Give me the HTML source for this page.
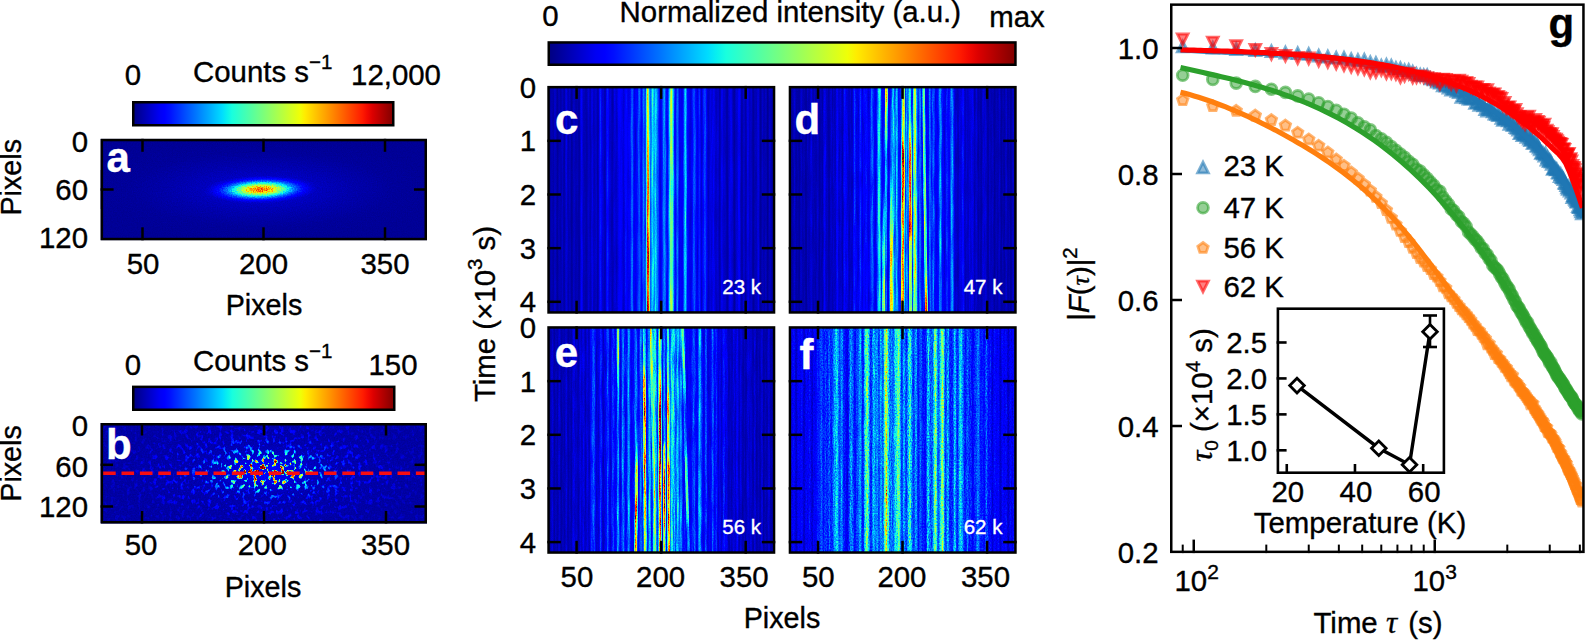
<!DOCTYPE html>
<html><head><meta charset="utf-8"><title>Figure</title>
<style>html,body{margin:0;padding:0;background:#fff;overflow:hidden}svg{display:block}text{font-family:"Liberation Sans",sans-serif;stroke-width:.35px}</style>
</head><body>
<svg width="1585" height="640" viewBox="0 0 1585 640">
<rect width="1585" height="640" fill="#fff"/>
<defs>
<linearGradient id="jet" x1="0" x2="1" y1="0" y2="0"><stop offset="0" stop-color="#000080"/><stop offset="0.02" stop-color="#000097"/><stop offset="0.04" stop-color="#0000ae"/><stop offset="0.06" stop-color="#0000c5"/><stop offset="0.08" stop-color="#0000dc"/><stop offset="0.1" stop-color="#0000f3"/><stop offset="0.12" stop-color="#0000ff"/><stop offset="0.14" stop-color="#000fff"/><stop offset="0.16" stop-color="#0024ff"/><stop offset="0.18" stop-color="#0038ff"/><stop offset="0.2" stop-color="#004dff"/><stop offset="0.22" stop-color="#0061ff"/><stop offset="0.24" stop-color="#0075ff"/><stop offset="0.26" stop-color="#008aff"/><stop offset="0.28" stop-color="#009eff"/><stop offset="0.3" stop-color="#00b2ff"/><stop offset="0.32" stop-color="#00c7ff"/><stop offset="0.34" stop-color="#00dbff"/><stop offset="0.36" stop-color="#08f0ef"/><stop offset="0.38" stop-color="#19ffde"/><stop offset="0.4" stop-color="#29ffce"/><stop offset="0.42" stop-color="#3affbd"/><stop offset="0.44" stop-color="#4affad"/><stop offset="0.46" stop-color="#5aff9c"/><stop offset="0.48" stop-color="#6bff8c"/><stop offset="0.5" stop-color="#7bff7b"/><stop offset="0.52" stop-color="#8cff6b"/><stop offset="0.54" stop-color="#9cff5a"/><stop offset="0.56" stop-color="#adff4a"/><stop offset="0.58" stop-color="#bdff3a"/><stop offset="0.6" stop-color="#ceff29"/><stop offset="0.62" stop-color="#deff19"/><stop offset="0.64" stop-color="#efff08"/><stop offset="0.66" stop-color="#ffec00"/><stop offset="0.68" stop-color="#ffd900"/><stop offset="0.7" stop-color="#ffc600"/><stop offset="0.72" stop-color="#ffb300"/><stop offset="0.74" stop-color="#ffa100"/><stop offset="0.76" stop-color="#ff8e00"/><stop offset="0.78" stop-color="#ff7b00"/><stop offset="0.8" stop-color="#ff6800"/><stop offset="0.82" stop-color="#ff5500"/><stop offset="0.84" stop-color="#ff4200"/><stop offset="0.86" stop-color="#ff2f00"/><stop offset="0.88" stop-color="#ff1c00"/><stop offset="0.9" stop-color="#f30900"/><stop offset="0.92" stop-color="#dc0000"/><stop offset="0.94" stop-color="#c50000"/><stop offset="0.96" stop-color="#ae0000"/><stop offset="0.98" stop-color="#970000"/><stop offset="1" stop-color="#800000"/></linearGradient>
<filter id="fa" x="0" y="0" width="100%" height="100%" color-interpolation-filters="sRGB"><feTurbulence type="fractalNoise" baseFrequency="0.8 0.8" numOctaves="1" seed="10"/><feColorMatrix type="matrix" values="1 0 0 0 0 1 0 0 0 0 1 0 0 0 0 0 0 0 0 1" result="n2"/><feComposite in="SourceGraphic" in2="n2" operator="arithmetic" k1="0.7" k2="0.65" k3="0.012" k4="-0.006" result="s2"/><feComponentTransfer in="s2"><feFuncR type="table" tableValues="0 0 0 0 0 0 0 0 0 0 0 0 0 0 0 0 0 0 0 0 0 0 0 0 0 0 0 0 0 0 0 0 0 0 0 0 0.0323 0.0645 0.0968 0.129 0.161 0.194 0.226 0.258 0.29 0.323 0.355 0.387 0.419 0.452 0.484 0.516 0.548 0.581 0.613 0.645 0.677 0.71 0.742 0.774 0.806 0.839 0.871 0.903 0.935 0.968 1 1 1 1 1 1 1 1 1 1 1 1 1 1 1 1 1 1 1 1 1 1 1 1 0.955 0.909 0.864 0.818 0.773 0.727 0.682 0.636 0.591 0.545 0.5"/><feFuncG type="table" tableValues="0 0 0 0 0 0 0 0 0 0 0 0 0 0.02 0.06 0.1 0.14 0.18 0.22 0.26 0.3 0.34 0.38 0.42 0.46 0.5 0.54 0.58 0.62 0.66 0.7 0.74 0.78 0.82 0.86 0.9 0.94 0.98 1 1 1 1 1 1 1 1 1 1 1 1 1 1 1 1 1 1 1 1 1 1 1 1 1 1 1 0.963 0.926 0.889 0.852 0.815 0.778 0.741 0.704 0.667 0.63 0.593 0.556 0.519 0.481 0.444 0.407 0.37 0.333 0.296 0.259 0.222 0.185 0.148 0.111 0.0741 0.037 0 0 0 0 0 0 0 0 0 0"/><feFuncB type="table" tableValues="0.5 0.545 0.591 0.636 0.682 0.727 0.773 0.818 0.864 0.909 0.955 1 1 1 1 1 1 1 1 1 1 1 1 1 1 1 1 1 1 1 1 1 1 1 1 0.968 0.935 0.903 0.871 0.839 0.806 0.774 0.742 0.71 0.677 0.645 0.613 0.581 0.548 0.516 0.484 0.452 0.419 0.387 0.355 0.323 0.29 0.258 0.226 0.194 0.161 0.129 0.0968 0.0645 0.0323 0 0 0 0 0 0 0 0 0 0 0 0 0 0 0 0 0 0 0 0 0 0 0 0 0 0 0 0 0 0 0 0 0 0 0 0"/></feComponentTransfer></filter>
<radialGradient id="ga1"><stop offset="0" stop-color="#131313"/><stop offset="0.25" stop-color="#0f0f0f"/><stop offset="0.5" stop-color="#0a0a0a"/><stop offset="0.75" stop-color="#060606"/><stop offset="1" stop-color="#050505"/></radialGradient>
<radialGradient id="ga2"><stop offset="0" stop-color="#fff" stop-opacity="0.783"/><stop offset="0.05" stop-color="#fff" stop-opacity="0.775"/><stop offset="0.1" stop-color="#fff" stop-opacity="0.753"/><stop offset="0.15" stop-color="#fff" stop-opacity="0.717"/><stop offset="0.2" stop-color="#fff" stop-opacity="0.669"/><stop offset="0.25" stop-color="#fff" stop-opacity="0.612"/><stop offset="0.3" stop-color="#fff" stop-opacity="0.548"/><stop offset="0.35" stop-color="#fff" stop-opacity="0.482"/><stop offset="0.4" stop-color="#fff" stop-opacity="0.415"/><stop offset="0.45" stop-color="#fff" stop-opacity="0.349"/><stop offset="0.5" stop-color="#fff" stop-opacity="0.288"/><stop offset="0.55" stop-color="#fff" stop-opacity="0.232"/><stop offset="0.6" stop-color="#fff" stop-opacity="0.183"/><stop offset="0.65" stop-color="#fff" stop-opacity="0.140"/><stop offset="0.7" stop-color="#fff" stop-opacity="0.104"/><stop offset="0.75" stop-color="#fff" stop-opacity="0.074"/><stop offset="0.8" stop-color="#fff" stop-opacity="0.051"/><stop offset="0.85" stop-color="#fff" stop-opacity="0.032"/><stop offset="0.9" stop-color="#fff" stop-opacity="0.018"/><stop offset="0.95" stop-color="#fff" stop-opacity="0.008"/><stop offset="1" stop-color="#fff" stop-opacity="0.000"/></radialGradient>
<filter id="fb" x="0" y="0" width="100%" height="100%" color-interpolation-filters="sRGB"><feTurbulence type="fractalNoise" baseFrequency="0.26 0.2" numOctaves="2" seed="11"/><feColorMatrix type="matrix" values="5.5 0 0 0 -2.95 5.5 0 0 0 -2.95 5.5 0 0 0 -2.95 0 0 0 0 1" result="sp"/><feTurbulence type="fractalNoise" baseFrequency="0.7 0.7" numOctaves="1" seed="5"/><feColorMatrix type="matrix" values="1 0 0 0 0 1 0 0 0 0 1 0 0 0 0 0 0 0 0 1" result="gr"/><feComposite in="SourceGraphic" in2="sp" operator="arithmetic" k1="1.35" k2="0.1" k3="0" k4="0.03" result="a1"/><feComposite in="a1" in2="gr" operator="arithmetic" k1="0.6" k2="0.7" k3="0.03" k4="-0.015" result="a2"/><feComponentTransfer in="a2"><feFuncR type="table" tableValues="0 0 0 0 0 0 0 0 0 0 0 0 0 0 0 0 0 0 0 0 0 0 0 0 0 0 0 0 0 0 0 0 0 0 0 0 0.0323 0.0645 0.0968 0.129 0.161 0.194 0.226 0.258 0.29 0.323 0.355 0.387 0.419 0.452 0.484 0.516 0.548 0.581 0.613 0.645 0.677 0.71 0.742 0.774 0.806 0.839 0.871 0.903 0.935 0.968 1 1 1 1 1 1 1 1 1 1 1 1 1 1 1 1 1 1 1 1 1 1 1 1 0.955 0.909 0.864 0.818 0.773 0.727 0.682 0.636 0.591 0.545 0.5"/><feFuncG type="table" tableValues="0 0 0 0 0 0 0 0 0 0 0 0 0 0.02 0.06 0.1 0.14 0.18 0.22 0.26 0.3 0.34 0.38 0.42 0.46 0.5 0.54 0.58 0.62 0.66 0.7 0.74 0.78 0.82 0.86 0.9 0.94 0.98 1 1 1 1 1 1 1 1 1 1 1 1 1 1 1 1 1 1 1 1 1 1 1 1 1 1 1 0.963 0.926 0.889 0.852 0.815 0.778 0.741 0.704 0.667 0.63 0.593 0.556 0.519 0.481 0.444 0.407 0.37 0.333 0.296 0.259 0.222 0.185 0.148 0.111 0.0741 0.037 0 0 0 0 0 0 0 0 0 0"/><feFuncB type="table" tableValues="0.5 0.545 0.591 0.636 0.682 0.727 0.773 0.818 0.864 0.909 0.955 1 1 1 1 1 1 1 1 1 1 1 1 1 1 1 1 1 1 1 1 1 1 1 1 0.968 0.935 0.903 0.871 0.839 0.806 0.774 0.742 0.71 0.677 0.645 0.613 0.581 0.548 0.516 0.484 0.452 0.419 0.387 0.355 0.323 0.29 0.258 0.226 0.194 0.161 0.129 0.0968 0.0645 0.0323 0 0 0 0 0 0 0 0 0 0 0 0 0 0 0 0 0 0 0 0 0 0 0 0 0 0 0 0 0 0 0 0 0 0 0 0"/></feComponentTransfer></filter>
<radialGradient id="gb1"><stop offset="0" stop-color="#e8e8e8"/><stop offset="0.05" stop-color="#e0e0e0"/><stop offset="0.1" stop-color="#c9c9c9"/><stop offset="0.15" stop-color="#a9a9a9"/><stop offset="0.2" stop-color="#858585"/><stop offset="0.25" stop-color="#656565"/><stop offset="0.3" stop-color="#4a4a4a"/><stop offset="0.35" stop-color="#373737"/><stop offset="0.4" stop-color="#2a2a2a"/><stop offset="0.45" stop-color="#212121"/><stop offset="0.5" stop-color="#1b1b1b"/><stop offset="0.55" stop-color="#171717"/><stop offset="0.6" stop-color="#141414"/><stop offset="0.65" stop-color="#121212"/><stop offset="0.7" stop-color="#0f0f0f"/><stop offset="0.75" stop-color="#0d0d0d"/><stop offset="0.8" stop-color="#0b0b0b"/><stop offset="0.85" stop-color="#0a0a0a"/><stop offset="0.9" stop-color="#080808"/><stop offset="0.95" stop-color="#070707"/><stop offset="1" stop-color="#060606"/></radialGradient>
<filter id="sb" x="-10%" y="-2%" width="120%" height="104%"><feGaussianBlur stdDeviation="0.7 0"/></filter>
<filter id="fc" x="0" y="0" width="100%" height="100%" color-interpolation-filters="sRGB"><feTurbulence type="fractalNoise" baseFrequency="0.55 0.025" numOctaves="2" seed="2"/><feColorMatrix type="matrix" values="1 0 0 0 0 1 0 0 0 0 1 0 0 0 0 0 0 0 0 1" result="n1"/><feComposite in="SourceGraphic" in2="n1" operator="arithmetic" k1="0.7" k2="0.65" k3="0" k4="0" result="s1"/><feTurbulence type="fractalNoise" baseFrequency="0.9 0.7" numOctaves="1" seed="9"/><feColorMatrix type="matrix" values="1 0 0 0 0 1 0 0 0 0 1 0 0 0 0 0 0 0 0 1" result="n2"/><feComposite in="s1" in2="n2" operator="arithmetic" k1="0.3" k2="0.85" k3="0" k4="-0" result="s2"/><feComponentTransfer in="s2"><feFuncR type="table" tableValues="0 0 0 0 0 0 0 0 0 0 0 0 0 0 0 0 0 0 0 0 0 0 0 0 0 0 0 0 0 0 0 0 0 0 0 0 0.0323 0.0645 0.0968 0.129 0.161 0.194 0.226 0.258 0.29 0.323 0.355 0.387 0.419 0.452 0.484 0.516 0.548 0.581 0.613 0.645 0.677 0.71 0.742 0.774 0.806 0.839 0.871 0.903 0.935 0.968 1 1 1 1 1 1 1 1 1 1 1 1 1 1 1 1 1 1 1 1 1 1 1 1 0.955 0.909 0.864 0.818 0.773 0.727 0.682 0.636 0.591 0.545 0.5"/><feFuncG type="table" tableValues="0 0 0 0 0 0 0 0 0 0 0 0 0 0.02 0.06 0.1 0.14 0.18 0.22 0.26 0.3 0.34 0.38 0.42 0.46 0.5 0.54 0.58 0.62 0.66 0.7 0.74 0.78 0.82 0.86 0.9 0.94 0.98 1 1 1 1 1 1 1 1 1 1 1 1 1 1 1 1 1 1 1 1 1 1 1 1 1 1 1 0.963 0.926 0.889 0.852 0.815 0.778 0.741 0.704 0.667 0.63 0.593 0.556 0.519 0.481 0.444 0.407 0.37 0.333 0.296 0.259 0.222 0.185 0.148 0.111 0.0741 0.037 0 0 0 0 0 0 0 0 0 0"/><feFuncB type="table" tableValues="0.5 0.545 0.591 0.636 0.682 0.727 0.773 0.818 0.864 0.909 0.955 1 1 1 1 1 1 1 1 1 1 1 1 1 1 1 1 1 1 1 1 1 1 1 1 0.968 0.935 0.903 0.871 0.839 0.806 0.774 0.742 0.71 0.677 0.645 0.613 0.581 0.548 0.516 0.484 0.452 0.419 0.387 0.355 0.323 0.29 0.258 0.226 0.194 0.161 0.129 0.0968 0.0645 0.0323 0 0 0 0 0 0 0 0 0 0 0 0 0 0 0 0 0 0 0 0 0 0 0 0 0 0 0 0 0 0 0 0 0 0 0 0"/></feComponentTransfer></filter>
<linearGradient id="hc" x1="0" x2="1" y1="0" y2="0"><stop offset="0.0000" stop-color="#101010"/><stop offset="0.0022" stop-color="#0d0d0d"/><stop offset="0.0044" stop-color="#090909"/><stop offset="0.0066" stop-color="#070707"/><stop offset="0.0088" stop-color="#070707"/><stop offset="0.0111" stop-color="#090909"/><stop offset="0.0133" stop-color="#0b0b0b"/><stop offset="0.0155" stop-color="#0b0b0b"/><stop offset="0.0177" stop-color="#0b0b0b"/><stop offset="0.0199" stop-color="#090909"/><stop offset="0.0221" stop-color="#090909"/><stop offset="0.0243" stop-color="#0a0a0a"/><stop offset="0.0265" stop-color="#0d0d0d"/><stop offset="0.0288" stop-color="#0f0f0f"/><stop offset="0.0310" stop-color="#101010"/><stop offset="0.0332" stop-color="#0e0e0e"/><stop offset="0.0354" stop-color="#0b0b0b"/><stop offset="0.0376" stop-color="#070707"/><stop offset="0.0398" stop-color="#060606"/><stop offset="0.0420" stop-color="#070707"/><stop offset="0.0442" stop-color="#090909"/><stop offset="0.0465" stop-color="#0c0c0c"/><stop offset="0.0487" stop-color="#0d0d0d"/><stop offset="0.0509" stop-color="#0c0c0c"/><stop offset="0.0531" stop-color="#0a0a0a"/><stop offset="0.0553" stop-color="#0a0a0a"/><stop offset="0.0575" stop-color="#0b0b0b"/><stop offset="0.0597" stop-color="#0d0d0d"/><stop offset="0.0619" stop-color="#0f0f0f"/><stop offset="0.0642" stop-color="#0f0f0f"/><stop offset="0.0664" stop-color="#0c0c0c"/><stop offset="0.0686" stop-color="#090909"/><stop offset="0.0708" stop-color="#080808"/><stop offset="0.0730" stop-color="#090909"/><stop offset="0.0752" stop-color="#0e0e0e"/><stop offset="0.0774" stop-color="#131313"/><stop offset="0.0796" stop-color="#151515"/><stop offset="0.0819" stop-color="#141414"/><stop offset="0.0841" stop-color="#101010"/><stop offset="0.0863" stop-color="#0d0d0d"/><stop offset="0.0885" stop-color="#0b0b0b"/><stop offset="0.0907" stop-color="#0b0b0b"/><stop offset="0.0929" stop-color="#0d0d0d"/><stop offset="0.0951" stop-color="#0e0e0e"/><stop offset="0.0973" stop-color="#0d0d0d"/><stop offset="0.0996" stop-color="#0a0a0a"/><stop offset="0.1018" stop-color="#070707"/><stop offset="0.1040" stop-color="#060606"/><stop offset="0.1062" stop-color="#070707"/><stop offset="0.1084" stop-color="#0a0a0a"/><stop offset="0.1106" stop-color="#0d0d0d"/><stop offset="0.1128" stop-color="#101010"/><stop offset="0.1150" stop-color="#0f0f0f"/><stop offset="0.1173" stop-color="#0d0d0d"/><stop offset="0.1195" stop-color="#0b0b0b"/><stop offset="0.1217" stop-color="#0a0a0a"/><stop offset="0.1239" stop-color="#0a0a0a"/><stop offset="0.1261" stop-color="#0c0c0c"/><stop offset="0.1283" stop-color="#0c0c0c"/><stop offset="0.1305" stop-color="#0c0c0c"/><stop offset="0.1327" stop-color="#090909"/><stop offset="0.1350" stop-color="#070707"/><stop offset="0.1372" stop-color="#070707"/><stop offset="0.1394" stop-color="#0a0a0a"/><stop offset="0.1416" stop-color="#0f0f0f"/><stop offset="0.1438" stop-color="#151515"/><stop offset="0.1460" stop-color="#191919"/><stop offset="0.1482" stop-color="#1a1a1a"/><stop offset="0.1504" stop-color="#161616"/><stop offset="0.1527" stop-color="#111111"/><stop offset="0.1549" stop-color="#0d0d0d"/><stop offset="0.1571" stop-color="#0c0c0c"/><stop offset="0.1593" stop-color="#0c0c0c"/><stop offset="0.1615" stop-color="#0c0c0c"/><stop offset="0.1637" stop-color="#0c0c0c"/><stop offset="0.1659" stop-color="#0a0a0a"/><stop offset="0.1681" stop-color="#090909"/><stop offset="0.1704" stop-color="#090909"/><stop offset="0.1726" stop-color="#0b0b0b"/><stop offset="0.1748" stop-color="#0f0f0f"/><stop offset="0.1770" stop-color="#111111"/><stop offset="0.1792" stop-color="#111111"/><stop offset="0.1814" stop-color="#0f0f0f"/><stop offset="0.1836" stop-color="#0c0c0c"/><stop offset="0.1858" stop-color="#0b0b0b"/><stop offset="0.1881" stop-color="#0d0d0d"/><stop offset="0.1903" stop-color="#121212"/><stop offset="0.1925" stop-color="#161616"/><stop offset="0.1947" stop-color="#171717"/><stop offset="0.1969" stop-color="#141414"/><stop offset="0.1991" stop-color="#101010"/><stop offset="0.2013" stop-color="#0d0d0d"/><stop offset="0.2035" stop-color="#0c0c0c"/><stop offset="0.2058" stop-color="#0e0e0e"/><stop offset="0.2080" stop-color="#101010"/><stop offset="0.2102" stop-color="#121212"/><stop offset="0.2124" stop-color="#111111"/><stop offset="0.2146" stop-color="#0d0d0d"/><stop offset="0.2168" stop-color="#0a0a0a"/><stop offset="0.2190" stop-color="#080808"/><stop offset="0.2212" stop-color="#0a0a0a"/><stop offset="0.2235" stop-color="#101010"/><stop offset="0.2257" stop-color="#191919"/><stop offset="0.2279" stop-color="#212121"/><stop offset="0.2301" stop-color="#252525"/><stop offset="0.2323" stop-color="#242424"/><stop offset="0.2345" stop-color="#1d1d1d"/><stop offset="0.2367" stop-color="#171717"/><stop offset="0.2389" stop-color="#141414"/><stop offset="0.2412" stop-color="#131313"/><stop offset="0.2434" stop-color="#121212"/><stop offset="0.2456" stop-color="#101010"/><stop offset="0.2478" stop-color="#0d0d0d"/><stop offset="0.2500" stop-color="#0a0a0a"/><stop offset="0.2522" stop-color="#0b0b0b"/><stop offset="0.2544" stop-color="#101010"/><stop offset="0.2566" stop-color="#191919"/><stop offset="0.2588" stop-color="#232323"/><stop offset="0.2611" stop-color="#292929"/><stop offset="0.2633" stop-color="#272727"/><stop offset="0.2655" stop-color="#202020"/><stop offset="0.2677" stop-color="#181818"/><stop offset="0.2699" stop-color="#131313"/><stop offset="0.2721" stop-color="#121212"/><stop offset="0.2743" stop-color="#121212"/><stop offset="0.2765" stop-color="#111111"/><stop offset="0.2788" stop-color="#0f0f0f"/><stop offset="0.2810" stop-color="#0c0c0c"/><stop offset="0.2832" stop-color="#0b0b0b"/><stop offset="0.2854" stop-color="#0b0b0b"/><stop offset="0.2876" stop-color="#0e0e0e"/><stop offset="0.2898" stop-color="#121212"/><stop offset="0.2920" stop-color="#141414"/><stop offset="0.2942" stop-color="#151515"/><stop offset="0.2965" stop-color="#131313"/><stop offset="0.2987" stop-color="#111111"/><stop offset="0.3009" stop-color="#0f0f0f"/><stop offset="0.3031" stop-color="#101010"/><stop offset="0.3053" stop-color="#121212"/><stop offset="0.3075" stop-color="#141414"/><stop offset="0.3097" stop-color="#171717"/><stop offset="0.3119" stop-color="#1a1a1a"/><stop offset="0.3142" stop-color="#1c1c1c"/><stop offset="0.3164" stop-color="#1d1d1d"/><stop offset="0.3186" stop-color="#1c1c1c"/><stop offset="0.3208" stop-color="#1b1b1b"/><stop offset="0.3230" stop-color="#1a1a1a"/><stop offset="0.3252" stop-color="#1a1a1a"/><stop offset="0.3274" stop-color="#181818"/><stop offset="0.3296" stop-color="#151515"/><stop offset="0.3319" stop-color="#121212"/><stop offset="0.3341" stop-color="#111111"/><stop offset="0.3363" stop-color="#141414"/><stop offset="0.3385" stop-color="#1a1a1a"/><stop offset="0.3407" stop-color="#202020"/><stop offset="0.3429" stop-color="#232323"/><stop offset="0.3451" stop-color="#212121"/><stop offset="0.3473" stop-color="#1c1c1c"/><stop offset="0.3496" stop-color="#181818"/><stop offset="0.3518" stop-color="#161616"/><stop offset="0.3540" stop-color="#171717"/><stop offset="0.3562" stop-color="#1a1a1a"/><stop offset="0.3584" stop-color="#1c1c1c"/><stop offset="0.3606" stop-color="#1d1d1d"/><stop offset="0.3628" stop-color="#212121"/><stop offset="0.3650" stop-color="#272727"/><stop offset="0.3673" stop-color="#303030"/><stop offset="0.3695" stop-color="#383838"/><stop offset="0.3717" stop-color="#393939"/><stop offset="0.3739" stop-color="#343434"/><stop offset="0.3761" stop-color="#2a2a2a"/><stop offset="0.3783" stop-color="#202020"/><stop offset="0.3805" stop-color="#191919"/><stop offset="0.3827" stop-color="#161616"/><stop offset="0.3850" stop-color="#171717"/><stop offset="0.3872" stop-color="#1a1a1a"/><stop offset="0.3894" stop-color="#1d1d1d"/><stop offset="0.3916" stop-color="#202020"/><stop offset="0.3938" stop-color="#232323"/><stop offset="0.3960" stop-color="#272727"/><stop offset="0.3982" stop-color="#2e2e2e"/><stop offset="0.4004" stop-color="#333333"/><stop offset="0.4027" stop-color="#353535"/><stop offset="0.4049" stop-color="#313131"/><stop offset="0.4071" stop-color="#2b2b2b"/><stop offset="0.4093" stop-color="#242424"/><stop offset="0.4115" stop-color="#202020"/><stop offset="0.4137" stop-color="#222222"/><stop offset="0.4159" stop-color="#292929"/><stop offset="0.4181" stop-color="#333333"/><stop offset="0.4204" stop-color="#3a3a3a"/><stop offset="0.4226" stop-color="#3a3a3a"/><stop offset="0.4248" stop-color="#323232"/><stop offset="0.4270" stop-color="#2b2b2b"/><stop offset="0.4292" stop-color="#2b2b2b"/><stop offset="0.4314" stop-color="#383838"/><stop offset="0.4336" stop-color="#515151"/><stop offset="0.4358" stop-color="#717171"/><stop offset="0.4381" stop-color="#8e8e8e"/><stop offset="0.4403" stop-color="#9d9d9d"/><stop offset="0.4425" stop-color="#979797"/><stop offset="0.4447" stop-color="#808080"/><stop offset="0.4469" stop-color="#626262"/><stop offset="0.4491" stop-color="#484848"/><stop offset="0.4513" stop-color="#393939"/><stop offset="0.4535" stop-color="#393939"/><stop offset="0.4558" stop-color="#434343"/><stop offset="0.4580" stop-color="#515151"/><stop offset="0.4602" stop-color="#5b5b5b"/><stop offset="0.4624" stop-color="#5b5b5b"/><stop offset="0.4646" stop-color="#515151"/><stop offset="0.4668" stop-color="#474747"/><stop offset="0.4690" stop-color="#444444"/><stop offset="0.4712" stop-color="#4a4a4a"/><stop offset="0.4735" stop-color="#525252"/><stop offset="0.4757" stop-color="#545454"/><stop offset="0.4779" stop-color="#4e4e4e"/><stop offset="0.4801" stop-color="#464646"/><stop offset="0.4823" stop-color="#3e3e3e"/><stop offset="0.4845" stop-color="#363636"/><stop offset="0.4867" stop-color="#2e2e2e"/><stop offset="0.4889" stop-color="#262626"/><stop offset="0.4912" stop-color="#1f1f1f"/><stop offset="0.4934" stop-color="#1a1a1a"/><stop offset="0.4956" stop-color="#181818"/><stop offset="0.4978" stop-color="#181818"/><stop offset="0.5000" stop-color="#1b1b1b"/><stop offset="0.5022" stop-color="#212121"/><stop offset="0.5044" stop-color="#282828"/><stop offset="0.5066" stop-color="#303030"/><stop offset="0.5088" stop-color="#383838"/><stop offset="0.5111" stop-color="#404040"/><stop offset="0.5133" stop-color="#444444"/><stop offset="0.5155" stop-color="#414141"/><stop offset="0.5177" stop-color="#393939"/><stop offset="0.5199" stop-color="#2f2f2f"/><stop offset="0.5221" stop-color="#262626"/><stop offset="0.5243" stop-color="#212121"/><stop offset="0.5265" stop-color="#1f1f1f"/><stop offset="0.5288" stop-color="#222222"/><stop offset="0.5310" stop-color="#2c2c2c"/><stop offset="0.5332" stop-color="#3c3c3c"/><stop offset="0.5354" stop-color="#505050"/><stop offset="0.5376" stop-color="#656565"/><stop offset="0.5398" stop-color="#777777"/><stop offset="0.5420" stop-color="#828282"/><stop offset="0.5442" stop-color="#838383"/><stop offset="0.5465" stop-color="#7c7c7c"/><stop offset="0.5487" stop-color="#6f6f6f"/><stop offset="0.5509" stop-color="#5e5e5e"/><stop offset="0.5531" stop-color="#4c4c4c"/><stop offset="0.5553" stop-color="#3b3b3b"/><stop offset="0.5575" stop-color="#2d2d2d"/><stop offset="0.5597" stop-color="#242424"/><stop offset="0.5619" stop-color="#202020"/><stop offset="0.5642" stop-color="#232323"/><stop offset="0.5664" stop-color="#2c2c2c"/><stop offset="0.5686" stop-color="#363636"/><stop offset="0.5708" stop-color="#3c3c3c"/><stop offset="0.5730" stop-color="#393939"/><stop offset="0.5752" stop-color="#2e2e2e"/><stop offset="0.5774" stop-color="#222222"/><stop offset="0.5796" stop-color="#1a1a1a"/><stop offset="0.5819" stop-color="#171717"/><stop offset="0.5841" stop-color="#191919"/><stop offset="0.5863" stop-color="#1b1b1b"/><stop offset="0.5885" stop-color="#1b1b1b"/><stop offset="0.5907" stop-color="#1b1b1b"/><stop offset="0.5929" stop-color="#1b1b1b"/><stop offset="0.5951" stop-color="#1d1d1d"/><stop offset="0.5973" stop-color="#262626"/><stop offset="0.5996" stop-color="#333333"/><stop offset="0.6018" stop-color="#434343"/><stop offset="0.6040" stop-color="#505050"/><stop offset="0.6062" stop-color="#555555"/><stop offset="0.6084" stop-color="#4e4e4e"/><stop offset="0.6106" stop-color="#404040"/><stop offset="0.6128" stop-color="#313131"/><stop offset="0.6150" stop-color="#262626"/><stop offset="0.6173" stop-color="#202020"/><stop offset="0.6195" stop-color="#1d1d1d"/><stop offset="0.6217" stop-color="#1b1b1b"/><stop offset="0.6239" stop-color="#191919"/><stop offset="0.6261" stop-color="#161616"/><stop offset="0.6283" stop-color="#151515"/><stop offset="0.6305" stop-color="#161616"/><stop offset="0.6327" stop-color="#181818"/><stop offset="0.6350" stop-color="#1b1b1b"/><stop offset="0.6372" stop-color="#202020"/><stop offset="0.6394" stop-color="#252525"/><stop offset="0.6416" stop-color="#2c2c2c"/><stop offset="0.6438" stop-color="#323232"/><stop offset="0.6460" stop-color="#343434"/><stop offset="0.6482" stop-color="#313131"/><stop offset="0.6504" stop-color="#2b2b2b"/><stop offset="0.6527" stop-color="#242424"/><stop offset="0.6549" stop-color="#1d1d1d"/><stop offset="0.6571" stop-color="#181818"/><stop offset="0.6593" stop-color="#161616"/><stop offset="0.6615" stop-color="#171717"/><stop offset="0.6637" stop-color="#1d1d1d"/><stop offset="0.6659" stop-color="#242424"/><stop offset="0.6681" stop-color="#282828"/><stop offset="0.6704" stop-color="#262626"/><stop offset="0.6726" stop-color="#1f1f1f"/><stop offset="0.6748" stop-color="#171717"/><stop offset="0.6770" stop-color="#121212"/><stop offset="0.6792" stop-color="#121212"/><stop offset="0.6814" stop-color="#161616"/><stop offset="0.6836" stop-color="#1b1b1b"/><stop offset="0.6858" stop-color="#212121"/><stop offset="0.6881" stop-color="#282828"/><stop offset="0.6903" stop-color="#2d2d2d"/><stop offset="0.6925" stop-color="#303030"/><stop offset="0.6947" stop-color="#2e2e2e"/><stop offset="0.6969" stop-color="#282828"/><stop offset="0.6991" stop-color="#212121"/><stop offset="0.7013" stop-color="#1a1a1a"/><stop offset="0.7035" stop-color="#151515"/><stop offset="0.7058" stop-color="#111111"/><stop offset="0.7080" stop-color="#0e0e0e"/><stop offset="0.7102" stop-color="#0f0f0f"/><stop offset="0.7124" stop-color="#111111"/><stop offset="0.7146" stop-color="#141414"/><stop offset="0.7168" stop-color="#161616"/><stop offset="0.7190" stop-color="#161616"/><stop offset="0.7212" stop-color="#151515"/><stop offset="0.7235" stop-color="#141414"/><stop offset="0.7257" stop-color="#151515"/><stop offset="0.7279" stop-color="#171717"/><stop offset="0.7301" stop-color="#191919"/><stop offset="0.7323" stop-color="#181818"/><stop offset="0.7345" stop-color="#161616"/><stop offset="0.7367" stop-color="#131313"/><stop offset="0.7389" stop-color="#101010"/><stop offset="0.7412" stop-color="#0e0e0e"/><stop offset="0.7434" stop-color="#0e0e0e"/><stop offset="0.7456" stop-color="#101010"/><stop offset="0.7478" stop-color="#121212"/><stop offset="0.7500" stop-color="#131313"/><stop offset="0.7522" stop-color="#111111"/><stop offset="0.7544" stop-color="#0e0e0e"/><stop offset="0.7566" stop-color="#0a0a0a"/><stop offset="0.7588" stop-color="#090909"/><stop offset="0.7611" stop-color="#0c0c0c"/><stop offset="0.7633" stop-color="#111111"/><stop offset="0.7655" stop-color="#171717"/><stop offset="0.7677" stop-color="#1a1a1a"/><stop offset="0.7699" stop-color="#1a1a1a"/><stop offset="0.7721" stop-color="#161616"/><stop offset="0.7743" stop-color="#111111"/><stop offset="0.7765" stop-color="#0f0f0f"/><stop offset="0.7788" stop-color="#0f0f0f"/><stop offset="0.7810" stop-color="#101010"/><stop offset="0.7832" stop-color="#101010"/><stop offset="0.7854" stop-color="#0e0e0e"/><stop offset="0.7876" stop-color="#0b0b0b"/><stop offset="0.7898" stop-color="#080808"/><stop offset="0.7920" stop-color="#070707"/><stop offset="0.7942" stop-color="#0a0a0a"/><stop offset="0.7965" stop-color="#0d0d0d"/><stop offset="0.7987" stop-color="#111111"/><stop offset="0.8009" stop-color="#141414"/><stop offset="0.8031" stop-color="#161616"/><stop offset="0.8053" stop-color="#171717"/><stop offset="0.8075" stop-color="#181818"/><stop offset="0.8097" stop-color="#181818"/><stop offset="0.8119" stop-color="#161616"/><stop offset="0.8142" stop-color="#131313"/><stop offset="0.8164" stop-color="#101010"/><stop offset="0.8186" stop-color="#0c0c0c"/><stop offset="0.8208" stop-color="#090909"/><stop offset="0.8230" stop-color="#070707"/><stop offset="0.8252" stop-color="#080808"/><stop offset="0.8274" stop-color="#0b0b0b"/><stop offset="0.8296" stop-color="#0f0f0f"/><stop offset="0.8319" stop-color="#111111"/><stop offset="0.8341" stop-color="#121212"/><stop offset="0.8363" stop-color="#131313"/><stop offset="0.8385" stop-color="#141414"/><stop offset="0.8407" stop-color="#181818"/><stop offset="0.8429" stop-color="#1b1b1b"/><stop offset="0.8451" stop-color="#1c1c1c"/><stop offset="0.8473" stop-color="#191919"/><stop offset="0.8496" stop-color="#141414"/><stop offset="0.8518" stop-color="#0e0e0e"/><stop offset="0.8540" stop-color="#0a0a0a"/><stop offset="0.8562" stop-color="#080808"/><stop offset="0.8584" stop-color="#090909"/><stop offset="0.8606" stop-color="#0c0c0c"/><stop offset="0.8628" stop-color="#101010"/><stop offset="0.8650" stop-color="#111111"/><stop offset="0.8673" stop-color="#101010"/><stop offset="0.8695" stop-color="#0d0d0d"/><stop offset="0.8717" stop-color="#0a0a0a"/><stop offset="0.8739" stop-color="#090909"/><stop offset="0.8761" stop-color="#0b0b0b"/><stop offset="0.8783" stop-color="#101010"/><stop offset="0.8805" stop-color="#151515"/><stop offset="0.8827" stop-color="#181818"/><stop offset="0.8850" stop-color="#171717"/><stop offset="0.8872" stop-color="#121212"/><stop offset="0.8894" stop-color="#0f0f0f"/><stop offset="0.8916" stop-color="#0d0d0d"/><stop offset="0.8938" stop-color="#0f0f0f"/><stop offset="0.8960" stop-color="#101010"/><stop offset="0.8982" stop-color="#101010"/><stop offset="0.9004" stop-color="#0e0e0e"/><stop offset="0.9027" stop-color="#0a0a0a"/><stop offset="0.9049" stop-color="#070707"/><stop offset="0.9071" stop-color="#060606"/><stop offset="0.9093" stop-color="#080808"/><stop offset="0.9115" stop-color="#0a0a0a"/><stop offset="0.9137" stop-color="#0c0c0c"/><stop offset="0.9159" stop-color="#0d0d0d"/><stop offset="0.9181" stop-color="#0c0c0c"/><stop offset="0.9204" stop-color="#0c0c0c"/><stop offset="0.9226" stop-color="#0e0e0e"/><stop offset="0.9248" stop-color="#121212"/><stop offset="0.9270" stop-color="#151515"/><stop offset="0.9292" stop-color="#161616"/><stop offset="0.9314" stop-color="#141414"/><stop offset="0.9336" stop-color="#0f0f0f"/><stop offset="0.9358" stop-color="#090909"/><stop offset="0.9381" stop-color="#060606"/><stop offset="0.9403" stop-color="#060606"/><stop offset="0.9425" stop-color="#080808"/><stop offset="0.9447" stop-color="#0c0c0c"/><stop offset="0.9469" stop-color="#0e0e0e"/><stop offset="0.9491" stop-color="#0e0e0e"/><stop offset="0.9513" stop-color="#0c0c0c"/><stop offset="0.9535" stop-color="#0b0b0b"/><stop offset="0.9558" stop-color="#0a0a0a"/><stop offset="0.9580" stop-color="#0b0b0b"/><stop offset="0.9602" stop-color="#0d0d0d"/><stop offset="0.9624" stop-color="#0e0e0e"/><stop offset="0.9646" stop-color="#0c0c0c"/><stop offset="0.9668" stop-color="#090909"/><stop offset="0.9690" stop-color="#060606"/><stop offset="0.9712" stop-color="#050505"/><stop offset="0.9735" stop-color="#070707"/><stop offset="0.9757" stop-color="#0a0a0a"/><stop offset="0.9779" stop-color="#0e0e0e"/><stop offset="0.9801" stop-color="#0f0f0f"/><stop offset="0.9823" stop-color="#0f0f0f"/><stop offset="0.9845" stop-color="#0c0c0c"/><stop offset="0.9867" stop-color="#0a0a0a"/><stop offset="0.9889" stop-color="#0a0a0a"/><stop offset="0.9912" stop-color="#0a0a0a"/><stop offset="0.9934" stop-color="#0c0c0c"/><stop offset="0.9956" stop-color="#0c0c0c"/><stop offset="0.9978" stop-color="#0b0b0b"/><stop offset="1.0000" stop-color="#080808"/></linearGradient>
<linearGradient id="oc0" gradientUnits="userSpaceOnUse" x1="0" x2="0" y1="86.9" y2="312.7"><stop offset="0" stop-color="#fff" stop-opacity="0"/><stop offset="0.15" stop-color="#fff" stop-opacity="0.05"/><stop offset="0.3" stop-color="#fff" stop-opacity="0.3"/><stop offset="0.5" stop-color="#fff" stop-opacity="0.5"/><stop offset="0.75" stop-color="#fff" stop-opacity="0.62"/><stop offset="1" stop-color="#fff" stop-opacity="0.6"/></linearGradient>
<linearGradient id="oc1" gradientUnits="userSpaceOnUse" x1="0" x2="0" y1="86.9" y2="312.7"><stop offset="0" stop-color="#fff" stop-opacity="0.1"/><stop offset="0.5" stop-color="#fff" stop-opacity="0"/><stop offset="1" stop-color="#fff" stop-opacity="0"/></linearGradient>
<filter id="fd" x="0" y="0" width="100%" height="100%" color-interpolation-filters="sRGB"><feTurbulence type="fractalNoise" baseFrequency="0.55 0.035" numOctaves="2" seed="4"/><feColorMatrix type="matrix" values="1 0 0 0 0 1 0 0 0 0 1 0 0 0 0 0 0 0 0 1" result="n1"/><feComposite in="SourceGraphic" in2="n1" operator="arithmetic" k1="0.9" k2="0.55" k3="0" k4="0" result="s1"/><feTurbulence type="fractalNoise" baseFrequency="0.9 0.7" numOctaves="1" seed="11"/><feColorMatrix type="matrix" values="1 0 0 0 0 1 0 0 0 0 1 0 0 0 0 0 0 0 0 1" result="n2"/><feComposite in="s1" in2="n2" operator="arithmetic" k1="0.44" k2="0.78" k3="0" k4="-0" result="s2"/><feComponentTransfer in="s2"><feFuncR type="table" tableValues="0 0 0 0 0 0 0 0 0 0 0 0 0 0 0 0 0 0 0 0 0 0 0 0 0 0 0 0 0 0 0 0 0 0 0 0 0.0323 0.0645 0.0968 0.129 0.161 0.194 0.226 0.258 0.29 0.323 0.355 0.387 0.419 0.452 0.484 0.516 0.548 0.581 0.613 0.645 0.677 0.71 0.742 0.774 0.806 0.839 0.871 0.903 0.935 0.968 1 1 1 1 1 1 1 1 1 1 1 1 1 1 1 1 1 1 1 1 1 1 1 1 0.955 0.909 0.864 0.818 0.773 0.727 0.682 0.636 0.591 0.545 0.5"/><feFuncG type="table" tableValues="0 0 0 0 0 0 0 0 0 0 0 0 0 0.02 0.06 0.1 0.14 0.18 0.22 0.26 0.3 0.34 0.38 0.42 0.46 0.5 0.54 0.58 0.62 0.66 0.7 0.74 0.78 0.82 0.86 0.9 0.94 0.98 1 1 1 1 1 1 1 1 1 1 1 1 1 1 1 1 1 1 1 1 1 1 1 1 1 1 1 0.963 0.926 0.889 0.852 0.815 0.778 0.741 0.704 0.667 0.63 0.593 0.556 0.519 0.481 0.444 0.407 0.37 0.333 0.296 0.259 0.222 0.185 0.148 0.111 0.0741 0.037 0 0 0 0 0 0 0 0 0 0"/><feFuncB type="table" tableValues="0.5 0.545 0.591 0.636 0.682 0.727 0.773 0.818 0.864 0.909 0.955 1 1 1 1 1 1 1 1 1 1 1 1 1 1 1 1 1 1 1 1 1 1 1 1 0.968 0.935 0.903 0.871 0.839 0.806 0.774 0.742 0.71 0.677 0.645 0.613 0.581 0.548 0.516 0.484 0.452 0.419 0.387 0.355 0.323 0.29 0.258 0.226 0.194 0.161 0.129 0.0968 0.0645 0.0323 0 0 0 0 0 0 0 0 0 0 0 0 0 0 0 0 0 0 0 0 0 0 0 0 0 0 0 0 0 0 0 0 0 0 0 0"/></feComponentTransfer></filter>
<linearGradient id="hd" x1="0" x2="1" y1="0" y2="0"><stop offset="0.0000" stop-color="#060606"/><stop offset="0.0022" stop-color="#070707"/><stop offset="0.0044" stop-color="#0a0a0a"/><stop offset="0.0066" stop-color="#0c0c0c"/><stop offset="0.0088" stop-color="#0b0b0b"/><stop offset="0.0111" stop-color="#090909"/><stop offset="0.0133" stop-color="#080808"/><stop offset="0.0155" stop-color="#0a0a0a"/><stop offset="0.0177" stop-color="#0d0d0d"/><stop offset="0.0199" stop-color="#101010"/><stop offset="0.0221" stop-color="#101010"/><stop offset="0.0243" stop-color="#0d0d0d"/><stop offset="0.0265" stop-color="#0a0a0a"/><stop offset="0.0288" stop-color="#080808"/><stop offset="0.0310" stop-color="#080808"/><stop offset="0.0332" stop-color="#0a0a0a"/><stop offset="0.0354" stop-color="#0b0b0b"/><stop offset="0.0376" stop-color="#0b0b0b"/><stop offset="0.0398" stop-color="#080808"/><stop offset="0.0420" stop-color="#070707"/><stop offset="0.0442" stop-color="#070707"/><stop offset="0.0465" stop-color="#0b0b0b"/><stop offset="0.0487" stop-color="#0e0e0e"/><stop offset="0.0509" stop-color="#101010"/><stop offset="0.0531" stop-color="#0f0f0f"/><stop offset="0.0553" stop-color="#0c0c0c"/><stop offset="0.0575" stop-color="#0a0a0a"/><stop offset="0.0597" stop-color="#0a0a0a"/><stop offset="0.0619" stop-color="#0c0c0c"/><stop offset="0.0642" stop-color="#0d0d0d"/><stop offset="0.0664" stop-color="#0c0c0c"/><stop offset="0.0686" stop-color="#090909"/><stop offset="0.0708" stop-color="#060606"/><stop offset="0.0730" stop-color="#060606"/><stop offset="0.0752" stop-color="#080808"/><stop offset="0.0774" stop-color="#0c0c0c"/><stop offset="0.0796" stop-color="#0e0e0e"/><stop offset="0.0819" stop-color="#0e0e0e"/><stop offset="0.0841" stop-color="#0c0c0c"/><stop offset="0.0863" stop-color="#0b0b0b"/><stop offset="0.0885" stop-color="#0c0c0c"/><stop offset="0.0907" stop-color="#0f0f0f"/><stop offset="0.0929" stop-color="#121212"/><stop offset="0.0951" stop-color="#141414"/><stop offset="0.0973" stop-color="#131313"/><stop offset="0.0996" stop-color="#0f0f0f"/><stop offset="0.1018" stop-color="#0c0c0c"/><stop offset="0.1040" stop-color="#0b0b0b"/><stop offset="0.1062" stop-color="#0c0c0c"/><stop offset="0.1084" stop-color="#0d0d0d"/><stop offset="0.1106" stop-color="#0d0d0d"/><stop offset="0.1128" stop-color="#0b0b0b"/><stop offset="0.1150" stop-color="#0a0a0a"/><stop offset="0.1173" stop-color="#0b0b0b"/><stop offset="0.1195" stop-color="#0d0d0d"/><stop offset="0.1217" stop-color="#101010"/><stop offset="0.1239" stop-color="#111111"/><stop offset="0.1261" stop-color="#0f0f0f"/><stop offset="0.1283" stop-color="#0b0b0b"/><stop offset="0.1305" stop-color="#080808"/><stop offset="0.1327" stop-color="#080808"/><stop offset="0.1350" stop-color="#0a0a0a"/><stop offset="0.1372" stop-color="#0c0c0c"/><stop offset="0.1394" stop-color="#0c0c0c"/><stop offset="0.1416" stop-color="#0a0a0a"/><stop offset="0.1438" stop-color="#090909"/><stop offset="0.1460" stop-color="#0a0a0a"/><stop offset="0.1482" stop-color="#0e0e0e"/><stop offset="0.1504" stop-color="#141414"/><stop offset="0.1527" stop-color="#191919"/><stop offset="0.1549" stop-color="#1a1a1a"/><stop offset="0.1571" stop-color="#181818"/><stop offset="0.1593" stop-color="#131313"/><stop offset="0.1615" stop-color="#0f0f0f"/><stop offset="0.1637" stop-color="#0e0e0e"/><stop offset="0.1659" stop-color="#0e0e0e"/><stop offset="0.1681" stop-color="#0d0d0d"/><stop offset="0.1704" stop-color="#0b0b0b"/><stop offset="0.1726" stop-color="#080808"/><stop offset="0.1748" stop-color="#070707"/><stop offset="0.1770" stop-color="#0a0a0a"/><stop offset="0.1792" stop-color="#0d0d0d"/><stop offset="0.1814" stop-color="#101010"/><stop offset="0.1836" stop-color="#111111"/><stop offset="0.1858" stop-color="#0f0f0f"/><stop offset="0.1881" stop-color="#0d0d0d"/><stop offset="0.1903" stop-color="#0c0c0c"/><stop offset="0.1925" stop-color="#0e0e0e"/><stop offset="0.1947" stop-color="#101010"/><stop offset="0.1969" stop-color="#101010"/><stop offset="0.1991" stop-color="#0f0f0f"/><stop offset="0.2013" stop-color="#0d0d0d"/><stop offset="0.2035" stop-color="#0f0f0f"/><stop offset="0.2058" stop-color="#141414"/><stop offset="0.2080" stop-color="#1a1a1a"/><stop offset="0.2102" stop-color="#1e1e1e"/><stop offset="0.2124" stop-color="#1c1c1c"/><stop offset="0.2146" stop-color="#171717"/><stop offset="0.2168" stop-color="#111111"/><stop offset="0.2190" stop-color="#0f0f0f"/><stop offset="0.2212" stop-color="#101010"/><stop offset="0.2235" stop-color="#121212"/><stop offset="0.2257" stop-color="#131313"/><stop offset="0.2279" stop-color="#121212"/><stop offset="0.2301" stop-color="#0e0e0e"/><stop offset="0.2323" stop-color="#0b0b0b"/><stop offset="0.2345" stop-color="#0b0b0b"/><stop offset="0.2367" stop-color="#101010"/><stop offset="0.2389" stop-color="#161616"/><stop offset="0.2412" stop-color="#1d1d1d"/><stop offset="0.2434" stop-color="#202020"/><stop offset="0.2456" stop-color="#1f1f1f"/><stop offset="0.2478" stop-color="#1b1b1b"/><stop offset="0.2500" stop-color="#181818"/><stop offset="0.2522" stop-color="#171717"/><stop offset="0.2544" stop-color="#171717"/><stop offset="0.2566" stop-color="#151515"/><stop offset="0.2588" stop-color="#121212"/><stop offset="0.2611" stop-color="#0f0f0f"/><stop offset="0.2633" stop-color="#0d0d0d"/><stop offset="0.2655" stop-color="#0e0e0e"/><stop offset="0.2677" stop-color="#111111"/><stop offset="0.2699" stop-color="#111111"/><stop offset="0.2721" stop-color="#101010"/><stop offset="0.2743" stop-color="#0e0e0e"/><stop offset="0.2765" stop-color="#0d0d0d"/><stop offset="0.2788" stop-color="#111111"/><stop offset="0.2810" stop-color="#181818"/><stop offset="0.2832" stop-color="#212121"/><stop offset="0.2854" stop-color="#282828"/><stop offset="0.2876" stop-color="#2a2a2a"/><stop offset="0.2898" stop-color="#252525"/><stop offset="0.2920" stop-color="#1e1e1e"/><stop offset="0.2942" stop-color="#191919"/><stop offset="0.2965" stop-color="#171717"/><stop offset="0.2987" stop-color="#161616"/><stop offset="0.3009" stop-color="#151515"/><stop offset="0.3031" stop-color="#151515"/><stop offset="0.3053" stop-color="#171717"/><stop offset="0.3075" stop-color="#1d1d1d"/><stop offset="0.3097" stop-color="#252525"/><stop offset="0.3119" stop-color="#292929"/><stop offset="0.3142" stop-color="#272727"/><stop offset="0.3164" stop-color="#212121"/><stop offset="0.3186" stop-color="#1a1a1a"/><stop offset="0.3208" stop-color="#161616"/><stop offset="0.3230" stop-color="#161616"/><stop offset="0.3252" stop-color="#181818"/><stop offset="0.3274" stop-color="#1a1a1a"/><stop offset="0.3296" stop-color="#1b1b1b"/><stop offset="0.3319" stop-color="#1c1c1c"/><stop offset="0.3341" stop-color="#1d1d1d"/><stop offset="0.3363" stop-color="#1f1f1f"/><stop offset="0.3385" stop-color="#212121"/><stop offset="0.3407" stop-color="#212121"/><stop offset="0.3429" stop-color="#1f1f1f"/><stop offset="0.3451" stop-color="#1b1b1b"/><stop offset="0.3473" stop-color="#181818"/><stop offset="0.3496" stop-color="#161616"/><stop offset="0.3518" stop-color="#171717"/><stop offset="0.3540" stop-color="#1c1c1c"/><stop offset="0.3562" stop-color="#232323"/><stop offset="0.3584" stop-color="#2a2a2a"/><stop offset="0.3606" stop-color="#303030"/><stop offset="0.3628" stop-color="#353535"/><stop offset="0.3650" stop-color="#363636"/><stop offset="0.3673" stop-color="#333333"/><stop offset="0.3695" stop-color="#2d2d2d"/><stop offset="0.3717" stop-color="#262626"/><stop offset="0.3739" stop-color="#1f1f1f"/><stop offset="0.3761" stop-color="#1a1a1a"/><stop offset="0.3783" stop-color="#171717"/><stop offset="0.3805" stop-color="#181818"/><stop offset="0.3827" stop-color="#1d1d1d"/><stop offset="0.3850" stop-color="#252525"/><stop offset="0.3872" stop-color="#303030"/><stop offset="0.3894" stop-color="#3e3e3e"/><stop offset="0.3916" stop-color="#4c4c4c"/><stop offset="0.3938" stop-color="#5a5a5a"/><stop offset="0.3960" stop-color="#616161"/><stop offset="0.3982" stop-color="#5e5e5e"/><stop offset="0.4004" stop-color="#515151"/><stop offset="0.4027" stop-color="#3f3f3f"/><stop offset="0.4049" stop-color="#2d2d2d"/><stop offset="0.4071" stop-color="#202020"/><stop offset="0.4093" stop-color="#1a1a1a"/><stop offset="0.4115" stop-color="#1b1b1b"/><stop offset="0.4137" stop-color="#1e1e1e"/><stop offset="0.4159" stop-color="#202020"/><stop offset="0.4181" stop-color="#212121"/><stop offset="0.4204" stop-color="#1f1f1f"/><stop offset="0.4226" stop-color="#1d1d1d"/><stop offset="0.4248" stop-color="#1d1d1d"/><stop offset="0.4270" stop-color="#1f1f1f"/><stop offset="0.4292" stop-color="#212121"/><stop offset="0.4314" stop-color="#202020"/><stop offset="0.4336" stop-color="#1e1e1e"/><stop offset="0.4358" stop-color="#1a1a1a"/><stop offset="0.4381" stop-color="#191919"/><stop offset="0.4403" stop-color="#1a1a1a"/><stop offset="0.4425" stop-color="#1d1d1d"/><stop offset="0.4447" stop-color="#212121"/><stop offset="0.4469" stop-color="#242424"/><stop offset="0.4491" stop-color="#282828"/><stop offset="0.4513" stop-color="#313131"/><stop offset="0.4535" stop-color="#3f3f3f"/><stop offset="0.4558" stop-color="#4e4e4e"/><stop offset="0.4580" stop-color="#565656"/><stop offset="0.4602" stop-color="#535353"/><stop offset="0.4624" stop-color="#474747"/><stop offset="0.4646" stop-color="#393939"/><stop offset="0.4668" stop-color="#343434"/><stop offset="0.4690" stop-color="#3a3a3a"/><stop offset="0.4712" stop-color="#464646"/><stop offset="0.4735" stop-color="#4e4e4e"/><stop offset="0.4757" stop-color="#4a4a4a"/><stop offset="0.4779" stop-color="#3c3c3c"/><stop offset="0.4801" stop-color="#2e2e2e"/><stop offset="0.4823" stop-color="#242424"/><stop offset="0.4845" stop-color="#222222"/><stop offset="0.4867" stop-color="#242424"/><stop offset="0.4889" stop-color="#262626"/><stop offset="0.4912" stop-color="#252525"/><stop offset="0.4934" stop-color="#222222"/><stop offset="0.4956" stop-color="#1f1f1f"/><stop offset="0.4978" stop-color="#1e1e1e"/><stop offset="0.5000" stop-color="#1f1f1f"/><stop offset="0.5022" stop-color="#212121"/><stop offset="0.5044" stop-color="#222222"/><stop offset="0.5066" stop-color="#222222"/><stop offset="0.5088" stop-color="#242424"/><stop offset="0.5111" stop-color="#2c2c2c"/><stop offset="0.5133" stop-color="#393939"/><stop offset="0.5155" stop-color="#464646"/><stop offset="0.5177" stop-color="#4a4a4a"/><stop offset="0.5199" stop-color="#434343"/><stop offset="0.5221" stop-color="#363636"/><stop offset="0.5243" stop-color="#292929"/><stop offset="0.5265" stop-color="#232323"/><stop offset="0.5288" stop-color="#212121"/><stop offset="0.5310" stop-color="#222222"/><stop offset="0.5332" stop-color="#222222"/><stop offset="0.5354" stop-color="#212121"/><stop offset="0.5376" stop-color="#1e1e1e"/><stop offset="0.5398" stop-color="#1f1f1f"/><stop offset="0.5420" stop-color="#262626"/><stop offset="0.5442" stop-color="#343434"/><stop offset="0.5465" stop-color="#4a4a4a"/><stop offset="0.5487" stop-color="#646464"/><stop offset="0.5509" stop-color="#7a7a7a"/><stop offset="0.5531" stop-color="#888888"/><stop offset="0.5553" stop-color="#898989"/><stop offset="0.5575" stop-color="#7d7d7d"/><stop offset="0.5597" stop-color="#686868"/><stop offset="0.5619" stop-color="#515151"/><stop offset="0.5642" stop-color="#3c3c3c"/><stop offset="0.5664" stop-color="#2d2d2d"/><stop offset="0.5686" stop-color="#262626"/><stop offset="0.5708" stop-color="#292929"/><stop offset="0.5730" stop-color="#323232"/><stop offset="0.5752" stop-color="#3b3b3b"/><stop offset="0.5774" stop-color="#3e3e3e"/><stop offset="0.5796" stop-color="#373737"/><stop offset="0.5819" stop-color="#2c2c2c"/><stop offset="0.5841" stop-color="#232323"/><stop offset="0.5863" stop-color="#202020"/><stop offset="0.5885" stop-color="#212121"/><stop offset="0.5907" stop-color="#232323"/><stop offset="0.5929" stop-color="#222222"/><stop offset="0.5951" stop-color="#1f1f1f"/><stop offset="0.5973" stop-color="#1b1b1b"/><stop offset="0.5996" stop-color="#191919"/><stop offset="0.6018" stop-color="#1a1a1a"/><stop offset="0.6040" stop-color="#1c1c1c"/><stop offset="0.6062" stop-color="#1d1d1d"/><stop offset="0.6084" stop-color="#1c1c1c"/><stop offset="0.6106" stop-color="#1b1b1b"/><stop offset="0.6128" stop-color="#1d1d1d"/><stop offset="0.6150" stop-color="#242424"/><stop offset="0.6173" stop-color="#2f2f2f"/><stop offset="0.6195" stop-color="#383838"/><stop offset="0.6217" stop-color="#3a3a3a"/><stop offset="0.6239" stop-color="#333333"/><stop offset="0.6261" stop-color="#2a2a2a"/><stop offset="0.6283" stop-color="#252525"/><stop offset="0.6305" stop-color="#292929"/><stop offset="0.6327" stop-color="#323232"/><stop offset="0.6350" stop-color="#393939"/><stop offset="0.6372" stop-color="#383838"/><stop offset="0.6394" stop-color="#2f2f2f"/><stop offset="0.6416" stop-color="#232323"/><stop offset="0.6438" stop-color="#1c1c1c"/><stop offset="0.6460" stop-color="#1a1a1a"/><stop offset="0.6482" stop-color="#1b1b1b"/><stop offset="0.6504" stop-color="#1d1d1d"/><stop offset="0.6527" stop-color="#1d1d1d"/><stop offset="0.6549" stop-color="#1c1c1c"/><stop offset="0.6571" stop-color="#1e1e1e"/><stop offset="0.6593" stop-color="#252525"/><stop offset="0.6615" stop-color="#333333"/><stop offset="0.6637" stop-color="#424242"/><stop offset="0.6659" stop-color="#4b4b4b"/><stop offset="0.6681" stop-color="#494949"/><stop offset="0.6704" stop-color="#3d3d3d"/><stop offset="0.6726" stop-color="#2d2d2d"/><stop offset="0.6748" stop-color="#222222"/><stop offset="0.6770" stop-color="#1d1d1d"/><stop offset="0.6792" stop-color="#1a1a1a"/><stop offset="0.6814" stop-color="#191919"/><stop offset="0.6836" stop-color="#161616"/><stop offset="0.6858" stop-color="#151515"/><stop offset="0.6881" stop-color="#161616"/><stop offset="0.6903" stop-color="#1b1b1b"/><stop offset="0.6925" stop-color="#222222"/><stop offset="0.6947" stop-color="#292929"/><stop offset="0.6969" stop-color="#2b2b2b"/><stop offset="0.6991" stop-color="#272727"/><stop offset="0.7013" stop-color="#212121"/><stop offset="0.7035" stop-color="#1c1c1c"/><stop offset="0.7058" stop-color="#1b1b1b"/><stop offset="0.7080" stop-color="#1f1f1f"/><stop offset="0.7102" stop-color="#272727"/><stop offset="0.7124" stop-color="#313131"/><stop offset="0.7146" stop-color="#3c3c3c"/><stop offset="0.7168" stop-color="#434343"/><stop offset="0.7190" stop-color="#454545"/><stop offset="0.7212" stop-color="#404040"/><stop offset="0.7235" stop-color="#353535"/><stop offset="0.7257" stop-color="#272727"/><stop offset="0.7279" stop-color="#1b1b1b"/><stop offset="0.7301" stop-color="#141414"/><stop offset="0.7323" stop-color="#111111"/><stop offset="0.7345" stop-color="#111111"/><stop offset="0.7367" stop-color="#121212"/><stop offset="0.7389" stop-color="#121212"/><stop offset="0.7412" stop-color="#101010"/><stop offset="0.7434" stop-color="#0d0d0d"/><stop offset="0.7456" stop-color="#0c0c0c"/><stop offset="0.7478" stop-color="#0f0f0f"/><stop offset="0.7500" stop-color="#121212"/><stop offset="0.7522" stop-color="#151515"/><stop offset="0.7544" stop-color="#151515"/><stop offset="0.7566" stop-color="#141414"/><stop offset="0.7588" stop-color="#141414"/><stop offset="0.7611" stop-color="#171717"/><stop offset="0.7633" stop-color="#1d1d1d"/><stop offset="0.7655" stop-color="#232323"/><stop offset="0.7677" stop-color="#232323"/><stop offset="0.7699" stop-color="#1d1d1d"/><stop offset="0.7721" stop-color="#151515"/><stop offset="0.7743" stop-color="#0e0e0e"/><stop offset="0.7765" stop-color="#0c0c0c"/><stop offset="0.7788" stop-color="#0e0e0e"/><stop offset="0.7810" stop-color="#111111"/><stop offset="0.7832" stop-color="#121212"/><stop offset="0.7854" stop-color="#111111"/><stop offset="0.7876" stop-color="#0f0f0f"/><stop offset="0.7898" stop-color="#0e0e0e"/><stop offset="0.7920" stop-color="#101010"/><stop offset="0.7942" stop-color="#121212"/><stop offset="0.7965" stop-color="#141414"/><stop offset="0.7987" stop-color="#131313"/><stop offset="0.8009" stop-color="#121212"/><stop offset="0.8031" stop-color="#131313"/><stop offset="0.8053" stop-color="#151515"/><stop offset="0.8075" stop-color="#171717"/><stop offset="0.8097" stop-color="#181818"/><stop offset="0.8119" stop-color="#151515"/><stop offset="0.8142" stop-color="#111111"/><stop offset="0.8164" stop-color="#0d0d0d"/><stop offset="0.8186" stop-color="#0c0c0c"/><stop offset="0.8208" stop-color="#0d0d0d"/><stop offset="0.8230" stop-color="#111111"/><stop offset="0.8252" stop-color="#131313"/><stop offset="0.8274" stop-color="#121212"/><stop offset="0.8296" stop-color="#0e0e0e"/><stop offset="0.8319" stop-color="#0b0b0b"/><stop offset="0.8341" stop-color="#090909"/><stop offset="0.8363" stop-color="#0a0a0a"/><stop offset="0.8385" stop-color="#0c0c0c"/><stop offset="0.8407" stop-color="#0d0d0d"/><stop offset="0.8429" stop-color="#0c0c0c"/><stop offset="0.8451" stop-color="#0a0a0a"/><stop offset="0.8473" stop-color="#080808"/><stop offset="0.8496" stop-color="#0a0a0a"/><stop offset="0.8518" stop-color="#0e0e0e"/><stop offset="0.8540" stop-color="#111111"/><stop offset="0.8562" stop-color="#131313"/><stop offset="0.8584" stop-color="#131313"/><stop offset="0.8606" stop-color="#121212"/><stop offset="0.8628" stop-color="#121212"/><stop offset="0.8650" stop-color="#131313"/><stop offset="0.8673" stop-color="#131313"/><stop offset="0.8695" stop-color="#111111"/><stop offset="0.8717" stop-color="#0e0e0e"/><stop offset="0.8739" stop-color="#0a0a0a"/><stop offset="0.8761" stop-color="#070707"/><stop offset="0.8783" stop-color="#070707"/><stop offset="0.8805" stop-color="#0a0a0a"/><stop offset="0.8827" stop-color="#0e0e0e"/><stop offset="0.8850" stop-color="#101010"/><stop offset="0.8872" stop-color="#0f0f0f"/><stop offset="0.8894" stop-color="#0c0c0c"/><stop offset="0.8916" stop-color="#0b0b0b"/><stop offset="0.8938" stop-color="#0c0c0c"/><stop offset="0.8960" stop-color="#0e0e0e"/><stop offset="0.8982" stop-color="#0f0f0f"/><stop offset="0.9004" stop-color="#0e0e0e"/><stop offset="0.9027" stop-color="#0a0a0a"/><stop offset="0.9049" stop-color="#070707"/><stop offset="0.9071" stop-color="#060606"/><stop offset="0.9093" stop-color="#080808"/><stop offset="0.9115" stop-color="#0b0b0b"/><stop offset="0.9137" stop-color="#0d0d0d"/><stop offset="0.9159" stop-color="#0d0d0d"/><stop offset="0.9181" stop-color="#0b0b0b"/><stop offset="0.9204" stop-color="#0a0a0a"/><stop offset="0.9226" stop-color="#0b0b0b"/><stop offset="0.9248" stop-color="#0e0e0e"/><stop offset="0.9270" stop-color="#101010"/><stop offset="0.9292" stop-color="#101010"/><stop offset="0.9314" stop-color="#0d0d0d"/><stop offset="0.9336" stop-color="#090909"/><stop offset="0.9358" stop-color="#070707"/><stop offset="0.9381" stop-color="#070707"/><stop offset="0.9403" stop-color="#0a0a0a"/><stop offset="0.9425" stop-color="#0c0c0c"/><stop offset="0.9447" stop-color="#0b0b0b"/><stop offset="0.9469" stop-color="#090909"/><stop offset="0.9491" stop-color="#080808"/><stop offset="0.9513" stop-color="#090909"/><stop offset="0.9535" stop-color="#0c0c0c"/><stop offset="0.9558" stop-color="#0f0f0f"/><stop offset="0.9580" stop-color="#111111"/><stop offset="0.9602" stop-color="#0f0f0f"/><stop offset="0.9624" stop-color="#0b0b0b"/><stop offset="0.9646" stop-color="#090909"/><stop offset="0.9668" stop-color="#090909"/><stop offset="0.9690" stop-color="#0a0a0a"/><stop offset="0.9712" stop-color="#0c0c0c"/><stop offset="0.9735" stop-color="#0b0b0b"/><stop offset="0.9757" stop-color="#090909"/><stop offset="0.9779" stop-color="#060606"/><stop offset="0.9801" stop-color="#060606"/><stop offset="0.9823" stop-color="#090909"/><stop offset="0.9845" stop-color="#0d0d0d"/><stop offset="0.9867" stop-color="#0f0f0f"/><stop offset="0.9889" stop-color="#0f0f0f"/><stop offset="0.9912" stop-color="#0d0d0d"/><stop offset="0.9934" stop-color="#0a0a0a"/><stop offset="0.9956" stop-color="#0a0a0a"/><stop offset="0.9978" stop-color="#0c0c0c"/><stop offset="1.0000" stop-color="#0d0d0d"/></linearGradient>
<linearGradient id="od0" gradientUnits="userSpaceOnUse" x1="0" x2="0" y1="86.9" y2="312.7"><stop offset="0" stop-color="#fff" stop-opacity="0.62"/><stop offset="0.15" stop-color="#fff" stop-opacity="0.45"/><stop offset="0.3" stop-color="#fff" stop-opacity="0.25"/><stop offset="0.5" stop-color="#fff" stop-opacity="0.15"/><stop offset="1" stop-color="#fff" stop-opacity="0.1"/></linearGradient>
<linearGradient id="od1" gradientUnits="userSpaceOnUse" x1="0" x2="0" y1="86.9" y2="312.7"><stop offset="0" stop-color="#fff" stop-opacity="0"/><stop offset="0.45" stop-color="#fff" stop-opacity="0"/><stop offset="0.6" stop-color="#fff" stop-opacity="0.2"/><stop offset="0.8" stop-color="#fff" stop-opacity="0.42"/><stop offset="1" stop-color="#fff" stop-opacity="0.45"/></linearGradient>
<linearGradient id="od2" gradientUnits="userSpaceOnUse" x1="0" x2="0" y1="86.9" y2="312.7"><stop offset="0" stop-color="#fff" stop-opacity="0"/><stop offset="0.4" stop-color="#fff" stop-opacity="0.1"/><stop offset="0.55" stop-color="#fff" stop-opacity="0.35"/><stop offset="0.75" stop-color="#fff" stop-opacity="0.62"/><stop offset="1" stop-color="#fff" stop-opacity="0.6"/></linearGradient>
<linearGradient id="od3" gradientUnits="userSpaceOnUse" x1="0" x2="0" y1="86.9" y2="312.7"><stop offset="0" stop-color="#fff" stop-opacity="0.5"/><stop offset="0.2" stop-color="#fff" stop-opacity="0.55"/><stop offset="0.3" stop-color="#fff" stop-opacity="0.85"/><stop offset="0.45" stop-color="#fff" stop-opacity="0.8"/><stop offset="0.6" stop-color="#fff" stop-opacity="0.7"/><stop offset="1" stop-color="#fff" stop-opacity="0.72"/></linearGradient>
<linearGradient id="od4" gradientUnits="userSpaceOnUse" x1="0" x2="0" y1="86.9" y2="312.7"><stop offset="0" stop-color="#fff" stop-opacity="0.2"/><stop offset="0.15" stop-color="#fff" stop-opacity="0.3"/><stop offset="0.25" stop-color="#fff" stop-opacity="0.7"/><stop offset="0.45" stop-color="#fff" stop-opacity="0.8"/><stop offset="0.62" stop-color="#fff" stop-opacity="0.85"/><stop offset="0.72" stop-color="#fff" stop-opacity="0.5"/><stop offset="1" stop-color="#fff" stop-opacity="0.5"/></linearGradient>
<linearGradient id="od5" gradientUnits="userSpaceOnUse" x1="0" x2="0" y1="86.9" y2="312.7"><stop offset="0" stop-color="#fff" stop-opacity="0.1"/><stop offset="0.6" stop-color="#fff" stop-opacity="0.05"/><stop offset="0.75" stop-color="#fff" stop-opacity="0.15"/><stop offset="1" stop-color="#fff" stop-opacity="0.15"/></linearGradient>
<linearGradient id="od6" gradientUnits="userSpaceOnUse" x1="0" x2="0" y1="86.9" y2="312.7"><stop offset="0" stop-color="#fff" stop-opacity="0.38"/><stop offset="0.3" stop-color="#fff" stop-opacity="0.35"/><stop offset="0.5" stop-color="#fff" stop-opacity="0.45"/><stop offset="0.75" stop-color="#fff" stop-opacity="0.45"/><stop offset="0.9" stop-color="#fff" stop-opacity="0.6"/><stop offset="1" stop-color="#fff" stop-opacity="0.85"/></linearGradient>
<filter id="fe" x="0" y="0" width="100%" height="100%" color-interpolation-filters="sRGB"><feTurbulence type="fractalNoise" baseFrequency="0.55 0.04" numOctaves="2" seed="6"/><feColorMatrix type="matrix" values="1 0 0 0 0 1 0 0 0 0 1 0 0 0 0 0 0 0 0 1" result="n1"/><feComposite in="SourceGraphic" in2="n1" operator="arithmetic" k1="1" k2="0.5" k3="0" k4="0" result="s1"/><feTurbulence type="fractalNoise" baseFrequency="0.9 0.7" numOctaves="1" seed="13"/><feColorMatrix type="matrix" values="1 0 0 0 0 1 0 0 0 0 1 0 0 0 0 0 0 0 0 1" result="n2"/><feComposite in="s1" in2="n2" operator="arithmetic" k1="0.6" k2="0.7" k3="0" k4="-0" result="s2"/><feComponentTransfer in="s2"><feFuncR type="table" tableValues="0 0 0 0 0 0 0 0 0 0 0 0 0 0 0 0 0 0 0 0 0 0 0 0 0 0 0 0 0 0 0 0 0 0 0 0 0.0323 0.0645 0.0968 0.129 0.161 0.194 0.226 0.258 0.29 0.323 0.355 0.387 0.419 0.452 0.484 0.516 0.548 0.581 0.613 0.645 0.677 0.71 0.742 0.774 0.806 0.839 0.871 0.903 0.935 0.968 1 1 1 1 1 1 1 1 1 1 1 1 1 1 1 1 1 1 1 1 1 1 1 1 0.955 0.909 0.864 0.818 0.773 0.727 0.682 0.636 0.591 0.545 0.5"/><feFuncG type="table" tableValues="0 0 0 0 0 0 0 0 0 0 0 0 0 0.02 0.06 0.1 0.14 0.18 0.22 0.26 0.3 0.34 0.38 0.42 0.46 0.5 0.54 0.58 0.62 0.66 0.7 0.74 0.78 0.82 0.86 0.9 0.94 0.98 1 1 1 1 1 1 1 1 1 1 1 1 1 1 1 1 1 1 1 1 1 1 1 1 1 1 1 0.963 0.926 0.889 0.852 0.815 0.778 0.741 0.704 0.667 0.63 0.593 0.556 0.519 0.481 0.444 0.407 0.37 0.333 0.296 0.259 0.222 0.185 0.148 0.111 0.0741 0.037 0 0 0 0 0 0 0 0 0 0"/><feFuncB type="table" tableValues="0.5 0.545 0.591 0.636 0.682 0.727 0.773 0.818 0.864 0.909 0.955 1 1 1 1 1 1 1 1 1 1 1 1 1 1 1 1 1 1 1 1 1 1 1 1 0.968 0.935 0.903 0.871 0.839 0.806 0.774 0.742 0.71 0.677 0.645 0.613 0.581 0.548 0.516 0.484 0.452 0.419 0.387 0.355 0.323 0.29 0.258 0.226 0.194 0.161 0.129 0.0968 0.0645 0.0323 0 0 0 0 0 0 0 0 0 0 0 0 0 0 0 0 0 0 0 0 0 0 0 0 0 0 0 0 0 0 0 0 0 0 0 0"/></feComponentTransfer></filter>
<linearGradient id="he" x1="0" x2="1" y1="0" y2="0"><stop offset="0.0000" stop-color="#0c0c0c"/><stop offset="0.0022" stop-color="#0e0e0e"/><stop offset="0.0044" stop-color="#0d0d0d"/><stop offset="0.0066" stop-color="#0b0b0b"/><stop offset="0.0088" stop-color="#090909"/><stop offset="0.0111" stop-color="#0a0a0a"/><stop offset="0.0133" stop-color="#0e0e0e"/><stop offset="0.0155" stop-color="#121212"/><stop offset="0.0177" stop-color="#141414"/><stop offset="0.0199" stop-color="#121212"/><stop offset="0.0221" stop-color="#0e0e0e"/><stop offset="0.0243" stop-color="#0a0a0a"/><stop offset="0.0265" stop-color="#080808"/><stop offset="0.0288" stop-color="#090909"/><stop offset="0.0310" stop-color="#0c0c0c"/><stop offset="0.0332" stop-color="#0e0e0e"/><stop offset="0.0354" stop-color="#0d0d0d"/><stop offset="0.0376" stop-color="#0b0b0b"/><stop offset="0.0398" stop-color="#090909"/><stop offset="0.0420" stop-color="#0a0a0a"/><stop offset="0.0442" stop-color="#0e0e0e"/><stop offset="0.0465" stop-color="#121212"/><stop offset="0.0487" stop-color="#141414"/><stop offset="0.0509" stop-color="#121212"/><stop offset="0.0531" stop-color="#0e0e0e"/><stop offset="0.0553" stop-color="#0a0a0a"/><stop offset="0.0575" stop-color="#080808"/><stop offset="0.0597" stop-color="#090909"/><stop offset="0.0619" stop-color="#0c0c0c"/><stop offset="0.0642" stop-color="#0e0e0e"/><stop offset="0.0664" stop-color="#0d0d0d"/><stop offset="0.0686" stop-color="#0b0b0b"/><stop offset="0.0708" stop-color="#0a0a0a"/><stop offset="0.0730" stop-color="#0b0b0b"/><stop offset="0.0752" stop-color="#0e0e0e"/><stop offset="0.0774" stop-color="#121212"/><stop offset="0.0796" stop-color="#141414"/><stop offset="0.0819" stop-color="#121212"/><stop offset="0.0841" stop-color="#0e0e0e"/><stop offset="0.0863" stop-color="#0a0a0a"/><stop offset="0.0885" stop-color="#080808"/><stop offset="0.0907" stop-color="#0a0a0a"/><stop offset="0.0929" stop-color="#0c0c0c"/><stop offset="0.0951" stop-color="#0e0e0e"/><stop offset="0.0973" stop-color="#0d0d0d"/><stop offset="0.0996" stop-color="#0b0b0b"/><stop offset="0.1018" stop-color="#0a0a0a"/><stop offset="0.1040" stop-color="#0b0b0b"/><stop offset="0.1062" stop-color="#0f0f0f"/><stop offset="0.1084" stop-color="#131313"/><stop offset="0.1106" stop-color="#161616"/><stop offset="0.1128" stop-color="#161616"/><stop offset="0.1150" stop-color="#141414"/><stop offset="0.1173" stop-color="#121212"/><stop offset="0.1195" stop-color="#101010"/><stop offset="0.1217" stop-color="#101010"/><stop offset="0.1239" stop-color="#101010"/><stop offset="0.1261" stop-color="#101010"/><stop offset="0.1283" stop-color="#0e0e0e"/><stop offset="0.1305" stop-color="#0c0c0c"/><stop offset="0.1327" stop-color="#0a0a0a"/><stop offset="0.1350" stop-color="#0b0b0b"/><stop offset="0.1372" stop-color="#0f0f0f"/><stop offset="0.1394" stop-color="#131313"/><stop offset="0.1416" stop-color="#151515"/><stop offset="0.1438" stop-color="#141414"/><stop offset="0.1460" stop-color="#111111"/><stop offset="0.1482" stop-color="#101010"/><stop offset="0.1504" stop-color="#111111"/><stop offset="0.1527" stop-color="#151515"/><stop offset="0.1549" stop-color="#171717"/><stop offset="0.1571" stop-color="#171717"/><stop offset="0.1593" stop-color="#131313"/><stop offset="0.1615" stop-color="#0e0e0e"/><stop offset="0.1637" stop-color="#0c0c0c"/><stop offset="0.1659" stop-color="#0d0d0d"/><stop offset="0.1681" stop-color="#101010"/><stop offset="0.1704" stop-color="#141414"/><stop offset="0.1726" stop-color="#161616"/><stop offset="0.1748" stop-color="#141414"/><stop offset="0.1770" stop-color="#111111"/><stop offset="0.1792" stop-color="#0d0d0d"/><stop offset="0.1814" stop-color="#0d0d0d"/><stop offset="0.1836" stop-color="#111111"/><stop offset="0.1858" stop-color="#181818"/><stop offset="0.1881" stop-color="#1e1e1e"/><stop offset="0.1903" stop-color="#232323"/><stop offset="0.1925" stop-color="#282828"/><stop offset="0.1947" stop-color="#2c2c2c"/><stop offset="0.1969" stop-color="#303030"/><stop offset="0.1991" stop-color="#343434"/><stop offset="0.2013" stop-color="#343434"/><stop offset="0.2035" stop-color="#303030"/><stop offset="0.2058" stop-color="#282828"/><stop offset="0.2080" stop-color="#1e1e1e"/><stop offset="0.2102" stop-color="#161616"/><stop offset="0.2124" stop-color="#111111"/><stop offset="0.2146" stop-color="#111111"/><stop offset="0.2168" stop-color="#131313"/><stop offset="0.2190" stop-color="#141414"/><stop offset="0.2212" stop-color="#141414"/><stop offset="0.2235" stop-color="#151515"/><stop offset="0.2257" stop-color="#181818"/><stop offset="0.2279" stop-color="#1f1f1f"/><stop offset="0.2301" stop-color="#262626"/><stop offset="0.2323" stop-color="#2a2a2a"/><stop offset="0.2345" stop-color="#272727"/><stop offset="0.2367" stop-color="#202020"/><stop offset="0.2389" stop-color="#171717"/><stop offset="0.2412" stop-color="#111111"/><stop offset="0.2434" stop-color="#0f0f0f"/><stop offset="0.2456" stop-color="#111111"/><stop offset="0.2478" stop-color="#141414"/><stop offset="0.2500" stop-color="#161616"/><stop offset="0.2522" stop-color="#171717"/><stop offset="0.2544" stop-color="#1a1a1a"/><stop offset="0.2566" stop-color="#1f1f1f"/><stop offset="0.2588" stop-color="#282828"/><stop offset="0.2611" stop-color="#303030"/><stop offset="0.2633" stop-color="#333333"/><stop offset="0.2655" stop-color="#2f2f2f"/><stop offset="0.2677" stop-color="#262626"/><stop offset="0.2699" stop-color="#1c1c1c"/><stop offset="0.2721" stop-color="#151515"/><stop offset="0.2743" stop-color="#121212"/><stop offset="0.2765" stop-color="#151515"/><stop offset="0.2788" stop-color="#1b1b1b"/><stop offset="0.2810" stop-color="#232323"/><stop offset="0.2832" stop-color="#2a2a2a"/><stop offset="0.2854" stop-color="#2d2d2d"/><stop offset="0.2876" stop-color="#2b2b2b"/><stop offset="0.2898" stop-color="#272727"/><stop offset="0.2920" stop-color="#242424"/><stop offset="0.2942" stop-color="#212121"/><stop offset="0.2965" stop-color="#1f1f1f"/><stop offset="0.2987" stop-color="#1c1c1c"/><stop offset="0.3009" stop-color="#171717"/><stop offset="0.3031" stop-color="#131313"/><stop offset="0.3053" stop-color="#131313"/><stop offset="0.3075" stop-color="#151515"/><stop offset="0.3097" stop-color="#171717"/><stop offset="0.3119" stop-color="#191919"/><stop offset="0.3142" stop-color="#181818"/><stop offset="0.3164" stop-color="#161616"/><stop offset="0.3186" stop-color="#151515"/><stop offset="0.3208" stop-color="#191919"/><stop offset="0.3230" stop-color="#212121"/><stop offset="0.3252" stop-color="#2c2c2c"/><stop offset="0.3274" stop-color="#383838"/><stop offset="0.3296" stop-color="#404040"/><stop offset="0.3319" stop-color="#3f3f3f"/><stop offset="0.3341" stop-color="#363636"/><stop offset="0.3363" stop-color="#2b2b2b"/><stop offset="0.3385" stop-color="#232323"/><stop offset="0.3407" stop-color="#1f1f1f"/><stop offset="0.3429" stop-color="#1e1e1e"/><stop offset="0.3451" stop-color="#202020"/><stop offset="0.3473" stop-color="#252525"/><stop offset="0.3496" stop-color="#2f2f2f"/><stop offset="0.3518" stop-color="#3c3c3c"/><stop offset="0.3540" stop-color="#484848"/><stop offset="0.3562" stop-color="#4b4b4b"/><stop offset="0.3584" stop-color="#434343"/><stop offset="0.3606" stop-color="#353535"/><stop offset="0.3628" stop-color="#262626"/><stop offset="0.3650" stop-color="#1c1c1c"/><stop offset="0.3673" stop-color="#191919"/><stop offset="0.3695" stop-color="#1a1a1a"/><stop offset="0.3717" stop-color="#1c1c1c"/><stop offset="0.3739" stop-color="#1e1e1e"/><stop offset="0.3761" stop-color="#1f1f1f"/><stop offset="0.3783" stop-color="#212121"/><stop offset="0.3805" stop-color="#282828"/><stop offset="0.3827" stop-color="#333333"/><stop offset="0.3850" stop-color="#3d3d3d"/><stop offset="0.3872" stop-color="#404040"/><stop offset="0.3894" stop-color="#3a3a3a"/><stop offset="0.3916" stop-color="#2e2e2e"/><stop offset="0.3938" stop-color="#232323"/><stop offset="0.3960" stop-color="#1c1c1c"/><stop offset="0.3982" stop-color="#1b1b1b"/><stop offset="0.4004" stop-color="#1e1e1e"/><stop offset="0.4027" stop-color="#252525"/><stop offset="0.4049" stop-color="#2e2e2e"/><stop offset="0.4071" stop-color="#363636"/><stop offset="0.4093" stop-color="#3a3a3a"/><stop offset="0.4115" stop-color="#383838"/><stop offset="0.4137" stop-color="#343434"/><stop offset="0.4159" stop-color="#2f2f2f"/><stop offset="0.4181" stop-color="#2b2b2b"/><stop offset="0.4204" stop-color="#282828"/><stop offset="0.4226" stop-color="#242424"/><stop offset="0.4248" stop-color="#1f1f1f"/><stop offset="0.4270" stop-color="#1b1b1b"/><stop offset="0.4292" stop-color="#1b1b1b"/><stop offset="0.4314" stop-color="#1d1d1d"/><stop offset="0.4336" stop-color="#202020"/><stop offset="0.4358" stop-color="#222222"/><stop offset="0.4381" stop-color="#242424"/><stop offset="0.4403" stop-color="#292929"/><stop offset="0.4425" stop-color="#363636"/><stop offset="0.4447" stop-color="#474747"/><stop offset="0.4469" stop-color="#555555"/><stop offset="0.4491" stop-color="#585858"/><stop offset="0.4513" stop-color="#4c4c4c"/><stop offset="0.4535" stop-color="#3a3a3a"/><stop offset="0.4558" stop-color="#2b2b2b"/><stop offset="0.4580" stop-color="#242424"/><stop offset="0.4602" stop-color="#272727"/><stop offset="0.4624" stop-color="#333333"/><stop offset="0.4646" stop-color="#464646"/><stop offset="0.4668" stop-color="#5a5a5a"/><stop offset="0.4690" stop-color="#686868"/><stop offset="0.4712" stop-color="#6b6b6b"/><stop offset="0.4735" stop-color="#636363"/><stop offset="0.4757" stop-color="#555555"/><stop offset="0.4779" stop-color="#464646"/><stop offset="0.4801" stop-color="#3a3a3a"/><stop offset="0.4823" stop-color="#303030"/><stop offset="0.4845" stop-color="#282828"/><stop offset="0.4867" stop-color="#212121"/><stop offset="0.4889" stop-color="#1e1e1e"/><stop offset="0.4912" stop-color="#1d1d1d"/><stop offset="0.4934" stop-color="#1f1f1f"/><stop offset="0.4956" stop-color="#222222"/><stop offset="0.4978" stop-color="#222222"/><stop offset="0.5000" stop-color="#212121"/><stop offset="0.5022" stop-color="#1f1f1f"/><stop offset="0.5044" stop-color="#1e1e1e"/><stop offset="0.5066" stop-color="#212121"/><stop offset="0.5088" stop-color="#252525"/><stop offset="0.5111" stop-color="#282828"/><stop offset="0.5133" stop-color="#282828"/><stop offset="0.5155" stop-color="#252525"/><stop offset="0.5177" stop-color="#202020"/><stop offset="0.5199" stop-color="#1d1d1d"/><stop offset="0.5221" stop-color="#1d1d1d"/><stop offset="0.5243" stop-color="#1f1f1f"/><stop offset="0.5265" stop-color="#222222"/><stop offset="0.5288" stop-color="#222222"/><stop offset="0.5310" stop-color="#212121"/><stop offset="0.5332" stop-color="#1f1f1f"/><stop offset="0.5354" stop-color="#212121"/><stop offset="0.5376" stop-color="#282828"/><stop offset="0.5398" stop-color="#363636"/><stop offset="0.5420" stop-color="#474747"/><stop offset="0.5442" stop-color="#565656"/><stop offset="0.5465" stop-color="#5f5f5f"/><stop offset="0.5487" stop-color="#5e5e5e"/><stop offset="0.5509" stop-color="#5a5a5a"/><stop offset="0.5531" stop-color="#565656"/><stop offset="0.5553" stop-color="#535353"/><stop offset="0.5575" stop-color="#4c4c4c"/><stop offset="0.5597" stop-color="#424242"/><stop offset="0.5619" stop-color="#373737"/><stop offset="0.5642" stop-color="#343434"/><stop offset="0.5664" stop-color="#3c3c3c"/><stop offset="0.5686" stop-color="#4a4a4a"/><stop offset="0.5708" stop-color="#565656"/><stop offset="0.5730" stop-color="#585858"/><stop offset="0.5752" stop-color="#4e4e4e"/><stop offset="0.5774" stop-color="#3f3f3f"/><stop offset="0.5796" stop-color="#343434"/><stop offset="0.5819" stop-color="#333333"/><stop offset="0.5841" stop-color="#3b3b3b"/><stop offset="0.5863" stop-color="#434343"/><stop offset="0.5885" stop-color="#444444"/><stop offset="0.5907" stop-color="#3b3b3b"/><stop offset="0.5929" stop-color="#2e2e2e"/><stop offset="0.5951" stop-color="#232323"/><stop offset="0.5973" stop-color="#1e1e1e"/><stop offset="0.5996" stop-color="#1f1f1f"/><stop offset="0.6018" stop-color="#222222"/><stop offset="0.6040" stop-color="#252525"/><stop offset="0.6062" stop-color="#242424"/><stop offset="0.6084" stop-color="#202020"/><stop offset="0.6106" stop-color="#1c1c1c"/><stop offset="0.6128" stop-color="#191919"/><stop offset="0.6150" stop-color="#191919"/><stop offset="0.6173" stop-color="#1b1b1b"/><stop offset="0.6195" stop-color="#1d1d1d"/><stop offset="0.6217" stop-color="#1e1e1e"/><stop offset="0.6239" stop-color="#1c1c1c"/><stop offset="0.6261" stop-color="#191919"/><stop offset="0.6283" stop-color="#191919"/><stop offset="0.6305" stop-color="#1c1c1c"/><stop offset="0.6327" stop-color="#212121"/><stop offset="0.6350" stop-color="#252525"/><stop offset="0.6372" stop-color="#282828"/><stop offset="0.6394" stop-color="#2b2b2b"/><stop offset="0.6416" stop-color="#2e2e2e"/><stop offset="0.6438" stop-color="#303030"/><stop offset="0.6460" stop-color="#2f2f2f"/><stop offset="0.6482" stop-color="#2c2c2c"/><stop offset="0.6504" stop-color="#262626"/><stop offset="0.6527" stop-color="#202020"/><stop offset="0.6549" stop-color="#1c1c1c"/><stop offset="0.6571" stop-color="#191919"/><stop offset="0.6593" stop-color="#1b1b1b"/><stop offset="0.6615" stop-color="#232323"/><stop offset="0.6637" stop-color="#313131"/><stop offset="0.6659" stop-color="#3f3f3f"/><stop offset="0.6681" stop-color="#4b4b4b"/><stop offset="0.6704" stop-color="#4e4e4e"/><stop offset="0.6726" stop-color="#494949"/><stop offset="0.6748" stop-color="#3d3d3d"/><stop offset="0.6770" stop-color="#313131"/><stop offset="0.6792" stop-color="#282828"/><stop offset="0.6814" stop-color="#212121"/><stop offset="0.6836" stop-color="#1d1d1d"/><stop offset="0.6858" stop-color="#191919"/><stop offset="0.6881" stop-color="#171717"/><stop offset="0.6903" stop-color="#1a1a1a"/><stop offset="0.6925" stop-color="#222222"/><stop offset="0.6947" stop-color="#2c2c2c"/><stop offset="0.6969" stop-color="#323232"/><stop offset="0.6991" stop-color="#313131"/><stop offset="0.7013" stop-color="#282828"/><stop offset="0.7035" stop-color="#1e1e1e"/><stop offset="0.7058" stop-color="#161616"/><stop offset="0.7080" stop-color="#141414"/><stop offset="0.7102" stop-color="#161616"/><stop offset="0.7124" stop-color="#171717"/><stop offset="0.7146" stop-color="#181818"/><stop offset="0.7168" stop-color="#171717"/><stop offset="0.7190" stop-color="#191919"/><stop offset="0.7212" stop-color="#1f1f1f"/><stop offset="0.7235" stop-color="#2a2a2a"/><stop offset="0.7257" stop-color="#333333"/><stop offset="0.7279" stop-color="#353535"/><stop offset="0.7301" stop-color="#2e2e2e"/><stop offset="0.7323" stop-color="#242424"/><stop offset="0.7345" stop-color="#1d1d1d"/><stop offset="0.7367" stop-color="#1c1c1c"/><stop offset="0.7389" stop-color="#212121"/><stop offset="0.7412" stop-color="#272727"/><stop offset="0.7434" stop-color="#292929"/><stop offset="0.7456" stop-color="#242424"/><stop offset="0.7478" stop-color="#1b1b1b"/><stop offset="0.7500" stop-color="#151515"/><stop offset="0.7522" stop-color="#121212"/><stop offset="0.7544" stop-color="#141414"/><stop offset="0.7566" stop-color="#181818"/><stop offset="0.7588" stop-color="#1a1a1a"/><stop offset="0.7611" stop-color="#191919"/><stop offset="0.7633" stop-color="#151515"/><stop offset="0.7655" stop-color="#111111"/><stop offset="0.7677" stop-color="#101010"/><stop offset="0.7699" stop-color="#131313"/><stop offset="0.7721" stop-color="#1b1b1b"/><stop offset="0.7743" stop-color="#232323"/><stop offset="0.7765" stop-color="#262626"/><stop offset="0.7788" stop-color="#242424"/><stop offset="0.7810" stop-color="#1d1d1d"/><stop offset="0.7832" stop-color="#171717"/><stop offset="0.7854" stop-color="#161616"/><stop offset="0.7876" stop-color="#171717"/><stop offset="0.7898" stop-color="#181818"/><stop offset="0.7920" stop-color="#161616"/><stop offset="0.7942" stop-color="#121212"/><stop offset="0.7965" stop-color="#0e0e0e"/><stop offset="0.7987" stop-color="#0b0b0b"/><stop offset="0.8009" stop-color="#0c0c0c"/><stop offset="0.8031" stop-color="#0f0f0f"/><stop offset="0.8053" stop-color="#101010"/><stop offset="0.8075" stop-color="#101010"/><stop offset="0.8097" stop-color="#0e0e0e"/><stop offset="0.8119" stop-color="#0c0c0c"/><stop offset="0.8142" stop-color="#0d0d0d"/><stop offset="0.8164" stop-color="#101010"/><stop offset="0.8186" stop-color="#141414"/><stop offset="0.8208" stop-color="#161616"/><stop offset="0.8230" stop-color="#151515"/><stop offset="0.8252" stop-color="#111111"/><stop offset="0.8274" stop-color="#0f0f0f"/><stop offset="0.8296" stop-color="#101010"/><stop offset="0.8319" stop-color="#151515"/><stop offset="0.8341" stop-color="#1a1a1a"/><stop offset="0.8363" stop-color="#1b1b1b"/><stop offset="0.8385" stop-color="#181818"/><stop offset="0.8407" stop-color="#121212"/><stop offset="0.8429" stop-color="#0d0d0d"/><stop offset="0.8451" stop-color="#0c0c0c"/><stop offset="0.8473" stop-color="#0f0f0f"/><stop offset="0.8496" stop-color="#131313"/><stop offset="0.8518" stop-color="#151515"/><stop offset="0.8540" stop-color="#131313"/><stop offset="0.8562" stop-color="#0f0f0f"/><stop offset="0.8584" stop-color="#0b0b0b"/><stop offset="0.8606" stop-color="#090909"/><stop offset="0.8628" stop-color="#0a0a0a"/><stop offset="0.8650" stop-color="#0d0d0d"/><stop offset="0.8673" stop-color="#0e0e0e"/><stop offset="0.8695" stop-color="#0e0e0e"/><stop offset="0.8717" stop-color="#0c0c0c"/><stop offset="0.8739" stop-color="#0a0a0a"/><stop offset="0.8761" stop-color="#0b0b0b"/><stop offset="0.8783" stop-color="#0e0e0e"/><stop offset="0.8805" stop-color="#131313"/><stop offset="0.8827" stop-color="#151515"/><stop offset="0.8850" stop-color="#151515"/><stop offset="0.8872" stop-color="#121212"/><stop offset="0.8894" stop-color="#101010"/><stop offset="0.8916" stop-color="#101010"/><stop offset="0.8938" stop-color="#111111"/><stop offset="0.8960" stop-color="#121212"/><stop offset="0.8982" stop-color="#111111"/><stop offset="0.9004" stop-color="#0f0f0f"/><stop offset="0.9027" stop-color="#0c0c0c"/><stop offset="0.9049" stop-color="#0a0a0a"/><stop offset="0.9071" stop-color="#0b0b0b"/><stop offset="0.9093" stop-color="#0e0e0e"/><stop offset="0.9115" stop-color="#121212"/><stop offset="0.9137" stop-color="#141414"/><stop offset="0.9159" stop-color="#121212"/><stop offset="0.9181" stop-color="#0e0e0e"/><stop offset="0.9204" stop-color="#0a0a0a"/><stop offset="0.9226" stop-color="#080808"/><stop offset="0.9248" stop-color="#0a0a0a"/><stop offset="0.9270" stop-color="#0c0c0c"/><stop offset="0.9292" stop-color="#0e0e0e"/><stop offset="0.9314" stop-color="#0d0d0d"/><stop offset="0.9336" stop-color="#0b0b0b"/><stop offset="0.9358" stop-color="#0a0a0a"/><stop offset="0.9381" stop-color="#0b0b0b"/><stop offset="0.9403" stop-color="#0e0e0e"/><stop offset="0.9425" stop-color="#121212"/><stop offset="0.9447" stop-color="#141414"/><stop offset="0.9469" stop-color="#121212"/><stop offset="0.9491" stop-color="#0e0e0e"/><stop offset="0.9513" stop-color="#0a0a0a"/><stop offset="0.9535" stop-color="#080808"/><stop offset="0.9558" stop-color="#0a0a0a"/><stop offset="0.9580" stop-color="#0c0c0c"/><stop offset="0.9602" stop-color="#0e0e0e"/><stop offset="0.9624" stop-color="#0d0d0d"/><stop offset="0.9646" stop-color="#0b0b0b"/><stop offset="0.9668" stop-color="#090909"/><stop offset="0.9690" stop-color="#0b0b0b"/><stop offset="0.9712" stop-color="#0e0e0e"/><stop offset="0.9735" stop-color="#121212"/><stop offset="0.9757" stop-color="#141414"/><stop offset="0.9779" stop-color="#121212"/><stop offset="0.9801" stop-color="#0e0e0e"/><stop offset="0.9823" stop-color="#0a0a0a"/><stop offset="0.9845" stop-color="#080808"/><stop offset="0.9867" stop-color="#0a0a0a"/><stop offset="0.9889" stop-color="#0c0c0c"/><stop offset="0.9912" stop-color="#0e0e0e"/><stop offset="0.9934" stop-color="#0d0d0d"/><stop offset="0.9956" stop-color="#0b0b0b"/><stop offset="0.9978" stop-color="#090909"/><stop offset="1.0000" stop-color="#0b0b0b"/></linearGradient>
<linearGradient id="oe0" gradientUnits="userSpaceOnUse" x1="0" x2="0" y1="327.2" y2="552.8"><stop offset="0" stop-color="#fff" stop-opacity="0.45"/><stop offset="0.15" stop-color="#fff" stop-opacity="0.4"/><stop offset="0.3" stop-color="#fff" stop-opacity="0.2"/><stop offset="0.5" stop-color="#fff" stop-opacity="0.15"/><stop offset="1" stop-color="#fff" stop-opacity="0.22"/></linearGradient>
<linearGradient id="oe1" gradientUnits="userSpaceOnUse" x1="0" x2="0" y1="327.2" y2="552.8"><stop offset="0" stop-color="#fff" stop-opacity="0.3"/><stop offset="0.15" stop-color="#fff" stop-opacity="0.35"/><stop offset="0.22" stop-color="#fff" stop-opacity="0.65"/><stop offset="0.5" stop-color="#fff" stop-opacity="0.7"/><stop offset="0.6" stop-color="#fff" stop-opacity="0.72"/><stop offset="0.8" stop-color="#fff" stop-opacity="0.55"/><stop offset="1" stop-color="#fff" stop-opacity="0.5"/></linearGradient>
<linearGradient id="oe2" gradientUnits="userSpaceOnUse" x1="0" x2="0" y1="327.2" y2="552.8"><stop offset="0" stop-color="#fff" stop-opacity="0.5"/><stop offset="0.2" stop-color="#fff" stop-opacity="0.45"/><stop offset="0.35" stop-color="#fff" stop-opacity="0.3"/><stop offset="1" stop-color="#fff" stop-opacity="0.15"/></linearGradient>
<linearGradient id="oe3" gradientUnits="userSpaceOnUse" x1="0" x2="0" y1="327.2" y2="552.8"><stop offset="0" stop-color="#fff" stop-opacity="0"/><stop offset="0.5" stop-color="#fff" stop-opacity="0.05"/><stop offset="0.62" stop-color="#fff" stop-opacity="0.45"/><stop offset="0.85" stop-color="#fff" stop-opacity="0.7"/><stop offset="1" stop-color="#fff" stop-opacity="0.55"/></linearGradient>
<linearGradient id="oe4" gradientUnits="userSpaceOnUse" x1="0" x2="0" y1="327.2" y2="552.8"><stop offset="0" stop-color="#fff" stop-opacity="0.4"/><stop offset="0.15" stop-color="#fff" stop-opacity="0.5"/><stop offset="0.3" stop-color="#fff" stop-opacity="0.7"/><stop offset="0.45" stop-color="#fff" stop-opacity="0.85"/><stop offset="0.6" stop-color="#fff" stop-opacity="0.9"/><stop offset="0.8" stop-color="#fff" stop-opacity="0.75"/><stop offset="1" stop-color="#fff" stop-opacity="0.7"/></linearGradient>
<linearGradient id="oe5" gradientUnits="userSpaceOnUse" x1="0" x2="0" y1="327.2" y2="552.8"><stop offset="0" stop-color="#fff" stop-opacity="0.1"/><stop offset="0.5" stop-color="#fff" stop-opacity="0.15"/><stop offset="0.55" stop-color="#fff" stop-opacity="0.7"/><stop offset="0.8" stop-color="#fff" stop-opacity="0.75"/><stop offset="1" stop-color="#fff" stop-opacity="0.6"/></linearGradient>
<linearGradient id="oe6" gradientUnits="userSpaceOnUse" x1="0" x2="0" y1="327.2" y2="552.8"><stop offset="0" stop-color="#fff" stop-opacity="0.25"/><stop offset="0.2" stop-color="#fff" stop-opacity="0.35"/><stop offset="0.3" stop-color="#fff" stop-opacity="0.7"/><stop offset="0.42" stop-color="#fff" stop-opacity="0.6"/><stop offset="0.55" stop-color="#fff" stop-opacity="0.5"/><stop offset="0.62" stop-color="#fff" stop-opacity="0.8"/><stop offset="0.9" stop-color="#fff" stop-opacity="0.8"/><stop offset="1" stop-color="#fff" stop-opacity="0.7"/></linearGradient>
<linearGradient id="oe7" gradientUnits="userSpaceOnUse" x1="0" x2="0" y1="327.2" y2="552.8"><stop offset="0" stop-color="#fff" stop-opacity="0.45"/><stop offset="0.2" stop-color="#fff" stop-opacity="0.3"/><stop offset="0.35" stop-color="#fff" stop-opacity="0.12"/><stop offset="0.5" stop-color="#fff" stop-opacity="0.1"/><stop offset="0.58" stop-color="#fff" stop-opacity="0.35"/><stop offset="0.8" stop-color="#fff" stop-opacity="0.4"/><stop offset="0.9" stop-color="#fff" stop-opacity="0.2"/><stop offset="1" stop-color="#fff" stop-opacity="0.15"/></linearGradient>
<filter id="ff" x="0" y="0" width="100%" height="100%" color-interpolation-filters="sRGB"><feTurbulence type="fractalNoise" baseFrequency="0.7 0.045" numOctaves="2" seed="8"/><feColorMatrix type="matrix" values="1 0 0 0 0 1 0 0 0 0 1 0 0 0 0 0 0 0 0 1" result="n1"/><feComposite in="SourceGraphic" in2="n1" operator="arithmetic" k1="0.6" k2="0.7" k3="0" k4="0" result="s1"/><feTurbulence type="fractalNoise" baseFrequency="0.95 0.6" numOctaves="1" seed="15"/><feColorMatrix type="matrix" values="1 0 0 0 0 1 0 0 0 0 1 0 0 0 0 0 0 0 0 1" result="n2"/><feComposite in="s1" in2="n2" operator="arithmetic" k1="1.2" k2="0.4" k3="0" k4="-0" result="s2"/><feComponentTransfer in="s2"><feFuncR type="table" tableValues="0 0 0 0 0 0 0 0 0 0 0 0 0 0 0 0 0 0 0 0 0 0 0 0 0 0 0 0 0 0 0 0 0 0 0 0 0.0323 0.0645 0.0968 0.129 0.161 0.194 0.226 0.258 0.29 0.323 0.355 0.387 0.419 0.452 0.484 0.516 0.548 0.581 0.613 0.645 0.677 0.71 0.742 0.774 0.806 0.839 0.871 0.903 0.935 0.968 1 1 1 1 1 1 1 1 1 1 1 1 1 1 1 1 1 1 1 1 1 1 1 1 0.955 0.909 0.864 0.818 0.773 0.727 0.682 0.636 0.591 0.545 0.5"/><feFuncG type="table" tableValues="0 0 0 0 0 0 0 0 0 0 0 0 0 0.02 0.06 0.1 0.14 0.18 0.22 0.26 0.3 0.34 0.38 0.42 0.46 0.5 0.54 0.58 0.62 0.66 0.7 0.74 0.78 0.82 0.86 0.9 0.94 0.98 1 1 1 1 1 1 1 1 1 1 1 1 1 1 1 1 1 1 1 1 1 1 1 1 1 1 1 0.963 0.926 0.889 0.852 0.815 0.778 0.741 0.704 0.667 0.63 0.593 0.556 0.519 0.481 0.444 0.407 0.37 0.333 0.296 0.259 0.222 0.185 0.148 0.111 0.0741 0.037 0 0 0 0 0 0 0 0 0 0"/><feFuncB type="table" tableValues="0.5 0.545 0.591 0.636 0.682 0.727 0.773 0.818 0.864 0.909 0.955 1 1 1 1 1 1 1 1 1 1 1 1 1 1 1 1 1 1 1 1 1 1 1 1 0.968 0.935 0.903 0.871 0.839 0.806 0.774 0.742 0.71 0.677 0.645 0.613 0.581 0.548 0.516 0.484 0.452 0.419 0.387 0.355 0.323 0.29 0.258 0.226 0.194 0.161 0.129 0.0968 0.0645 0.0323 0 0 0 0 0 0 0 0 0 0 0 0 0 0 0 0 0 0 0 0 0 0 0 0 0 0 0 0 0 0 0 0 0 0 0 0"/></feComponentTransfer></filter>
<linearGradient id="hf" x1="0" x2="1" y1="0" y2="0"><stop offset="0.0000" stop-color="#1a1a1a"/><stop offset="0.0022" stop-color="#1e1e1e"/><stop offset="0.0044" stop-color="#1f1f1f"/><stop offset="0.0066" stop-color="#1d1d1d"/><stop offset="0.0088" stop-color="#1a1a1a"/><stop offset="0.0111" stop-color="#191919"/><stop offset="0.0133" stop-color="#1a1a1a"/><stop offset="0.0155" stop-color="#1c1c1c"/><stop offset="0.0177" stop-color="#1f1f1f"/><stop offset="0.0199" stop-color="#1e1e1e"/><stop offset="0.0221" stop-color="#1b1b1b"/><stop offset="0.0243" stop-color="#161616"/><stop offset="0.0265" stop-color="#111111"/><stop offset="0.0288" stop-color="#0f0f0f"/><stop offset="0.0310" stop-color="#111111"/><stop offset="0.0332" stop-color="#151515"/><stop offset="0.0354" stop-color="#1a1a1a"/><stop offset="0.0376" stop-color="#1d1d1d"/><stop offset="0.0398" stop-color="#1e1e1e"/><stop offset="0.0420" stop-color="#1c1c1c"/><stop offset="0.0442" stop-color="#191919"/><stop offset="0.0465" stop-color="#191919"/><stop offset="0.0487" stop-color="#1b1b1b"/><stop offset="0.0509" stop-color="#1e1e1e"/><stop offset="0.0531" stop-color="#202020"/><stop offset="0.0553" stop-color="#1f1f1f"/><stop offset="0.0575" stop-color="#1b1b1b"/><stop offset="0.0597" stop-color="#151515"/><stop offset="0.0619" stop-color="#111111"/><stop offset="0.0642" stop-color="#0f0f0f"/><stop offset="0.0664" stop-color="#121212"/><stop offset="0.0686" stop-color="#161616"/><stop offset="0.0708" stop-color="#1b1b1b"/><stop offset="0.0730" stop-color="#1d1d1d"/><stop offset="0.0752" stop-color="#1c1c1c"/><stop offset="0.0774" stop-color="#1a1a1a"/><stop offset="0.0796" stop-color="#191919"/><stop offset="0.0819" stop-color="#1a1a1a"/><stop offset="0.0841" stop-color="#1c1c1c"/><stop offset="0.0863" stop-color="#202020"/><stop offset="0.0885" stop-color="#222222"/><stop offset="0.0907" stop-color="#202020"/><stop offset="0.0929" stop-color="#1b1b1b"/><stop offset="0.0951" stop-color="#151515"/><stop offset="0.0973" stop-color="#111111"/><stop offset="0.0996" stop-color="#101010"/><stop offset="0.1018" stop-color="#131313"/><stop offset="0.1040" stop-color="#181818"/><stop offset="0.1062" stop-color="#1b1b1b"/><stop offset="0.1084" stop-color="#1d1d1d"/><stop offset="0.1106" stop-color="#1c1c1c"/><stop offset="0.1128" stop-color="#1a1a1a"/><stop offset="0.1150" stop-color="#191919"/><stop offset="0.1173" stop-color="#1c1c1c"/><stop offset="0.1195" stop-color="#202020"/><stop offset="0.1217" stop-color="#252525"/><stop offset="0.1239" stop-color="#272727"/><stop offset="0.1261" stop-color="#272727"/><stop offset="0.1283" stop-color="#262626"/><stop offset="0.1305" stop-color="#262626"/><stop offset="0.1327" stop-color="#282828"/><stop offset="0.1350" stop-color="#2d2d2d"/><stop offset="0.1372" stop-color="#323232"/><stop offset="0.1394" stop-color="#343434"/><stop offset="0.1416" stop-color="#323232"/><stop offset="0.1438" stop-color="#2e2e2e"/><stop offset="0.1460" stop-color="#292929"/><stop offset="0.1482" stop-color="#252525"/><stop offset="0.1504" stop-color="#242424"/><stop offset="0.1527" stop-color="#272727"/><stop offset="0.1549" stop-color="#2b2b2b"/><stop offset="0.1571" stop-color="#2e2e2e"/><stop offset="0.1593" stop-color="#2f2f2f"/><stop offset="0.1615" stop-color="#2c2c2c"/><stop offset="0.1637" stop-color="#272727"/><stop offset="0.1659" stop-color="#242424"/><stop offset="0.1681" stop-color="#262626"/><stop offset="0.1704" stop-color="#2c2c2c"/><stop offset="0.1726" stop-color="#333333"/><stop offset="0.1748" stop-color="#373737"/><stop offset="0.1770" stop-color="#353535"/><stop offset="0.1792" stop-color="#2f2f2f"/><stop offset="0.1814" stop-color="#282828"/><stop offset="0.1836" stop-color="#252525"/><stop offset="0.1858" stop-color="#262626"/><stop offset="0.1881" stop-color="#2b2b2b"/><stop offset="0.1903" stop-color="#333333"/><stop offset="0.1925" stop-color="#3a3a3a"/><stop offset="0.1947" stop-color="#404040"/><stop offset="0.1969" stop-color="#444444"/><stop offset="0.1991" stop-color="#474747"/><stop offset="0.2013" stop-color="#4a4a4a"/><stop offset="0.2035" stop-color="#4f4f4f"/><stop offset="0.2058" stop-color="#535353"/><stop offset="0.2080" stop-color="#565656"/><stop offset="0.2102" stop-color="#545454"/><stop offset="0.2124" stop-color="#4e4e4e"/><stop offset="0.2146" stop-color="#444444"/><stop offset="0.2168" stop-color="#393939"/><stop offset="0.2190" stop-color="#323232"/><stop offset="0.2212" stop-color="#2f2f2f"/><stop offset="0.2235" stop-color="#333333"/><stop offset="0.2257" stop-color="#3a3a3a"/><stop offset="0.2279" stop-color="#414141"/><stop offset="0.2301" stop-color="#444444"/><stop offset="0.2323" stop-color="#404040"/><stop offset="0.2345" stop-color="#363636"/><stop offset="0.2367" stop-color="#2c2c2c"/><stop offset="0.2389" stop-color="#262626"/><stop offset="0.2412" stop-color="#242424"/><stop offset="0.2434" stop-color="#252525"/><stop offset="0.2456" stop-color="#242424"/><stop offset="0.2478" stop-color="#212121"/><stop offset="0.2500" stop-color="#1c1c1c"/><stop offset="0.2522" stop-color="#181818"/><stop offset="0.2544" stop-color="#161616"/><stop offset="0.2566" stop-color="#191919"/><stop offset="0.2588" stop-color="#1f1f1f"/><stop offset="0.2611" stop-color="#282828"/><stop offset="0.2633" stop-color="#313131"/><stop offset="0.2655" stop-color="#393939"/><stop offset="0.2677" stop-color="#3f3f3f"/><stop offset="0.2699" stop-color="#434343"/><stop offset="0.2721" stop-color="#444444"/><stop offset="0.2743" stop-color="#424242"/><stop offset="0.2765" stop-color="#3d3d3d"/><stop offset="0.2788" stop-color="#373737"/><stop offset="0.2810" stop-color="#313131"/><stop offset="0.2832" stop-color="#2a2a2a"/><stop offset="0.2854" stop-color="#252525"/><stop offset="0.2876" stop-color="#212121"/><stop offset="0.2898" stop-color="#222222"/><stop offset="0.2920" stop-color="#262626"/><stop offset="0.2942" stop-color="#2c2c2c"/><stop offset="0.2965" stop-color="#313131"/><stop offset="0.2987" stop-color="#333333"/><stop offset="0.3009" stop-color="#343434"/><stop offset="0.3031" stop-color="#353535"/><stop offset="0.3053" stop-color="#393939"/><stop offset="0.3075" stop-color="#404040"/><stop offset="0.3097" stop-color="#484848"/><stop offset="0.3119" stop-color="#4b4b4b"/><stop offset="0.3142" stop-color="#464646"/><stop offset="0.3164" stop-color="#3c3c3c"/><stop offset="0.3186" stop-color="#313131"/><stop offset="0.3208" stop-color="#282828"/><stop offset="0.3230" stop-color="#242424"/><stop offset="0.3252" stop-color="#282828"/><stop offset="0.3274" stop-color="#313131"/><stop offset="0.3296" stop-color="#3f3f3f"/><stop offset="0.3319" stop-color="#4f4f4f"/><stop offset="0.3341" stop-color="#5f5f5f"/><stop offset="0.3363" stop-color="#6c6c6c"/><stop offset="0.3385" stop-color="#757575"/><stop offset="0.3407" stop-color="#7a7a7a"/><stop offset="0.3429" stop-color="#7a7a7a"/><stop offset="0.3451" stop-color="#747474"/><stop offset="0.3473" stop-color="#696969"/><stop offset="0.3496" stop-color="#5a5a5a"/><stop offset="0.3518" stop-color="#494949"/><stop offset="0.3540" stop-color="#393939"/><stop offset="0.3562" stop-color="#2d2d2d"/><stop offset="0.3584" stop-color="#262626"/><stop offset="0.3606" stop-color="#272727"/><stop offset="0.3628" stop-color="#2d2d2d"/><stop offset="0.3650" stop-color="#383838"/><stop offset="0.3673" stop-color="#434343"/><stop offset="0.3695" stop-color="#4d4d4d"/><stop offset="0.3717" stop-color="#515151"/><stop offset="0.3739" stop-color="#4e4e4e"/><stop offset="0.3761" stop-color="#464646"/><stop offset="0.3783" stop-color="#3e3e3e"/><stop offset="0.3805" stop-color="#3b3b3b"/><stop offset="0.3827" stop-color="#3e3e3e"/><stop offset="0.3850" stop-color="#444444"/><stop offset="0.3872" stop-color="#464646"/><stop offset="0.3894" stop-color="#434343"/><stop offset="0.3916" stop-color="#393939"/><stop offset="0.3938" stop-color="#313131"/><stop offset="0.3960" stop-color="#303030"/><stop offset="0.3982" stop-color="#373737"/><stop offset="0.4004" stop-color="#424242"/><stop offset="0.4027" stop-color="#4a4a4a"/><stop offset="0.4049" stop-color="#4a4a4a"/><stop offset="0.4071" stop-color="#434343"/><stop offset="0.4093" stop-color="#3a3a3a"/><stop offset="0.4115" stop-color="#363636"/><stop offset="0.4137" stop-color="#3b3b3b"/><stop offset="0.4159" stop-color="#484848"/><stop offset="0.4181" stop-color="#5b5b5b"/><stop offset="0.4204" stop-color="#707070"/><stop offset="0.4226" stop-color="#828282"/><stop offset="0.4248" stop-color="#8f8f8f"/><stop offset="0.4270" stop-color="#939393"/><stop offset="0.4292" stop-color="#8e8e8e"/><stop offset="0.4314" stop-color="#828282"/><stop offset="0.4336" stop-color="#727272"/><stop offset="0.4358" stop-color="#606060"/><stop offset="0.4381" stop-color="#515151"/><stop offset="0.4403" stop-color="#444444"/><stop offset="0.4425" stop-color="#3e3e3e"/><stop offset="0.4447" stop-color="#3d3d3d"/><stop offset="0.4469" stop-color="#3f3f3f"/><stop offset="0.4491" stop-color="#404040"/><stop offset="0.4513" stop-color="#3f3f3f"/><stop offset="0.4535" stop-color="#3b3b3b"/><stop offset="0.4558" stop-color="#373737"/><stop offset="0.4580" stop-color="#373737"/><stop offset="0.4602" stop-color="#3d3d3d"/><stop offset="0.4624" stop-color="#484848"/><stop offset="0.4646" stop-color="#535353"/><stop offset="0.4668" stop-color="#5a5a5a"/><stop offset="0.4690" stop-color="#5c5c5c"/><stop offset="0.4712" stop-color="#5c5c5c"/><stop offset="0.4735" stop-color="#5f5f5f"/><stop offset="0.4757" stop-color="#676767"/><stop offset="0.4779" stop-color="#727272"/><stop offset="0.4801" stop-color="#7a7a7a"/><stop offset="0.4823" stop-color="#7c7c7c"/><stop offset="0.4845" stop-color="#747474"/><stop offset="0.4867" stop-color="#656565"/><stop offset="0.4889" stop-color="#535353"/><stop offset="0.4912" stop-color="#414141"/><stop offset="0.4934" stop-color="#323232"/><stop offset="0.4956" stop-color="#2a2a2a"/><stop offset="0.4978" stop-color="#2b2b2b"/><stop offset="0.5000" stop-color="#353535"/><stop offset="0.5022" stop-color="#424242"/><stop offset="0.5044" stop-color="#4c4c4c"/><stop offset="0.5066" stop-color="#4c4c4c"/><stop offset="0.5088" stop-color="#444444"/><stop offset="0.5111" stop-color="#383838"/><stop offset="0.5133" stop-color="#303030"/><stop offset="0.5155" stop-color="#2d2d2d"/><stop offset="0.5177" stop-color="#303030"/><stop offset="0.5199" stop-color="#373737"/><stop offset="0.5221" stop-color="#424242"/><stop offset="0.5243" stop-color="#4f4f4f"/><stop offset="0.5265" stop-color="#5b5b5b"/><stop offset="0.5288" stop-color="#646464"/><stop offset="0.5310" stop-color="#686868"/><stop offset="0.5332" stop-color="#666666"/><stop offset="0.5354" stop-color="#5d5d5d"/><stop offset="0.5376" stop-color="#525252"/><stop offset="0.5398" stop-color="#464646"/><stop offset="0.5420" stop-color="#3c3c3c"/><stop offset="0.5442" stop-color="#343434"/><stop offset="0.5465" stop-color="#2e2e2e"/><stop offset="0.5487" stop-color="#2c2c2c"/><stop offset="0.5509" stop-color="#2f2f2f"/><stop offset="0.5531" stop-color="#383838"/><stop offset="0.5553" stop-color="#434343"/><stop offset="0.5575" stop-color="#4a4a4a"/><stop offset="0.5597" stop-color="#494949"/><stop offset="0.5619" stop-color="#404040"/><stop offset="0.5642" stop-color="#323232"/><stop offset="0.5664" stop-color="#272727"/><stop offset="0.5686" stop-color="#232323"/><stop offset="0.5708" stop-color="#242424"/><stop offset="0.5730" stop-color="#2a2a2a"/><stop offset="0.5752" stop-color="#313131"/><stop offset="0.5774" stop-color="#363636"/><stop offset="0.5796" stop-color="#373737"/><stop offset="0.5819" stop-color="#343434"/><stop offset="0.5841" stop-color="#2e2e2e"/><stop offset="0.5863" stop-color="#282828"/><stop offset="0.5885" stop-color="#262626"/><stop offset="0.5907" stop-color="#262626"/><stop offset="0.5929" stop-color="#262626"/><stop offset="0.5951" stop-color="#252525"/><stop offset="0.5973" stop-color="#222222"/><stop offset="0.5996" stop-color="#202020"/><stop offset="0.6018" stop-color="#222222"/><stop offset="0.6040" stop-color="#292929"/><stop offset="0.6062" stop-color="#363636"/><stop offset="0.6084" stop-color="#464646"/><stop offset="0.6106" stop-color="#535353"/><stop offset="0.6128" stop-color="#585858"/><stop offset="0.6150" stop-color="#535353"/><stop offset="0.6173" stop-color="#484848"/><stop offset="0.6195" stop-color="#3d3d3d"/><stop offset="0.6217" stop-color="#363636"/><stop offset="0.6239" stop-color="#343434"/><stop offset="0.6261" stop-color="#353535"/><stop offset="0.6283" stop-color="#373737"/><stop offset="0.6305" stop-color="#383838"/><stop offset="0.6327" stop-color="#3b3b3b"/><stop offset="0.6350" stop-color="#444444"/><stop offset="0.6372" stop-color="#535353"/><stop offset="0.6394" stop-color="#676767"/><stop offset="0.6416" stop-color="#797979"/><stop offset="0.6438" stop-color="#838383"/><stop offset="0.6460" stop-color="#808080"/><stop offset="0.6482" stop-color="#717171"/><stop offset="0.6504" stop-color="#5c5c5c"/><stop offset="0.6527" stop-color="#484848"/><stop offset="0.6549" stop-color="#3a3a3a"/><stop offset="0.6571" stop-color="#353535"/><stop offset="0.6593" stop-color="#373737"/><stop offset="0.6615" stop-color="#3d3d3d"/><stop offset="0.6637" stop-color="#464646"/><stop offset="0.6659" stop-color="#515151"/><stop offset="0.6681" stop-color="#606060"/><stop offset="0.6704" stop-color="#717171"/><stop offset="0.6726" stop-color="#808080"/><stop offset="0.6748" stop-color="#888888"/><stop offset="0.6770" stop-color="#868686"/><stop offset="0.6792" stop-color="#797979"/><stop offset="0.6814" stop-color="#646464"/><stop offset="0.6836" stop-color="#4d4d4d"/><stop offset="0.6858" stop-color="#3a3a3a"/><stop offset="0.6881" stop-color="#2f2f2f"/><stop offset="0.6903" stop-color="#2c2c2c"/><stop offset="0.6925" stop-color="#323232"/><stop offset="0.6947" stop-color="#3d3d3d"/><stop offset="0.6969" stop-color="#484848"/><stop offset="0.6991" stop-color="#4e4e4e"/><stop offset="0.7013" stop-color="#4b4b4b"/><stop offset="0.7035" stop-color="#3f3f3f"/><stop offset="0.7058" stop-color="#323232"/><stop offset="0.7080" stop-color="#292929"/><stop offset="0.7102" stop-color="#262626"/><stop offset="0.7124" stop-color="#272727"/><stop offset="0.7146" stop-color="#282828"/><stop offset="0.7168" stop-color="#282828"/><stop offset="0.7190" stop-color="#282828"/><stop offset="0.7212" stop-color="#2b2b2b"/><stop offset="0.7235" stop-color="#333333"/><stop offset="0.7257" stop-color="#404040"/><stop offset="0.7279" stop-color="#4c4c4c"/><stop offset="0.7301" stop-color="#525252"/><stop offset="0.7323" stop-color="#4e4e4e"/><stop offset="0.7345" stop-color="#444444"/><stop offset="0.7367" stop-color="#373737"/><stop offset="0.7389" stop-color="#2c2c2c"/><stop offset="0.7412" stop-color="#282828"/><stop offset="0.7434" stop-color="#2a2a2a"/><stop offset="0.7456" stop-color="#313131"/><stop offset="0.7478" stop-color="#3d3d3d"/><stop offset="0.7500" stop-color="#494949"/><stop offset="0.7522" stop-color="#535353"/><stop offset="0.7544" stop-color="#585858"/><stop offset="0.7566" stop-color="#585858"/><stop offset="0.7588" stop-color="#535353"/><stop offset="0.7611" stop-color="#4d4d4d"/><stop offset="0.7633" stop-color="#474747"/><stop offset="0.7655" stop-color="#414141"/><stop offset="0.7677" stop-color="#3a3a3a"/><stop offset="0.7699" stop-color="#333333"/><stop offset="0.7721" stop-color="#2c2c2c"/><stop offset="0.7743" stop-color="#262626"/><stop offset="0.7765" stop-color="#242424"/><stop offset="0.7788" stop-color="#252525"/><stop offset="0.7810" stop-color="#2a2a2a"/><stop offset="0.7832" stop-color="#303030"/><stop offset="0.7854" stop-color="#353535"/><stop offset="0.7876" stop-color="#373737"/><stop offset="0.7898" stop-color="#343434"/><stop offset="0.7920" stop-color="#2e2e2e"/><stop offset="0.7942" stop-color="#292929"/><stop offset="0.7965" stop-color="#272727"/><stop offset="0.7987" stop-color="#282828"/><stop offset="0.8009" stop-color="#292929"/><stop offset="0.8031" stop-color="#272727"/><stop offset="0.8053" stop-color="#232323"/><stop offset="0.8075" stop-color="#1f1f1f"/><stop offset="0.8097" stop-color="#1c1c1c"/><stop offset="0.8119" stop-color="#1e1e1e"/><stop offset="0.8142" stop-color="#212121"/><stop offset="0.8164" stop-color="#262626"/><stop offset="0.8186" stop-color="#292929"/><stop offset="0.8208" stop-color="#2b2b2b"/><stop offset="0.8230" stop-color="#2d2d2d"/><stop offset="0.8252" stop-color="#2f2f2f"/><stop offset="0.8274" stop-color="#333333"/><stop offset="0.8296" stop-color="#383838"/><stop offset="0.8319" stop-color="#3b3b3b"/><stop offset="0.8341" stop-color="#3c3c3c"/><stop offset="0.8363" stop-color="#3a3a3a"/><stop offset="0.8385" stop-color="#343434"/><stop offset="0.8407" stop-color="#2e2e2e"/><stop offset="0.8429" stop-color="#282828"/><stop offset="0.8451" stop-color="#252525"/><stop offset="0.8473" stop-color="#242424"/><stop offset="0.8496" stop-color="#252525"/><stop offset="0.8518" stop-color="#272727"/><stop offset="0.8540" stop-color="#272727"/><stop offset="0.8562" stop-color="#242424"/><stop offset="0.8584" stop-color="#202020"/><stop offset="0.8606" stop-color="#1e1e1e"/><stop offset="0.8628" stop-color="#212121"/><stop offset="0.8650" stop-color="#282828"/><stop offset="0.8673" stop-color="#303030"/><stop offset="0.8695" stop-color="#363636"/><stop offset="0.8717" stop-color="#363636"/><stop offset="0.8739" stop-color="#313131"/><stop offset="0.8761" stop-color="#292929"/><stop offset="0.8783" stop-color="#232323"/><stop offset="0.8805" stop-color="#202020"/><stop offset="0.8827" stop-color="#202020"/><stop offset="0.8850" stop-color="#222222"/><stop offset="0.8872" stop-color="#232323"/><stop offset="0.8894" stop-color="#212121"/><stop offset="0.8916" stop-color="#1d1d1d"/><stop offset="0.8938" stop-color="#181818"/><stop offset="0.8960" stop-color="#141414"/><stop offset="0.8982" stop-color="#131313"/><stop offset="0.9004" stop-color="#161616"/><stop offset="0.9027" stop-color="#1b1b1b"/><stop offset="0.9049" stop-color="#202020"/><stop offset="0.9071" stop-color="#222222"/><stop offset="0.9093" stop-color="#212121"/><stop offset="0.9115" stop-color="#1e1e1e"/><stop offset="0.9137" stop-color="#1b1b1b"/><stop offset="0.9159" stop-color="#1a1a1a"/><stop offset="0.9181" stop-color="#1c1c1c"/><stop offset="0.9204" stop-color="#1e1e1e"/><stop offset="0.9226" stop-color="#1f1f1f"/><stop offset="0.9248" stop-color="#1d1d1d"/><stop offset="0.9270" stop-color="#181818"/><stop offset="0.9292" stop-color="#131313"/><stop offset="0.9314" stop-color="#101010"/><stop offset="0.9336" stop-color="#101010"/><stop offset="0.9358" stop-color="#141414"/><stop offset="0.9381" stop-color="#191919"/><stop offset="0.9403" stop-color="#1d1d1d"/><stop offset="0.9425" stop-color="#1f1f1f"/><stop offset="0.9447" stop-color="#1d1d1d"/><stop offset="0.9469" stop-color="#1b1b1b"/><stop offset="0.9491" stop-color="#191919"/><stop offset="0.9513" stop-color="#1a1a1a"/><stop offset="0.9535" stop-color="#1c1c1c"/><stop offset="0.9558" stop-color="#1f1f1f"/><stop offset="0.9580" stop-color="#1f1f1f"/><stop offset="0.9602" stop-color="#1c1c1c"/><stop offset="0.9624" stop-color="#171717"/><stop offset="0.9646" stop-color="#111111"/><stop offset="0.9668" stop-color="#0f0f0f"/><stop offset="0.9690" stop-color="#101010"/><stop offset="0.9712" stop-color="#141414"/><stop offset="0.9735" stop-color="#191919"/><stop offset="0.9757" stop-color="#1d1d1d"/><stop offset="0.9779" stop-color="#1d1d1d"/><stop offset="0.9801" stop-color="#1b1b1b"/><stop offset="0.9823" stop-color="#191919"/><stop offset="0.9845" stop-color="#191919"/><stop offset="0.9867" stop-color="#1a1a1a"/><stop offset="0.9889" stop-color="#1e1e1e"/><stop offset="0.9912" stop-color="#202020"/><stop offset="0.9934" stop-color="#1f1f1f"/><stop offset="0.9956" stop-color="#1c1c1c"/><stop offset="0.9978" stop-color="#161616"/><stop offset="1.0000" stop-color="#111111"/></linearGradient>
<linearGradient id="of0" gradientUnits="userSpaceOnUse" x1="0" x2="0" y1="327.2" y2="552.8"><stop offset="0" stop-color="#fff" stop-opacity="0"/><stop offset="0.4" stop-color="#fff" stop-opacity="0.1"/><stop offset="0.55" stop-color="#fff" stop-opacity="0.2"/><stop offset="0.8" stop-color="#fff" stop-opacity="0.3"/><stop offset="1" stop-color="#fff" stop-opacity="0.32"/></linearGradient>
</defs>
<text x="133" y="84.7" font-size="29.4" text-anchor="middle" stroke="#000" >0</text>
<text stroke="#000" x="193" y="82.3" font-size="29.4">Counts s<tspan dy="-13" font-size="20.5">−1</tspan></text>
<text x="396" y="84.7" font-size="29.4" text-anchor="middle" stroke="#000" >12,000</text>
<rect x="133.25" y="102.25" width="260" height="23" fill="url(#jet)" stroke="#000" stroke-width="2.5"/>
<clipPath id="ca"><rect x="100.6" y="138.8" width="326.4" height="101.5"/></clipPath>
<g clip-path="url(#ca)"><g filter="url(#fa)">
<rect x="100.6" y="138.8" width="326.4" height="101.5" fill="#050505"/>
<ellipse cx="262" cy="189.5" rx="175" ry="50" fill="url(#ga1)"/>
<ellipse cx="260.5" cy="189.5" rx="57" ry="14" fill="url(#ga2)" transform="rotate(-1.5 260.5 189.5)"/>
</g></g>
<rect x="101.85" y="140.05" width="323.9" height="99" fill="none" stroke="#000" stroke-width="2.5"/>
<path d="M142.5 138.8V151.8" stroke="#000" stroke-width="2.5"/>
<path d="M142.5 227.3V240.3" stroke="#000" stroke-width="2.5"/>
<path d="M263.5 138.8V151.8" stroke="#000" stroke-width="2.5"/>
<path d="M263.5 227.3V240.3" stroke="#000" stroke-width="2.5"/>
<path d="M385 138.8V151.8" stroke="#000" stroke-width="2.5"/>
<path d="M385 227.3V240.3" stroke="#000" stroke-width="2.5"/>
<path d="M100.6 189.5H113.6" stroke="#000" stroke-width="2.5"/>
<path d="M414 189.5H427" stroke="#000" stroke-width="2.5"/>
<text x="88" y="152.3" font-size="29.4" text-anchor="end" stroke="#000" >0</text>
<text x="88" y="199.8" font-size="29.4" text-anchor="end" stroke="#000" >60</text>
<text x="88" y="248.1" font-size="29.4" text-anchor="end" stroke="#000" >120</text>
<text x="143" y="273.6" font-size="29.4" text-anchor="middle" stroke="#000" >50</text>
<text x="263.5" y="273.6" font-size="29.4" text-anchor="middle" stroke="#000" >200</text>
<text x="385" y="273.6" font-size="29.4" text-anchor="middle" stroke="#000" >350</text>
<text x="264" y="315.3" font-size="28.7" text-anchor="middle" stroke="#000" >Pixels</text>
<text x="20.8" y="177.3" font-size="28.7" text-anchor="middle" stroke="#000" transform="rotate(-90 20.8 177.3)" >Pixels</text>
<text x="106.5" y="172" font-size="42" fill="#fff" stroke="#fff" font-weight="bold" >a</text>
<text x="133" y="374.6" font-size="29.4" text-anchor="middle" stroke="#000" >0</text>
<text stroke="#000" x="193" y="371.2" font-size="29.4">Counts s<tspan dy="-13" font-size="20.5">−1</tspan></text>
<text x="393" y="374.6" font-size="29.4" text-anchor="middle" stroke="#000" >150</text>
<rect x="133.25" y="386.85" width="261" height="22.9" fill="url(#jet)" stroke="#000" stroke-width="2.5"/>
<clipPath id="cb"><rect x="100.6" y="423" width="326.4" height="100.5"/></clipPath>
<g clip-path="url(#cb)"><g filter="url(#fb)">
<rect x="100.6" y="423" width="326.4" height="100.5" fill="#050505"/>
<ellipse cx="266" cy="471" rx="150" ry="60" fill="url(#gb1)"/>
</g></g>
<path d="M103.1 473.2H425" stroke="#f80d12" stroke-width="3.6" stroke-dasharray="12.6 5.8"/>
<rect x="101.85" y="424.25" width="323.9" height="98" fill="none" stroke="#000" stroke-width="2.5"/>
<path d="M142 423V435.5" stroke="#000" stroke-width="2.5"/>
<path d="M142 511V523.5" stroke="#000" stroke-width="2.5"/>
<path d="M264 423V435.5" stroke="#000" stroke-width="2.5"/>
<path d="M264 511V523.5" stroke="#000" stroke-width="2.5"/>
<path d="M386 423V435.5" stroke="#000" stroke-width="2.5"/>
<path d="M386 511V523.5" stroke="#000" stroke-width="2.5"/>
<path d="M100.6 464.8H113.1" stroke="#000" stroke-width="2.5"/>
<path d="M414.5 464.8H427" stroke="#000" stroke-width="2.5"/>
<path d="M100.6 506.5H113.1" stroke="#000" stroke-width="2.5"/>
<path d="M414.5 506.5H427" stroke="#000" stroke-width="2.5"/>
<text x="88" y="436.3" font-size="29.4" text-anchor="end" stroke="#000" >0</text>
<text x="88" y="476.9" font-size="29.4" text-anchor="end" stroke="#000" >60</text>
<text x="88" y="517.3" font-size="29.4" text-anchor="end" stroke="#000" >120</text>
<text x="141" y="554.8" font-size="29.4" text-anchor="middle" stroke="#000" >50</text>
<text x="262.3" y="554.8" font-size="29.4" text-anchor="middle" stroke="#000" >200</text>
<text x="385.5" y="554.8" font-size="29.4" text-anchor="middle" stroke="#000" >350</text>
<text x="263" y="597" font-size="28.7" text-anchor="middle" stroke="#000" >Pixels</text>
<text x="20.8" y="463.5" font-size="28.7" text-anchor="middle" stroke="#000" transform="rotate(-90 20.8 463.5)" >Pixels</text>
<text x="106" y="458.5" font-size="42" fill="#fff" stroke="#fff" font-weight="bold" >b</text>
<text x="550.5" y="25.7" font-size="29.4" text-anchor="middle" stroke="#000" >0</text>
<text x="790.3" y="21.5" font-size="29.4" text-anchor="middle" stroke="#000" >Normalized intensity (a.u.)</text>
<text x="1017" y="26.5" font-size="29.4" text-anchor="middle" stroke="#000" >max</text>
<rect x="548.75" y="42.45" width="466.7" height="22.3" fill="url(#jet)" stroke="#000" stroke-width="2.5"/>
<clipPath id="clc"><rect x="548.3" y="86.9" width="226" height="225.8"/></clipPath>
<g clip-path="url(#clc)"><g filter="url(#fc)">
<rect x="548.3" y="86.9" width="226" height="225.8" fill="url(#hc)"/>
<g filter="url(#sb)" fill="none">
<path d="M647.9 86.9L648.3 312.7" stroke="url(#oc0)" stroke-width="2.6"/>
<path d="M671.6 86.9L670.4 312.7" stroke="url(#oc1)" stroke-width="3.2"/>
</g>
</g></g>
<rect x="548.55" y="87.15" width="225.5" height="225.3" fill="none" stroke="#000" stroke-width="2.5"/>
<path d="M576.6 85.9V98.9" stroke="#000" stroke-width="2.5"/>
<path d="M576.6 300.7V313.7" stroke="#000" stroke-width="2.5"/>
<path d="M661.155 85.9V98.9" stroke="#000" stroke-width="2.5"/>
<path d="M661.155 300.7V313.7" stroke="#000" stroke-width="2.5"/>
<path d="M745.71 85.9V98.9" stroke="#000" stroke-width="2.5"/>
<path d="M745.71 300.7V313.7" stroke="#000" stroke-width="2.5"/>
<path d="M547.3 140.85H560.8" stroke="#000" stroke-width="2.5"/>
<path d="M761.8 140.85H775.3" stroke="#000" stroke-width="2.5"/>
<path d="M547.3 194.5H560.8" stroke="#000" stroke-width="2.5"/>
<path d="M761.8 194.5H775.3" stroke="#000" stroke-width="2.5"/>
<path d="M547.3 248.15H560.8" stroke="#000" stroke-width="2.5"/>
<path d="M761.8 248.15H775.3" stroke="#000" stroke-width="2.5"/>
<path d="M547.3 301.8H560.8" stroke="#000" stroke-width="2.5"/>
<path d="M761.8 301.8H775.3" stroke="#000" stroke-width="2.5"/>
<text x="555.1" y="133.5" font-size="42" fill="#fff" stroke="#fff" font-weight="bold" >c</text>
<text x="761" y="293.7" font-size="20.5" text-anchor="end" fill="#fff" stroke="#fff" >23 k</text>
<clipPath id="cld"><rect x="789.7" y="86.9" width="226" height="225.8"/></clipPath>
<g clip-path="url(#cld)"><g filter="url(#fd)">
<rect x="789.7" y="86.9" width="226" height="225.8" fill="url(#hd)"/>
<g filter="url(#sb)" fill="none">
<path d="M886.3 86.9L885.5 312.7" stroke="url(#od0)" stroke-width="2.6"/>
<path d="M883.6 86.9L883.6 312.7" stroke="url(#od1)" stroke-width="2.6"/>
<path d="M891.2 86.9L891.2 312.7" stroke="url(#od2)" stroke-width="2.8"/>
<path d="M903.3 86.9L902.7 312.7" stroke="url(#od3)" stroke-width="3"/>
<path d="M909.9 86.9L910.6 312.7" stroke="url(#od4)" stroke-width="2.8"/>
<path d="M914.8 86.9L914.3 312.7" stroke="url(#od5)" stroke-width="2.4"/>
<path d="M923.5 86.9L926.4 312.7" stroke="url(#od6)" stroke-width="2.6"/>
</g>
</g></g>
<rect x="789.95" y="87.15" width="225.5" height="225.3" fill="none" stroke="#000" stroke-width="2.5"/>
<path d="M818 85.9V98.9" stroke="#000" stroke-width="2.5"/>
<path d="M818 300.7V313.7" stroke="#000" stroke-width="2.5"/>
<path d="M902.555 85.9V98.9" stroke="#000" stroke-width="2.5"/>
<path d="M902.555 300.7V313.7" stroke="#000" stroke-width="2.5"/>
<path d="M987.11 85.9V98.9" stroke="#000" stroke-width="2.5"/>
<path d="M987.11 300.7V313.7" stroke="#000" stroke-width="2.5"/>
<path d="M788.7 140.85H802.2" stroke="#000" stroke-width="2.5"/>
<path d="M1003.2 140.85H1016.7" stroke="#000" stroke-width="2.5"/>
<path d="M788.7 194.5H802.2" stroke="#000" stroke-width="2.5"/>
<path d="M1003.2 194.5H1016.7" stroke="#000" stroke-width="2.5"/>
<path d="M788.7 248.15H802.2" stroke="#000" stroke-width="2.5"/>
<path d="M1003.2 248.15H1016.7" stroke="#000" stroke-width="2.5"/>
<path d="M788.7 301.8H802.2" stroke="#000" stroke-width="2.5"/>
<path d="M1003.2 301.8H1016.7" stroke="#000" stroke-width="2.5"/>
<text x="794.4" y="133.6" font-size="42" fill="#fff" stroke="#fff" font-weight="bold" >d</text>
<text x="1002.4" y="293.7" font-size="20.5" text-anchor="end" fill="#fff" stroke="#fff" >47 k</text>
<clipPath id="cle"><rect x="548.3" y="327.2" width="226" height="225.6"/></clipPath>
<g clip-path="url(#cle)"><g filter="url(#fe)">
<rect x="548.3" y="327.2" width="226" height="225.6" fill="url(#he)"/>
<g filter="url(#sb)" fill="none">
<path d="M618 327.2L618 552.8" stroke="url(#oe0)" stroke-width="2.6"/>
<path d="M644.2 327.2L645.2 552.8" stroke="url(#oe1)" stroke-width="2.6"/>
<path d="M651 327.2L655 552.8" stroke="url(#oe2)" stroke-width="2.4"/>
<path d="M638.2 327.2L635.8 552.8" stroke="url(#oe3)" stroke-width="2.6"/>
<path d="M660 327.2L660 552.8" stroke="url(#oe4)" stroke-width="2.8"/>
<path d="M664.4 327.2L664.4 552.8" stroke="url(#oe5)" stroke-width="2.2"/>
<path d="M667.9 327.2L668.9 552.8" stroke="url(#oe6)" stroke-width="2.4"/>
<path d="M682.75 327.2L688.5 552.8" stroke="url(#oe7)" stroke-width="2.6"/>
</g>
</g></g>
<rect x="548.55" y="327.45" width="225.5" height="225.1" fill="none" stroke="#000" stroke-width="2.5"/>
<path d="M576.6 326.2V339.2" stroke="#000" stroke-width="2.5"/>
<path d="M576.6 540.8V553.8" stroke="#000" stroke-width="2.5"/>
<path d="M661.155 326.2V339.2" stroke="#000" stroke-width="2.5"/>
<path d="M661.155 540.8V553.8" stroke="#000" stroke-width="2.5"/>
<path d="M745.71 326.2V339.2" stroke="#000" stroke-width="2.5"/>
<path d="M745.71 540.8V553.8" stroke="#000" stroke-width="2.5"/>
<path d="M547.3 381.15H560.8" stroke="#000" stroke-width="2.5"/>
<path d="M761.8 381.15H775.3" stroke="#000" stroke-width="2.5"/>
<path d="M547.3 434.8H560.8" stroke="#000" stroke-width="2.5"/>
<path d="M761.8 434.8H775.3" stroke="#000" stroke-width="2.5"/>
<path d="M547.3 488.45H560.8" stroke="#000" stroke-width="2.5"/>
<path d="M761.8 488.45H775.3" stroke="#000" stroke-width="2.5"/>
<path d="M547.3 542.1H560.8" stroke="#000" stroke-width="2.5"/>
<path d="M761.8 542.1H775.3" stroke="#000" stroke-width="2.5"/>
<text x="554.8" y="367.3" font-size="42" fill="#fff" stroke="#fff" font-weight="bold" >e</text>
<text x="761" y="533.8" font-size="20.5" text-anchor="end" fill="#fff" stroke="#fff" >56 k</text>
<clipPath id="clf"><rect x="789.7" y="327.2" width="226" height="225.6"/></clipPath>
<g clip-path="url(#clf)"><g filter="url(#ff)">
<rect x="789.7" y="327.2" width="226" height="225.6" fill="url(#hf)"/>
<g filter="url(#sb)" fill="none">
<path d="M886.25 327.2L886.6 552.8" stroke="url(#of0)" stroke-width="2.4"/>
</g>
</g></g>
<rect x="789.95" y="327.45" width="225.5" height="225.1" fill="none" stroke="#000" stroke-width="2.5"/>
<path d="M818 326.2V339.2" stroke="#000" stroke-width="2.5"/>
<path d="M818 540.8V553.8" stroke="#000" stroke-width="2.5"/>
<path d="M902.555 326.2V339.2" stroke="#000" stroke-width="2.5"/>
<path d="M902.555 540.8V553.8" stroke="#000" stroke-width="2.5"/>
<path d="M987.11 326.2V339.2" stroke="#000" stroke-width="2.5"/>
<path d="M987.11 540.8V553.8" stroke="#000" stroke-width="2.5"/>
<path d="M788.7 381.15H802.2" stroke="#000" stroke-width="2.5"/>
<path d="M1003.2 381.15H1016.7" stroke="#000" stroke-width="2.5"/>
<path d="M788.7 434.8H802.2" stroke="#000" stroke-width="2.5"/>
<path d="M1003.2 434.8H1016.7" stroke="#000" stroke-width="2.5"/>
<path d="M788.7 488.45H802.2" stroke="#000" stroke-width="2.5"/>
<path d="M1003.2 488.45H1016.7" stroke="#000" stroke-width="2.5"/>
<path d="M788.7 542.1H802.2" stroke="#000" stroke-width="2.5"/>
<path d="M1003.2 542.1H1016.7" stroke="#000" stroke-width="2.5"/>
<text x="799.5" y="368.7" font-size="42" fill="#fff" stroke="#fff" font-weight="bold" >f</text>
<text x="1002.4" y="533.8" font-size="20.5" text-anchor="end" fill="#fff" stroke="#fff" >62 k</text>
<text x="536" y="97.6" font-size="29.4" text-anchor="end" stroke="#000" >0</text>
<text x="536" y="337.9" font-size="29.4" text-anchor="end" stroke="#000" >0</text>
<text x="536" y="151.25" font-size="29.4" text-anchor="end" stroke="#000" >1</text>
<text x="536" y="391.55" font-size="29.4" text-anchor="end" stroke="#000" >1</text>
<text x="536" y="204.9" font-size="29.4" text-anchor="end" stroke="#000" >2</text>
<text x="536" y="445.2" font-size="29.4" text-anchor="end" stroke="#000" >2</text>
<text x="536" y="258.55" font-size="29.4" text-anchor="end" stroke="#000" >3</text>
<text x="536" y="498.85" font-size="29.4" text-anchor="end" stroke="#000" >3</text>
<text x="536" y="312.2" font-size="29.4" text-anchor="end" stroke="#000" >4</text>
<text x="536" y="552.5" font-size="29.4" text-anchor="end" stroke="#000" >4</text>
<text x="576.9" y="587" font-size="29.4" text-anchor="middle" stroke="#000" >50</text>
<text x="818.3" y="587" font-size="29.4" text-anchor="middle" stroke="#000" >50</text>
<text x="660.555" y="587" font-size="29.4" text-anchor="middle" stroke="#000" >200</text>
<text x="901.955" y="587" font-size="29.4" text-anchor="middle" stroke="#000" >200</text>
<text x="744.11" y="587" font-size="29.4" text-anchor="middle" stroke="#000" >350</text>
<text x="985.51" y="587" font-size="29.4" text-anchor="middle" stroke="#000" >350</text>
<text x="782" y="628" font-size="28.7" text-anchor="middle" stroke="#000" >Pixels</text>
<text stroke="#000" x="494.5" y="314" font-size="29.4" text-anchor="middle" transform="rotate(-90 494.5 314)">Time (×10<tspan dy="-12.5" font-size="20.5">3</tspan><tspan dy="12.5"> s)</tspan></text>
<clipPath id="cg"><rect x="1171" y="4.4" width="412.7" height="547.7"/></clipPath>
<g clip-path="url(#cg)">
<g fill="#1f77b4" stroke="#1f77b4" fill-opacity=".5" stroke-opacity=".58" stroke-width="2.8" stroke-linejoin="miter">
<path d="M1182.7 41.1l5.4 10.8h-10.8z"/>
<path d="M1212.8 42.4l5.4 10.8h-10.8z"/>
<path d="M1236.2 43.7l5.4 10.8h-10.8z"/>
<path d="M1255.3 44.9l5.4 10.8h-10.8z"/>
<path d="M1271.4 45.9l5.4 10.8h-10.8z"/>
<path d="M1285.4 47.2l5.4 10.8h-10.8z"/>
<path d="M1297.7 47.8l5.4 10.8h-10.8z"/>
<path d="M1308.7 48.6l5.4 10.8h-10.8z"/>
<path d="M1318.7 50.3l5.4 10.8h-10.8z"/>
<path d="M1327.8 51.2l5.4 10.8h-10.8z"/>
<path d="M1336.2 52.4l5.4 10.8h-10.8z"/>
<path d="M1344.0 52.3l5.4 10.8h-10.8z"/>
<path d="M1351.2 53.8l5.4 10.8h-10.8z"/>
<path d="M1357.9 54.7l5.4 10.8h-10.8z"/>
<path d="M1364.3 54.4l5.4 10.8h-10.8z"/>
<path d="M1370.3 57.0l5.4 10.8h-10.8z"/>
<path d="M1375.9 57.7l5.4 10.8h-10.8z"/>
<path d="M1381.3 60.5l5.4 10.8h-10.8z"/>
<path d="M1386.4 59.5l5.4 10.8h-10.8z"/>
<path d="M1391.3 60.3l5.4 10.8h-10.8z"/>
<path d="M1395.9 62.7l5.4 10.8h-10.8z"/>
<path d="M1400.4 62.9l5.4 10.8h-10.8z"/>
<path d="M1404.6 64.8l5.4 10.8h-10.8z"/>
<path d="M1408.7 64.7l5.4 10.8h-10.8z"/>
<path d="M1412.7 66.5l5.4 10.8h-10.8z"/>
<path d="M1416.5 68.6l5.4 10.8h-10.8z"/>
<path d="M1420.2 69.5l5.4 10.8h-10.8z"/>
<path d="M1423.7 70.0l5.4 10.8h-10.8z"/>
<path d="M1427.2 69.9l5.4 10.8h-10.8z"/>
<path d="M1430.5 73.1l5.4 10.8h-10.8z"/>
<path d="M1433.7 74.1l5.4 10.8h-10.8z"/>
<path d="M1436.8 76.4l5.4 10.8h-10.8z"/>
<path d="M1439.9 77.3l5.4 10.8h-10.8z"/>
<path d="M1442.8 80.1l5.4 10.8h-10.8z"/>
<path d="M1445.7 80.3l5.4 10.8h-10.8z"/>
<path d="M1448.5 82.2l5.4 10.8h-10.8z"/>
<path d="M1451.2 84.3l5.4 10.8h-10.8z"/>
<path d="M1453.8 83.3l5.4 10.8h-10.8z"/>
<path d="M1456.4 85.6l5.4 10.8h-10.8z"/>
<path d="M1458.9 86.7l5.4 10.8h-10.8z"/>
<path d="M1461.4 91.5l5.4 10.8h-10.8z"/>
<path d="M1463.8 89.8l5.4 10.8h-10.8z"/>
<path d="M1466.2 92.1l5.4 10.8h-10.8z"/>
<path d="M1468.5 93.3l5.4 10.8h-10.8z"/>
<path d="M1470.7 93.3l5.4 10.8h-10.8z"/>
<path d="M1472.9 92.6l5.4 10.8h-10.8z"/>
<path d="M1475.1 97.6l5.4 10.8h-10.8z"/>
<path d="M1477.2 96.7l5.4 10.8h-10.8z"/>
<path d="M1479.3 99.6l5.4 10.8h-10.8z"/>
<path d="M1481.3 97.7l5.4 10.8h-10.8z"/>
<path d="M1483.3 100.1l5.4 10.8h-10.8z"/>
<path d="M1485.2 103.9l5.4 10.8h-10.8z"/>
<path d="M1487.2 105.3l5.4 10.8h-10.8z"/>
<path d="M1489.0 102.0l5.4 10.8h-10.8z"/>
<path d="M1490.9 103.0l5.4 10.8h-10.8z"/>
<path d="M1492.7 106.1l5.4 10.8h-10.8z"/>
<path d="M1494.5 108.4l5.4 10.8h-10.8z"/>
<path d="M1496.3 108.6l5.4 10.8h-10.8z"/>
<path d="M1498.0 109.9l5.4 10.8h-10.8z"/>
<path d="M1499.7 109.0l5.4 10.8h-10.8z"/>
<path d="M1501.4 112.6l5.4 10.8h-10.8z"/>
<path d="M1503.0 114.6l5.4 10.8h-10.8z"/>
<path d="M1504.6 113.2l5.4 10.8h-10.8z"/>
<path d="M1506.2 112.8l5.4 10.8h-10.8z"/>
<path d="M1507.8 115.0l5.4 10.8h-10.8z"/>
<path d="M1509.4 118.6l5.4 10.8h-10.8z"/>
<path d="M1510.9 115.7l5.4 10.8h-10.8z"/>
<path d="M1512.4 119.5l5.4 10.8h-10.8z"/>
<path d="M1513.9 119.2l5.4 10.8h-10.8z"/>
<path d="M1515.4 121.7l5.4 10.8h-10.8z"/>
<path d="M1516.8 122.6l5.4 10.8h-10.8z"/>
<path d="M1518.2 124.2l5.4 10.8h-10.8z"/>
<path d="M1519.6 127.7l5.4 10.8h-10.8z"/>
<path d="M1521.0 127.1l5.4 10.8h-10.8z"/>
<path d="M1522.4 129.7l5.4 10.8h-10.8z"/>
<path d="M1523.7 128.5l5.4 10.8h-10.8z"/>
<path d="M1525.1 129.1l5.4 10.8h-10.8z"/>
<path d="M1526.4 131.6l5.4 10.8h-10.8z"/>
<path d="M1527.7 127.6l5.4 10.8h-10.8z"/>
<path d="M1529.0 133.2l5.4 10.8h-10.8z"/>
<path d="M1530.2 134.7l5.4 10.8h-10.8z"/>
<path d="M1531.5 133.7l5.4 10.8h-10.8z"/>
<path d="M1532.7 137.6l5.4 10.8h-10.8z"/>
<path d="M1534.0 137.2l5.4 10.8h-10.8z"/>
<path d="M1535.2 135.4l5.4 10.8h-10.8z"/>
<path d="M1536.4 140.2l5.4 10.8h-10.8z"/>
<path d="M1537.5 140.2l5.4 10.8h-10.8z"/>
<path d="M1538.7 142.2l5.4 10.8h-10.8z"/>
<path d="M1539.9 144.1l5.4 10.8h-10.8z"/>
<path d="M1541.0 147.6l5.4 10.8h-10.8z"/>
<path d="M1542.1 147.1l5.4 10.8h-10.8z"/>
<path d="M1543.3 148.2l5.4 10.8h-10.8z"/>
<path d="M1544.4 150.2l5.4 10.8h-10.8z"/>
<path d="M1545.5 148.0l5.4 10.8h-10.8z"/>
<path d="M1546.5 154.3l5.4 10.8h-10.8z"/>
<path d="M1547.6 151.9l5.4 10.8h-10.8z"/>
<path d="M1548.7 155.7l5.4 10.8h-10.8z"/>
<path d="M1549.7 154.6l5.4 10.8h-10.8z"/>
<path d="M1550.8 156.2l5.4 10.8h-10.8z"/>
<path d="M1551.8 158.5l5.4 10.8h-10.8z"/>
<path d="M1552.8 163.5l5.4 10.8h-10.8z"/>
<path d="M1553.8 162.9l5.4 10.8h-10.8z"/>
<path d="M1554.8 162.1l5.4 10.8h-10.8z"/>
<path d="M1555.8 164.0l5.4 10.8h-10.8z"/>
<path d="M1556.8 163.9l5.4 10.8h-10.8z"/>
<path d="M1557.8 167.0l5.4 10.8h-10.8z"/>
<path d="M1558.8 167.4l5.4 10.8h-10.8z"/>
<path d="M1559.7 170.8l5.4 10.8h-10.8z"/>
<path d="M1560.7 168.7l5.4 10.8h-10.8z"/>
<path d="M1561.6 171.7l5.4 10.8h-10.8z"/>
<path d="M1562.5 172.2l5.4 10.8h-10.8z"/>
<path d="M1563.5 173.7l5.4 10.8h-10.8z"/>
<path d="M1564.4 177.3l5.4 10.8h-10.8z"/>
<path d="M1565.3 177.7l5.4 10.8h-10.8z"/>
<path d="M1566.2 179.8l5.4 10.8h-10.8z"/>
<path d="M1567.1 182.1l5.4 10.8h-10.8z"/>
<path d="M1567.9 183.5l5.4 10.8h-10.8z"/>
<path d="M1568.8 180.8l5.4 10.8h-10.8z"/>
<path d="M1569.7 185.3l5.4 10.8h-10.8z"/>
<path d="M1570.5 183.1l5.4 10.8h-10.8z"/>
<path d="M1571.4 187.2l5.4 10.8h-10.8z"/>
<path d="M1572.3 191.8l5.4 10.8h-10.8z"/>
<path d="M1573.1 189.9l5.4 10.8h-10.8z"/>
<path d="M1573.9 191.1l5.4 10.8h-10.8z"/>
<path d="M1574.8 193.4l5.4 10.8h-10.8z"/>
<path d="M1575.6 194.6l5.4 10.8h-10.8z"/>
<path d="M1576.4 196.1l5.4 10.8h-10.8z"/>
<path d="M1577.2 196.3l5.4 10.8h-10.8z"/>
<path d="M1578.0 200.7l5.4 10.8h-10.8z"/>
<path d="M1578.8 201.9l5.4 10.8h-10.8z"/>
<path d="M1579.6 201.6l5.4 10.8h-10.8z"/>
<path d="M1580.4 204.0l5.4 10.8h-10.8z"/>
<path d="M1581.1 206.0l5.4 10.8h-10.8z"/>
<path d="M1581.9 208.1l5.4 10.8h-10.8z"/>
</g>
<path d="M1180.5 49.9L1185.0 50.2L1189.5 50.5L1194.1 50.7L1198.6 50.9L1203.1 51.2L1207.6 51.4L1212.1 51.6L1216.6 51.7L1221.2 51.9L1225.7 52.1L1230.2 52.2L1234.7 52.4L1239.2 52.5L1243.7 52.7L1248.3 52.8L1252.8 52.9L1257.3 53.1L1261.8 53.3L1266.3 53.4L1270.8 53.6L1275.4 53.8L1279.9 54.0L1284.4 54.2L1288.9 54.4L1293.4 54.7L1297.9 54.9L1302.5 55.2L1307.0 55.5L1311.5 55.8L1316.0 56.2L1320.5 56.6L1325.0 57.0L1329.6 57.5L1334.1 57.9L1338.6 58.4L1343.1 59.0L1347.6 59.6L1352.1 60.2L1356.7 60.9L1361.2 61.6L1365.7 62.3L1370.2 63.1L1374.7 64.0L1379.2 64.9L1383.8 65.8L1388.3 66.8L1392.8 67.9L1397.3 69.0L1401.8 70.2L1406.3 71.4L1410.9 72.7L1415.4 74.1L1419.9 75.5L1424.4 77.0L1428.9 78.5L1433.4 80.2L1438.0 81.9L1442.5 83.6L1447.0 85.5L1451.5 87.4L1456.0 89.5L1460.5 91.6L1465.1 93.8L1469.6 96.2L1474.1 98.6L1478.6 101.2L1483.1 103.9L1487.6 106.8L1492.2 109.7L1496.7 112.9L1501.2 116.1L1505.7 119.5L1510.2 123.1L1514.7 126.9L1519.3 130.8L1523.8 134.9L1528.3 139.1L1532.8 143.6L1537.3 148.3L1541.8 153.2L1546.4 158.5L1550.9 164.2L1555.4 170.2L1559.9 176.7L1564.4 183.7L1568.9 191.2L1573.5 199.3L1578.0 208.0L1582.5 217.4" fill="none" stroke="#1f77b4" stroke-width="5.2"/>
<g fill="#2ca02c" stroke="#2ca02c" fill-opacity=".5" stroke-opacity=".58" stroke-width="2.8" stroke-linejoin="miter">
<circle cx="1182.7" cy="75.3" r="5.4"/>
<circle cx="1212.8" cy="79.4" r="5.4"/>
<circle cx="1236.2" cy="83.1" r="5.4"/>
<circle cx="1255.3" cy="86.4" r="5.4"/>
<circle cx="1271.4" cy="89.2" r="5.4"/>
<circle cx="1285.4" cy="92.4" r="5.4"/>
<circle cx="1297.7" cy="95.9" r="5.4"/>
<circle cx="1308.7" cy="99.1" r="5.4"/>
<circle cx="1318.7" cy="102.7" r="5.4"/>
<circle cx="1327.8" cy="106.5" r="5.4"/>
<circle cx="1336.2" cy="110.3" r="5.4"/>
<circle cx="1344.0" cy="114.2" r="5.4"/>
<circle cx="1351.2" cy="118.1" r="5.4"/>
<circle cx="1357.9" cy="122.8" r="5.4"/>
<circle cx="1364.3" cy="126.8" r="5.4"/>
<circle cx="1370.3" cy="129.9" r="5.4"/>
<circle cx="1375.9" cy="135.5" r="5.4"/>
<circle cx="1381.3" cy="138.7" r="5.4"/>
<circle cx="1386.4" cy="142.4" r="5.4"/>
<circle cx="1391.3" cy="146.6" r="5.4"/>
<circle cx="1395.9" cy="150.4" r="5.4"/>
<circle cx="1400.4" cy="154.0" r="5.4"/>
<circle cx="1404.6" cy="157.3" r="5.4"/>
<circle cx="1408.7" cy="161.4" r="5.4"/>
<circle cx="1412.7" cy="164.2" r="5.4"/>
<circle cx="1416.5" cy="169.1" r="5.4"/>
<circle cx="1420.2" cy="171.1" r="5.4"/>
<circle cx="1423.7" cy="174.9" r="5.4"/>
<circle cx="1427.2" cy="178.4" r="5.4"/>
<circle cx="1430.5" cy="182.0" r="5.4"/>
<circle cx="1433.7" cy="185.4" r="5.4"/>
<circle cx="1436.8" cy="189.7" r="5.4"/>
<circle cx="1439.9" cy="191.3" r="5.4"/>
<circle cx="1442.8" cy="197.0" r="5.4"/>
<circle cx="1445.7" cy="200.7" r="5.4"/>
<circle cx="1448.5" cy="204.2" r="5.4"/>
<circle cx="1451.2" cy="208.9" r="5.4"/>
<circle cx="1453.8" cy="210.9" r="5.4"/>
<circle cx="1456.4" cy="214.8" r="5.4"/>
<circle cx="1458.9" cy="216.9" r="5.4"/>
<circle cx="1461.4" cy="221.5" r="5.4"/>
<circle cx="1463.8" cy="223.4" r="5.4"/>
<circle cx="1466.2" cy="226.5" r="5.4"/>
<circle cx="1468.5" cy="232.0" r="5.4"/>
<circle cx="1470.7" cy="234.0" r="5.4"/>
<circle cx="1472.9" cy="236.4" r="5.4"/>
<circle cx="1475.1" cy="239.4" r="5.4"/>
<circle cx="1477.2" cy="241.1" r="5.4"/>
<circle cx="1479.3" cy="244.1" r="5.4"/>
<circle cx="1481.3" cy="247.9" r="5.4"/>
<circle cx="1483.3" cy="248.9" r="5.4"/>
<circle cx="1485.2" cy="253.3" r="5.4"/>
<circle cx="1487.2" cy="254.6" r="5.4"/>
<circle cx="1489.0" cy="258.6" r="5.4"/>
<circle cx="1490.9" cy="260.4" r="5.4"/>
<circle cx="1492.7" cy="265.2" r="5.4"/>
<circle cx="1494.5" cy="267.3" r="5.4"/>
<circle cx="1496.3" cy="268.8" r="5.4"/>
<circle cx="1498.0" cy="270.5" r="5.4"/>
<circle cx="1499.7" cy="273.9" r="5.4"/>
<circle cx="1501.4" cy="277.0" r="5.4"/>
<circle cx="1503.0" cy="278.9" r="5.4"/>
<circle cx="1504.6" cy="282.4" r="5.4"/>
<circle cx="1506.2" cy="285.5" r="5.4"/>
<circle cx="1507.8" cy="287.4" r="5.4"/>
<circle cx="1509.4" cy="289.9" r="5.4"/>
<circle cx="1510.9" cy="293.7" r="5.4"/>
<circle cx="1512.4" cy="295.9" r="5.4"/>
<circle cx="1513.9" cy="299.6" r="5.4"/>
<circle cx="1515.4" cy="301.7" r="5.4"/>
<circle cx="1516.8" cy="305.8" r="5.4"/>
<circle cx="1518.2" cy="307.1" r="5.4"/>
<circle cx="1519.6" cy="309.1" r="5.4"/>
<circle cx="1521.0" cy="312.4" r="5.4"/>
<circle cx="1522.4" cy="314.3" r="5.4"/>
<circle cx="1523.7" cy="316.5" r="5.4"/>
<circle cx="1525.1" cy="319.4" r="5.4"/>
<circle cx="1526.4" cy="322.3" r="5.4"/>
<circle cx="1527.7" cy="322.5" r="5.4"/>
<circle cx="1529.0" cy="326.2" r="5.4"/>
<circle cx="1530.2" cy="328.3" r="5.4"/>
<circle cx="1531.5" cy="330.4" r="5.4"/>
<circle cx="1532.7" cy="333.2" r="5.4"/>
<circle cx="1534.0" cy="333.8" r="5.4"/>
<circle cx="1535.2" cy="337.2" r="5.4"/>
<circle cx="1536.4" cy="338.6" r="5.4"/>
<circle cx="1537.5" cy="340.9" r="5.4"/>
<circle cx="1538.7" cy="342.7" r="5.4"/>
<circle cx="1539.9" cy="344.6" r="5.4"/>
<circle cx="1541.0" cy="346.4" r="5.4"/>
<circle cx="1542.1" cy="349.0" r="5.4"/>
<circle cx="1543.3" cy="352.1" r="5.4"/>
<circle cx="1544.4" cy="353.2" r="5.4"/>
<circle cx="1545.5" cy="354.9" r="5.4"/>
<circle cx="1546.5" cy="356.5" r="5.4"/>
<circle cx="1547.6" cy="357.6" r="5.4"/>
<circle cx="1548.7" cy="360.1" r="5.4"/>
<circle cx="1549.7" cy="363.0" r="5.4"/>
<circle cx="1550.8" cy="362.3" r="5.4"/>
<circle cx="1551.8" cy="365.6" r="5.4"/>
<circle cx="1552.8" cy="367.4" r="5.4"/>
<circle cx="1553.8" cy="368.6" r="5.4"/>
<circle cx="1554.8" cy="370.7" r="5.4"/>
<circle cx="1555.8" cy="372.8" r="5.4"/>
<circle cx="1556.8" cy="375.1" r="5.4"/>
<circle cx="1557.8" cy="376.1" r="5.4"/>
<circle cx="1558.8" cy="378.0" r="5.4"/>
<circle cx="1559.7" cy="378.6" r="5.4"/>
<circle cx="1560.7" cy="380.6" r="5.4"/>
<circle cx="1561.6" cy="381.7" r="5.4"/>
<circle cx="1562.5" cy="383.3" r="5.4"/>
<circle cx="1563.5" cy="384.3" r="5.4"/>
<circle cx="1564.4" cy="386.7" r="5.4"/>
<circle cx="1565.3" cy="388.7" r="5.4"/>
<circle cx="1566.2" cy="389.1" r="5.4"/>
<circle cx="1567.1" cy="390.8" r="5.4"/>
<circle cx="1567.9" cy="392.5" r="5.4"/>
<circle cx="1568.8" cy="393.5" r="5.4"/>
<circle cx="1569.7" cy="395.5" r="5.4"/>
<circle cx="1570.5" cy="396.4" r="5.4"/>
<circle cx="1571.4" cy="396.8" r="5.4"/>
<circle cx="1572.3" cy="398.2" r="5.4"/>
<circle cx="1573.1" cy="400.8" r="5.4"/>
<circle cx="1573.9" cy="402.0" r="5.4"/>
<circle cx="1574.8" cy="403.6" r="5.4"/>
<circle cx="1575.6" cy="404.3" r="5.4"/>
<circle cx="1576.4" cy="405.5" r="5.4"/>
<circle cx="1577.2" cy="405.5" r="5.4"/>
<circle cx="1578.0" cy="408.8" r="5.4"/>
<circle cx="1578.8" cy="408.4" r="5.4"/>
<circle cx="1579.6" cy="411.0" r="5.4"/>
<circle cx="1580.4" cy="410.7" r="5.4"/>
<circle cx="1581.1" cy="412.2" r="5.4"/>
<circle cx="1581.9" cy="414.0" r="5.4"/>
</g>
<path d="M1180.5 67.5L1185.0 68.5L1189.5 69.5L1194.1 70.5L1198.6 71.5L1203.1 72.5L1207.6 73.6L1212.1 74.6L1216.6 75.6L1221.2 76.7L1225.7 77.7L1230.2 78.8L1234.7 80.0L1239.2 81.1L1243.7 82.3L1248.3 83.5L1252.8 84.7L1257.3 86.0L1261.8 87.3L1266.3 88.7L1270.8 90.1L1275.4 91.5L1279.9 93.0L1284.4 94.6L1288.9 96.2L1293.4 97.9L1297.9 99.6L1302.5 101.4L1307.0 103.2L1311.5 105.2L1316.0 107.2L1320.5 109.2L1325.0 111.4L1329.6 113.6L1334.1 115.9L1338.6 118.3L1343.1 120.8L1347.6 123.3L1352.1 126.0L1356.7 128.7L1361.2 131.6L1365.7 134.5L1370.2 137.6L1374.7 140.7L1379.2 144.0L1383.8 147.4L1388.3 150.9L1392.8 154.5L1397.3 158.2L1401.8 162.0L1406.3 166.0L1410.9 170.1L1415.4 174.3L1419.9 178.7L1424.4 183.2L1428.9 187.8L1433.4 192.5L1438.0 197.5L1442.5 202.5L1447.0 207.7L1451.5 213.0L1456.0 218.4L1460.5 224.0L1465.1 229.7L1469.6 235.6L1474.1 241.6L1478.6 247.7L1483.1 253.9L1487.6 260.3L1492.2 266.8L1496.7 273.4L1501.2 280.2L1505.7 287.1L1510.2 294.1L1514.7 301.2L1519.3 308.4L1523.8 315.8L1528.3 323.3L1532.8 330.9L1537.3 338.6L1541.8 346.5L1546.4 354.4L1550.9 362.3L1555.4 370.2L1559.9 378.1L1564.4 385.9L1568.9 393.6L1573.5 401.1L1578.0 408.3L1582.5 415.4" fill="none" stroke="#2ca02c" stroke-width="5.2"/>
<g fill="#ff7f0e" stroke="#ff7f0e" fill-opacity=".5" stroke-opacity=".58" stroke-width="2.8" stroke-linejoin="miter">
<path d="M1182.7 94.8L1188.0 98.6L1186.0 104.7L1179.5 104.7L1177.5 98.6z"/>
<path d="M1212.8 100.7L1218.1 104.5L1216.1 110.6L1209.6 110.6L1207.6 104.5z"/>
<path d="M1236.2 105.3L1241.4 109.1L1239.4 115.3L1233.0 115.3L1231.0 109.1z"/>
<path d="M1255.3 110.1L1260.5 113.9L1258.5 120.1L1252.0 120.1L1250.0 113.9z"/>
<path d="M1271.4 114.6L1276.6 118.4L1274.6 124.6L1268.2 124.6L1266.2 118.4z"/>
<path d="M1285.4 120.1L1290.6 123.9L1288.6 130.1L1282.1 130.1L1280.2 123.9z"/>
<path d="M1297.7 127.3L1302.9 131.1L1300.9 137.2L1294.5 137.2L1292.5 131.1z"/>
<path d="M1308.7 133.9L1314.0 137.7L1312.0 143.8L1305.5 143.8L1303.5 137.7z"/>
<path d="M1318.7 140.3L1323.9 144.1L1321.9 150.2L1315.5 150.2L1313.5 144.1z"/>
<path d="M1327.8 146.9L1333.0 150.7L1331.1 156.9L1324.6 156.9L1322.6 150.7z"/>
<path d="M1336.2 154.0L1341.4 157.8L1339.4 164.0L1333.0 164.0L1331.0 157.8z"/>
<path d="M1344.0 160.3L1349.2 164.1L1347.2 170.3L1340.7 170.3L1338.7 164.1z"/>
<path d="M1351.2 166.9L1356.4 170.7L1354.4 176.8L1347.9 176.8L1345.9 170.7z"/>
<path d="M1357.9 173.0L1363.2 176.8L1361.2 183.0L1354.7 183.0L1352.7 176.8z"/>
<path d="M1364.3 179.1L1369.5 182.9L1367.5 189.0L1361.0 189.0L1359.0 182.9z"/>
<path d="M1370.3 185.1L1375.5 188.9L1373.5 195.1L1367.0 195.1L1365.0 188.9z"/>
<path d="M1375.9 191.5L1381.1 195.3L1379.1 201.4L1372.7 201.4L1370.7 195.3z"/>
<path d="M1381.3 197.7L1386.5 201.5L1384.5 207.6L1378.1 207.6L1376.1 201.5z"/>
<path d="M1386.4 204.7L1391.6 208.5L1389.6 214.6L1383.2 214.6L1381.2 208.5z"/>
<path d="M1391.3 212.3L1396.5 216.1L1394.5 222.3L1388.0 222.3L1386.0 216.1z"/>
<path d="M1395.9 219.0L1401.1 222.8L1399.1 229.0L1392.7 229.0L1390.7 222.8z"/>
<path d="M1400.4 225.4L1405.6 229.2L1403.6 235.4L1397.1 235.4L1395.1 229.2z"/>
<path d="M1404.6 231.7L1409.9 235.5L1407.9 241.6L1401.4 241.6L1399.4 235.5z"/>
<path d="M1408.7 236.5L1414.0 240.3L1412.0 246.5L1405.5 246.5L1403.5 240.3z"/>
<path d="M1412.7 242.4L1417.9 246.2L1415.9 252.4L1409.5 252.4L1407.5 246.2z"/>
<path d="M1416.5 247.6L1421.7 251.4L1419.7 257.5L1413.3 257.5L1411.3 251.4z"/>
<path d="M1420.2 252.6L1425.4 256.4L1423.4 262.6L1416.9 262.6L1414.9 256.4z"/>
<path d="M1423.7 256.2L1429.0 260.0L1427.0 266.1L1420.5 266.1L1418.5 260.0z"/>
<path d="M1427.2 260.7L1432.4 264.5L1430.4 270.6L1423.9 270.6L1421.9 264.5z"/>
<path d="M1430.5 263.7L1435.7 267.5L1433.7 273.6L1427.2 273.6L1425.2 267.5z"/>
<path d="M1433.7 268.5L1438.9 272.3L1436.9 278.5L1430.5 278.5L1428.5 272.3z"/>
<path d="M1436.8 271.3L1442.1 275.1L1440.1 281.2L1433.6 281.2L1431.6 275.1z"/>
<path d="M1439.9 275.6L1445.1 279.4L1443.1 285.5L1436.6 285.5L1434.6 279.4z"/>
<path d="M1442.8 280.9L1448.0 284.7L1446.0 290.9L1439.6 290.9L1437.6 284.7z"/>
<path d="M1445.7 282.4L1450.9 286.2L1448.9 292.3L1442.4 292.3L1440.4 286.2z"/>
<path d="M1448.5 287.9L1453.7 291.7L1451.7 297.8L1445.2 297.8L1443.2 291.7z"/>
<path d="M1451.2 290.9L1456.4 294.7L1454.4 300.8L1447.9 300.8L1446.0 294.7z"/>
<path d="M1453.8 293.7L1459.1 297.5L1457.1 303.6L1450.6 303.6L1448.6 297.5z"/>
<path d="M1456.4 297.4L1461.6 301.2L1459.6 307.3L1453.2 307.3L1451.2 301.2z"/>
<path d="M1458.9 300.5L1464.2 304.3L1462.2 310.5L1455.7 310.5L1453.7 304.3z"/>
<path d="M1461.4 303.9L1466.6 307.7L1464.6 313.9L1458.2 313.9L1456.2 307.7z"/>
<path d="M1463.8 306.1L1469.0 309.9L1467.0 316.0L1460.6 316.0L1458.6 309.9z"/>
<path d="M1466.2 308.8L1471.4 312.6L1469.4 318.8L1462.9 318.8L1460.9 312.6z"/>
<path d="M1468.5 311.8L1473.7 315.6L1471.7 321.7L1465.2 321.7L1463.2 315.6z"/>
<path d="M1470.7 314.5L1475.9 318.3L1473.9 324.4L1467.5 324.4L1465.5 318.3z"/>
<path d="M1472.9 318.1L1478.1 321.9L1476.1 328.0L1469.7 328.0L1467.7 321.9z"/>
<path d="M1475.1 320.4L1480.3 324.2L1478.3 330.3L1471.8 330.3L1469.8 324.2z"/>
<path d="M1477.2 324.6L1482.4 328.4L1480.4 334.6L1474.0 334.6L1472.0 328.4z"/>
<path d="M1479.3 325.2L1484.5 329.0L1482.5 335.1L1476.0 335.1L1474.0 329.0z"/>
<path d="M1481.3 328.5L1486.5 332.3L1484.5 338.4L1478.1 338.4L1476.1 332.3z"/>
<path d="M1483.3 331.3L1488.5 335.1L1486.5 341.3L1480.1 341.3L1478.1 335.1z"/>
<path d="M1485.2 333.1L1490.5 336.9L1488.5 343.0L1482.0 343.0L1480.0 336.9z"/>
<path d="M1487.2 338.8L1492.4 342.6L1490.4 348.8L1483.9 348.8L1481.9 342.6z"/>
<path d="M1489.0 337.9L1494.3 341.7L1492.3 347.9L1485.8 347.9L1483.8 341.7z"/>
<path d="M1490.9 342.1L1496.1 345.9L1494.1 352.1L1487.7 352.1L1485.7 345.9z"/>
<path d="M1492.7 344.4L1498.0 348.2L1496.0 354.4L1489.5 354.4L1487.5 348.2z"/>
<path d="M1494.5 348.6L1499.7 352.4L1497.7 358.5L1491.3 358.5L1489.3 352.4z"/>
<path d="M1496.3 348.0L1501.5 351.8L1499.5 358.0L1493.0 358.0L1491.0 351.8z"/>
<path d="M1498.0 352.8L1503.2 356.6L1501.2 362.7L1494.8 362.7L1492.8 356.6z"/>
<path d="M1499.7 353.6L1504.9 357.4L1502.9 363.6L1496.5 363.6L1494.5 357.4z"/>
<path d="M1501.4 356.4L1506.6 360.2L1504.6 366.3L1498.1 366.3L1496.1 360.2z"/>
<path d="M1503.0 358.2L1508.3 362.0L1506.3 368.1L1499.8 368.1L1497.8 362.0z"/>
<path d="M1504.6 361.4L1509.9 365.2L1507.9 371.4L1501.4 371.4L1499.4 365.2z"/>
<path d="M1506.2 362.2L1511.5 366.0L1509.5 372.1L1503.0 372.1L1501.0 366.0z"/>
<path d="M1507.8 365.2L1513.1 369.0L1511.1 375.1L1504.6 375.1L1502.6 369.0z"/>
<path d="M1509.4 367.7L1514.6 371.5L1512.6 377.6L1506.1 377.6L1504.1 371.5z"/>
<path d="M1510.9 371.0L1516.1 374.8L1514.1 380.9L1507.7 380.9L1505.7 374.8z"/>
<path d="M1512.4 369.7L1517.6 373.5L1515.6 379.6L1509.2 379.6L1507.2 373.5z"/>
<path d="M1513.9 374.9L1519.1 378.7L1517.1 384.8L1510.7 384.8L1508.7 378.7z"/>
<path d="M1515.4 376.5L1520.6 380.3L1518.6 386.4L1512.1 386.4L1510.1 380.3z"/>
<path d="M1516.8 377.4L1522.0 381.2L1520.0 387.3L1513.6 387.3L1511.6 381.2z"/>
<path d="M1518.2 380.1L1523.5 383.9L1521.5 390.0L1515.0 390.0L1513.0 383.9z"/>
<path d="M1519.6 381.5L1524.9 385.3L1522.9 391.4L1516.4 391.4L1514.4 385.3z"/>
<path d="M1521.0 385.1L1526.2 388.9L1524.2 395.1L1517.8 395.1L1515.8 388.9z"/>
<path d="M1522.4 386.0L1527.6 389.8L1525.6 395.9L1519.1 395.9L1517.1 389.8z"/>
<path d="M1523.7 387.6L1529.0 391.4L1527.0 397.5L1520.5 397.5L1518.5 391.4z"/>
<path d="M1525.1 389.5L1530.3 393.3L1528.3 399.4L1521.8 399.4L1519.8 393.3z"/>
<path d="M1526.4 391.4L1531.6 395.2L1529.6 401.3L1523.1 401.3L1521.2 395.2z"/>
<path d="M1527.7 393.3L1532.9 397.1L1530.9 403.3L1524.4 403.3L1522.5 397.1z"/>
<path d="M1529.0 394.6L1534.2 398.4L1532.2 404.6L1525.7 404.6L1523.7 398.4z"/>
<path d="M1530.2 398.8L1535.5 402.6L1533.5 408.8L1527.0 408.8L1525.0 402.6z"/>
<path d="M1531.5 397.5L1536.7 401.3L1534.7 407.5L1528.3 407.5L1526.3 401.3z"/>
<path d="M1532.7 398.0L1538.0 401.8L1536.0 408.0L1529.5 408.0L1527.5 401.8z"/>
<path d="M1534.0 402.6L1539.2 406.4L1537.2 412.6L1530.7 412.6L1528.7 406.4z"/>
<path d="M1535.2 404.4L1540.4 408.2L1538.4 414.4L1531.9 414.4L1529.9 408.2z"/>
<path d="M1536.4 406.7L1541.6 410.5L1539.6 416.6L1533.1 416.6L1531.1 410.5z"/>
<path d="M1537.5 408.1L1542.8 411.9L1540.8 418.0L1534.3 418.0L1532.3 411.9z"/>
<path d="M1538.7 409.9L1543.9 413.7L1541.9 419.9L1535.5 419.9L1533.5 413.7z"/>
<path d="M1539.9 412.1L1545.1 415.9L1543.1 422.1L1536.6 422.1L1534.6 415.9z"/>
<path d="M1541.0 414.4L1546.2 418.2L1544.2 424.4L1537.8 424.4L1535.8 418.2z"/>
<path d="M1542.1 415.1L1547.4 418.9L1545.4 425.1L1538.9 425.1L1536.9 418.9z"/>
<path d="M1543.3 417.0L1548.5 420.8L1546.5 427.0L1540.0 427.0L1538.0 420.8z"/>
<path d="M1544.4 420.7L1549.6 424.5L1547.6 430.6L1541.1 430.6L1539.1 424.5z"/>
<path d="M1545.5 421.4L1550.7 425.2L1548.7 431.3L1542.2 431.3L1540.2 425.2z"/>
<path d="M1546.5 421.9L1551.8 425.7L1549.8 431.9L1543.3 431.9L1541.3 425.7z"/>
<path d="M1547.6 426.4L1552.9 430.2L1550.9 436.3L1544.4 436.3L1542.4 430.2z"/>
<path d="M1548.7 426.9L1553.9 430.7L1551.9 436.9L1545.5 436.9L1543.5 430.7z"/>
<path d="M1549.7 427.6L1555.0 431.4L1553.0 437.6L1546.5 437.6L1544.5 431.4z"/>
<path d="M1550.8 429.0L1556.0 432.8L1554.0 438.9L1547.5 438.9L1545.5 432.8z"/>
<path d="M1551.8 431.9L1557.0 435.7L1555.0 441.9L1548.6 441.9L1546.6 435.7z"/>
<path d="M1552.8 432.8L1558.1 436.6L1556.1 442.7L1549.6 442.7L1547.6 436.6z"/>
<path d="M1553.8 434.4L1559.1 438.2L1557.1 444.3L1550.6 444.3L1548.6 438.2z"/>
<path d="M1554.8 436.0L1560.1 439.8L1558.1 445.9L1551.6 445.9L1549.6 439.8z"/>
<path d="M1555.8 438.4L1561.1 442.2L1559.1 448.3L1552.6 448.3L1550.6 442.2z"/>
<path d="M1556.8 441.5L1562.0 445.3L1560.1 451.4L1553.6 451.4L1551.6 445.3z"/>
<path d="M1557.8 442.0L1563.0 445.8L1561.0 452.0L1554.6 452.0L1552.6 445.8z"/>
<path d="M1558.8 443.0L1564.0 446.8L1562.0 453.0L1555.5 453.0L1553.5 446.8z"/>
<path d="M1559.7 446.5L1564.9 450.3L1562.9 456.5L1556.5 456.5L1554.5 450.3z"/>
<path d="M1560.7 447.8L1565.9 451.6L1563.9 457.8L1557.4 457.8L1555.4 451.6z"/>
<path d="M1561.6 450.3L1566.8 454.1L1564.8 460.2L1558.4 460.2L1556.4 454.1z"/>
<path d="M1562.5 452.4L1567.8 456.2L1565.8 462.4L1559.3 462.4L1557.3 456.2z"/>
<path d="M1563.5 453.1L1568.7 456.9L1566.7 463.1L1560.2 463.1L1558.2 456.9z"/>
<path d="M1564.4 455.0L1569.6 458.8L1567.6 465.0L1561.1 465.0L1559.1 458.8z"/>
<path d="M1565.3 456.9L1570.5 460.7L1568.5 466.9L1562.0 466.9L1560.0 460.7z"/>
<path d="M1566.2 457.9L1571.4 461.7L1569.4 467.9L1562.9 467.9L1560.9 461.7z"/>
<path d="M1567.1 461.3L1572.3 465.1L1570.3 471.2L1563.8 471.2L1561.8 465.1z"/>
<path d="M1567.9 463.8L1573.2 467.6L1571.2 473.8L1564.7 473.8L1562.7 467.6z"/>
<path d="M1568.8 464.8L1574.0 468.6L1572.1 474.8L1565.6 474.8L1563.6 468.6z"/>
<path d="M1569.7 466.5L1574.9 470.3L1572.9 476.5L1566.5 476.5L1564.5 470.3z"/>
<path d="M1570.5 468.5L1575.8 472.3L1573.8 478.5L1567.3 478.5L1565.3 472.3z"/>
<path d="M1571.4 470.2L1576.6 474.0L1574.6 480.1L1568.2 480.1L1566.2 474.0z"/>
<path d="M1572.3 472.2L1577.5 476.0L1575.5 482.2L1569.0 482.2L1567.0 476.0z"/>
<path d="M1573.1 474.6L1578.3 478.4L1576.3 484.6L1569.9 484.6L1567.9 478.4z"/>
<path d="M1573.9 476.3L1579.2 480.1L1577.2 486.3L1570.7 486.3L1568.7 480.1z"/>
<path d="M1574.8 478.7L1580.0 482.5L1578.0 488.6L1571.5 488.6L1569.5 482.5z"/>
<path d="M1575.6 479.8L1580.8 483.6L1578.8 489.8L1572.3 489.8L1570.3 483.6z"/>
<path d="M1576.4 483.4L1581.6 487.2L1579.6 493.3L1573.2 493.3L1571.2 487.2z"/>
<path d="M1577.2 485.1L1582.4 488.9L1580.4 495.1L1574.0 495.1L1572.0 488.9z"/>
<path d="M1578.0 486.1L1583.2 489.9L1581.2 496.1L1574.8 496.1L1572.8 489.9z"/>
<path d="M1578.8 487.2L1584.0 491.0L1582.0 497.1L1575.6 497.1L1573.6 491.0z"/>
<path d="M1579.6 490.9L1584.8 494.7L1582.8 500.9L1576.4 500.9L1574.4 494.7z"/>
<path d="M1580.4 493.7L1585.6 497.5L1583.6 503.6L1577.1 503.6L1575.1 497.5z"/>
<path d="M1581.1 494.1L1586.4 497.9L1584.4 504.0L1577.9 504.0L1575.9 497.9z"/>
<path d="M1581.9 496.2L1587.1 500.0L1585.2 506.1L1578.7 506.1L1576.7 500.0z"/>
</g>
<path d="M1180.5 92.3L1185.0 93.4L1189.5 94.6L1194.1 95.9L1198.6 97.3L1203.1 98.7L1207.6 100.2L1212.1 101.8L1216.6 103.5L1221.2 105.2L1225.7 106.9L1230.2 108.8L1234.7 110.6L1239.2 112.6L1243.7 114.6L1248.3 116.7L1252.8 118.8L1257.3 120.9L1261.8 123.2L1266.3 125.4L1270.8 127.8L1275.4 130.1L1279.9 132.6L1284.4 135.0L1288.9 137.5L1293.4 140.1L1297.9 142.7L1302.5 145.3L1307.0 148.0L1311.5 150.8L1316.0 153.6L1320.5 156.5L1325.0 159.5L1329.6 162.6L1334.1 165.8L1338.6 169.1L1343.1 172.4L1347.6 175.9L1352.1 179.5L1356.7 183.2L1361.2 187.0L1365.7 191.0L1370.2 195.1L1374.7 199.3L1379.2 203.7L1383.8 208.3L1388.3 213.0L1392.8 217.8L1397.3 222.8L1401.8 228.1L1406.3 233.4L1410.9 239.0L1415.4 244.6L1419.9 250.4L1424.4 256.3L1428.9 262.2L1433.4 268.2L1438.0 274.3L1442.5 280.4L1447.0 286.6L1451.5 292.8L1456.0 298.9L1460.5 305.1L1465.1 311.3L1469.6 317.5L1474.1 323.7L1478.6 329.8L1483.1 336.0L1487.6 342.2L1492.2 348.4L1496.7 354.6L1501.2 360.9L1505.7 367.2L1510.2 373.6L1514.7 380.0L1519.3 386.5L1523.8 393.1L1528.3 399.8L1532.8 406.7L1537.3 413.7L1541.8 420.9L1546.4 428.2L1550.9 435.8L1555.4 443.7L1559.9 451.8L1564.4 460.2L1568.9 468.9L1573.5 477.9L1578.0 487.2L1582.5 497.0" fill="none" stroke="#ff7f0e" stroke-width="5.2"/>
<g fill="#ff0000" stroke="#ff0000" fill-opacity=".5" stroke-opacity=".58" stroke-width="2.8" stroke-linejoin="miter">
<path d="M1182.7 44.8l5.4 -10.8h-10.8z"/>
<path d="M1212.8 47.9l5.4 -10.8h-10.8z"/>
<path d="M1236.2 51.4l5.4 -10.8h-10.8z"/>
<path d="M1255.3 55.1l5.4 -10.8h-10.8z"/>
<path d="M1271.4 59.3l5.4 -10.8h-10.8z"/>
<path d="M1285.4 61.1l5.4 -10.8h-10.8z"/>
<path d="M1297.7 63.5l5.4 -10.8h-10.8z"/>
<path d="M1308.7 63.8l5.4 -10.8h-10.8z"/>
<path d="M1318.7 66.0l5.4 -10.8h-10.8z"/>
<path d="M1327.8 67.3l5.4 -10.8h-10.8z"/>
<path d="M1336.2 68.9l5.4 -10.8h-10.8z"/>
<path d="M1344.0 70.7l5.4 -10.8h-10.8z"/>
<path d="M1351.2 72.2l5.4 -10.8h-10.8z"/>
<path d="M1357.9 73.5l5.4 -10.8h-10.8z"/>
<path d="M1364.3 74.7l5.4 -10.8h-10.8z"/>
<path d="M1370.3 77.7l5.4 -10.8h-10.8z"/>
<path d="M1375.9 77.3l5.4 -10.8h-10.8z"/>
<path d="M1381.3 75.3l5.4 -10.8h-10.8z"/>
<path d="M1386.4 78.6l5.4 -10.8h-10.8z"/>
<path d="M1391.3 78.4l5.4 -10.8h-10.8z"/>
<path d="M1395.9 79.4l5.4 -10.8h-10.8z"/>
<path d="M1400.4 82.6l5.4 -10.8h-10.8z"/>
<path d="M1404.6 81.1l5.4 -10.8h-10.8z"/>
<path d="M1408.7 79.0l5.4 -10.8h-10.8z"/>
<path d="M1412.7 82.9l5.4 -10.8h-10.8z"/>
<path d="M1416.5 82.5l5.4 -10.8h-10.8z"/>
<path d="M1420.2 81.6l5.4 -10.8h-10.8z"/>
<path d="M1423.7 82.4l5.4 -10.8h-10.8z"/>
<path d="M1427.2 83.4l5.4 -10.8h-10.8z"/>
<path d="M1430.5 84.8l5.4 -10.8h-10.8z"/>
<path d="M1433.7 84.5l5.4 -10.8h-10.8z"/>
<path d="M1436.8 85.7l5.4 -10.8h-10.8z"/>
<path d="M1439.9 89.2l5.4 -10.8h-10.8z"/>
<path d="M1442.8 84.9l5.4 -10.8h-10.8z"/>
<path d="M1445.7 85.2l5.4 -10.8h-10.8z"/>
<path d="M1448.5 86.6l5.4 -10.8h-10.8z"/>
<path d="M1451.2 89.4l5.4 -10.8h-10.8z"/>
<path d="M1453.8 86.4l5.4 -10.8h-10.8z"/>
<path d="M1456.4 90.8l5.4 -10.8h-10.8z"/>
<path d="M1458.9 86.0l5.4 -10.8h-10.8z"/>
<path d="M1461.4 86.9l5.4 -10.8h-10.8z"/>
<path d="M1463.8 89.2l5.4 -10.8h-10.8z"/>
<path d="M1466.2 88.1l5.4 -10.8h-10.8z"/>
<path d="M1468.5 89.2l5.4 -10.8h-10.8z"/>
<path d="M1470.7 92.0l5.4 -10.8h-10.8z"/>
<path d="M1472.9 93.3l5.4 -10.8h-10.8z"/>
<path d="M1475.1 92.8l5.4 -10.8h-10.8z"/>
<path d="M1477.2 92.8l5.4 -10.8h-10.8z"/>
<path d="M1479.3 96.9l5.4 -10.8h-10.8z"/>
<path d="M1481.3 95.7l5.4 -10.8h-10.8z"/>
<path d="M1483.3 95.2l5.4 -10.8h-10.8z"/>
<path d="M1485.2 99.1l5.4 -10.8h-10.8z"/>
<path d="M1487.2 95.4l5.4 -10.8h-10.8z"/>
<path d="M1489.0 98.6l5.4 -10.8h-10.8z"/>
<path d="M1490.9 100.5l5.4 -10.8h-10.8z"/>
<path d="M1492.7 100.0l5.4 -10.8h-10.8z"/>
<path d="M1494.5 99.7l5.4 -10.8h-10.8z"/>
<path d="M1496.3 102.9l5.4 -10.8h-10.8z"/>
<path d="M1498.0 102.1l5.4 -10.8h-10.8z"/>
<path d="M1499.7 103.5l5.4 -10.8h-10.8z"/>
<path d="M1501.4 104.2l5.4 -10.8h-10.8z"/>
<path d="M1503.0 110.8l5.4 -10.8h-10.8z"/>
<path d="M1504.6 108.1l5.4 -10.8h-10.8z"/>
<path d="M1506.2 113.3l5.4 -10.8h-10.8z"/>
<path d="M1507.8 112.9l5.4 -10.8h-10.8z"/>
<path d="M1509.4 112.8l5.4 -10.8h-10.8z"/>
<path d="M1510.9 116.1l5.4 -10.8h-10.8z"/>
<path d="M1512.4 116.5l5.4 -10.8h-10.8z"/>
<path d="M1513.9 117.4l5.4 -10.8h-10.8z"/>
<path d="M1515.4 115.2l5.4 -10.8h-10.8z"/>
<path d="M1516.8 119.5l5.4 -10.8h-10.8z"/>
<path d="M1518.2 122.4l5.4 -10.8h-10.8z"/>
<path d="M1519.6 122.5l5.4 -10.8h-10.8z"/>
<path d="M1521.0 124.7l5.4 -10.8h-10.8z"/>
<path d="M1522.4 126.8l5.4 -10.8h-10.8z"/>
<path d="M1523.7 125.4l5.4 -10.8h-10.8z"/>
<path d="M1525.1 129.7l5.4 -10.8h-10.8z"/>
<path d="M1526.4 122.8l5.4 -10.8h-10.8z"/>
<path d="M1527.7 126.3l5.4 -10.8h-10.8z"/>
<path d="M1529.0 121.9l5.4 -10.8h-10.8z"/>
<path d="M1530.2 129.8l5.4 -10.8h-10.8z"/>
<path d="M1531.5 128.7l5.4 -10.8h-10.8z"/>
<path d="M1532.7 132.6l5.4 -10.8h-10.8z"/>
<path d="M1534.0 128.4l5.4 -10.8h-10.8z"/>
<path d="M1535.2 125.1l5.4 -10.8h-10.8z"/>
<path d="M1536.4 132.7l5.4 -10.8h-10.8z"/>
<path d="M1537.5 127.3l5.4 -10.8h-10.8z"/>
<path d="M1538.7 127.9l5.4 -10.8h-10.8z"/>
<path d="M1539.9 130.8l5.4 -10.8h-10.8z"/>
<path d="M1541.0 133.1l5.4 -10.8h-10.8z"/>
<path d="M1542.1 131.2l5.4 -10.8h-10.8z"/>
<path d="M1543.3 133.5l5.4 -10.8h-10.8z"/>
<path d="M1544.4 129.9l5.4 -10.8h-10.8z"/>
<path d="M1545.5 138.8l5.4 -10.8h-10.8z"/>
<path d="M1546.5 135.9l5.4 -10.8h-10.8z"/>
<path d="M1547.6 137.4l5.4 -10.8h-10.8z"/>
<path d="M1548.7 139.5l5.4 -10.8h-10.8z"/>
<path d="M1549.7 139.7l5.4 -10.8h-10.8z"/>
<path d="M1550.8 140.9l5.4 -10.8h-10.8z"/>
<path d="M1551.8 139.4l5.4 -10.8h-10.8z"/>
<path d="M1552.8 142.3l5.4 -10.8h-10.8z"/>
<path d="M1553.8 144.4l5.4 -10.8h-10.8z"/>
<path d="M1554.8 146.7l5.4 -10.8h-10.8z"/>
<path d="M1555.8 145.0l5.4 -10.8h-10.8z"/>
<path d="M1556.8 146.4l5.4 -10.8h-10.8z"/>
<path d="M1557.8 147.9l5.4 -10.8h-10.8z"/>
<path d="M1558.8 149.3l5.4 -10.8h-10.8z"/>
<path d="M1559.7 149.5l5.4 -10.8h-10.8z"/>
<path d="M1560.7 149.6l5.4 -10.8h-10.8z"/>
<path d="M1561.6 150.2l5.4 -10.8h-10.8z"/>
<path d="M1562.5 155.0l5.4 -10.8h-10.8z"/>
<path d="M1563.5 154.5l5.4 -10.8h-10.8z"/>
<path d="M1564.4 155.1l5.4 -10.8h-10.8z"/>
<path d="M1565.3 164.0l5.4 -10.8h-10.8z"/>
<path d="M1566.2 159.6l5.4 -10.8h-10.8z"/>
<path d="M1567.1 160.7l5.4 -10.8h-10.8z"/>
<path d="M1567.9 160.4l5.4 -10.8h-10.8z"/>
<path d="M1568.8 159.2l5.4 -10.8h-10.8z"/>
<path d="M1569.7 165.4l5.4 -10.8h-10.8z"/>
<path d="M1570.5 164.5l5.4 -10.8h-10.8z"/>
<path d="M1571.4 166.8l5.4 -10.8h-10.8z"/>
<path d="M1572.3 171.1l5.4 -10.8h-10.8z"/>
<path d="M1573.1 173.3l5.4 -10.8h-10.8z"/>
<path d="M1573.9 173.8l5.4 -10.8h-10.8z"/>
<path d="M1574.8 175.4l5.4 -10.8h-10.8z"/>
<path d="M1575.6 182.0l5.4 -10.8h-10.8z"/>
<path d="M1576.4 180.4l5.4 -10.8h-10.8z"/>
<path d="M1577.2 178.6l5.4 -10.8h-10.8z"/>
<path d="M1578.0 184.2l5.4 -10.8h-10.8z"/>
<path d="M1578.8 184.7l5.4 -10.8h-10.8z"/>
<path d="M1579.6 186.5l5.4 -10.8h-10.8z"/>
<path d="M1580.4 190.1l5.4 -10.8h-10.8z"/>
<path d="M1581.1 191.4l5.4 -10.8h-10.8z"/>
<path d="M1581.9 197.6l5.4 -10.8h-10.8z"/>
</g>
<path d="M1180.5 50.0L1183.9 50.0L1187.3 50.1L1190.6 50.2L1194.0 50.2L1197.4 50.3L1200.8 50.4L1204.1 50.5L1207.5 50.6L1210.9 50.7L1214.3 50.8L1217.7 50.9L1221.0 51.0L1224.4 51.1L1227.8 51.2L1231.2 51.3L1234.6 51.4L1237.9 51.6L1241.3 51.7L1244.7 51.8L1248.1 52.0L1251.4 52.1L1254.8 52.3L1258.2 52.4L1261.6 52.6L1265.0 52.7L1268.3 52.9L1271.7 53.1L1275.1 53.3L1278.5 53.5L1281.8 53.7L1285.2 53.9L1288.6 54.1L1292.0 54.3L1295.4 54.6L1298.7 54.8L1302.1 55.1L1305.5 55.3L1308.9 55.6L1312.2 55.9L1315.6 56.2L1319.0 56.5L1322.4 56.8L1325.8 57.1L1329.1 57.4L1332.5 57.8L1335.9 58.1L1339.3 58.5L1342.7 58.9L1346.0 59.3L1349.4 59.7L1352.8 60.2L1356.2 60.6L1359.5 61.1L1362.9 61.6L1366.3 62.1L1369.7 62.6L1373.1 63.1L1376.4 63.7L1379.8 64.3L1383.2 64.9L1386.6 65.5L1389.9 66.1L1393.3 66.8L1396.7 67.5L1400.1 68.2L1403.5 69.0L1406.8 69.8L1410.2 70.6L1413.6 71.4L1417.0 72.3L1420.3 73.1L1423.7 74.1L1427.1 75.0L1430.5 76.0L1433.9 77.1L1437.2 78.1L1440.6 79.2L1444.0 80.4L1447.4 81.6L1450.8 82.8L1454.1 84.1L1457.5 85.4L1460.9 86.8L1464.3 88.2L1467.6 89.6L1471.0 91.1L1474.4 92.7L1477.8 94.3L1481.2 96.0L1484.5 97.7L1487.9 99.5L1491.3 101.4L1494.7 103.3L1498.0 105.3L1501.4 107.4L1504.8 109.5L1508.2 111.7L1511.6 114.0L1514.9 116.3L1518.3 118.8L1521.7 121.3L1525.1 123.9L1528.4 126.5L1531.8 129.3L1535.2 132.2L1538.6 135.1L1542.0 138.2L1545.3 141.3L1548.7 144.5L1552.1 147.9L1555.5 151.0L1558.9 154.2L1562.2 158.0L1565.6 163.0L1569.0 170.6L1572.4 179.2L1575.7 188.1L1579.1 197.7L1582.5 207.8" fill="none" stroke="#ff0000" stroke-width="5.2"/>
</g>
<g fill="#1f77b4" stroke="#1f77b4" fill-opacity=".5" stroke-opacity=".58" stroke-width="2.8" stroke-linejoin="miter"><path d="M1203.0 162.1l5.4 10.8h-10.8z"/></g>
<g fill="#2ca02c" stroke="#2ca02c" fill-opacity=".5" stroke-opacity=".58" stroke-width="2.8" stroke-linejoin="miter"><circle cx="1203.0" cy="207.8" r="5.4"/></g>
<g fill="#ff7f0e" stroke="#ff7f0e" fill-opacity=".5" stroke-opacity=".58" stroke-width="2.8" stroke-linejoin="miter"><path d="M1203.0 242.5L1208.2 246.3L1206.2 252.4L1199.8 252.4L1197.8 246.3z"/></g>
<g fill="#ff0000" stroke="#ff0000" fill-opacity=".5" stroke-opacity=".58" stroke-width="2.8" stroke-linejoin="miter"><path d="M1203.0 291.9l5.4 -10.8h-10.8z"/></g>
<text x="1223.5" y="176" font-size="29.4" stroke="#000" >23 K</text>
<text x="1223.5" y="218.3" font-size="29.4" stroke="#000" >47 K</text>
<text x="1223.5" y="257.5" font-size="29.4" stroke="#000" >56 K</text>
<text x="1223.5" y="296.5" font-size="29.4" stroke="#000" >62 K</text>
<rect x="1171.25" y="4.65" width="412.2" height="547.2" fill="none" stroke="#000" stroke-width="2.5"/>
<path d="M1170 48H1182" stroke="#000" stroke-width="2.5"/>
<text x="1158.5" y="58.8" font-size="29.4" text-anchor="end" stroke="#000" >1.0</text>
<path d="M1170 174H1182" stroke="#000" stroke-width="2.5"/>
<text x="1158.5" y="184.8" font-size="29.4" text-anchor="end" stroke="#000" >0.8</text>
<path d="M1170 300H1182" stroke="#000" stroke-width="2.5"/>
<text x="1158.5" y="310.8" font-size="29.4" text-anchor="end" stroke="#000" >0.6</text>
<path d="M1170 426H1182" stroke="#000" stroke-width="2.5"/>
<text x="1158.5" y="436.8" font-size="29.4" text-anchor="end" stroke="#000" >0.4</text>
<text x="1158.5" y="562.8" font-size="29.4" text-anchor="end" stroke="#000" >0.2</text>
<path d="M1193.75 539.6V553.1" stroke="#000" stroke-width="2.5"/>
<path d="M1434.75 539.6V553.1" stroke="#000" stroke-width="2.5"/>
<path d="M1182.72 544.6V553.1" stroke="#000" stroke-width="2"/>
<path d="M1266.3 544.6V553.1" stroke="#000" stroke-width="2"/>
<path d="M1308.74 544.6V553.1" stroke="#000" stroke-width="2"/>
<path d="M1338.85 544.6V553.1" stroke="#000" stroke-width="2"/>
<path d="M1362.2 544.6V553.1" stroke="#000" stroke-width="2"/>
<path d="M1381.28 544.6V553.1" stroke="#000" stroke-width="2"/>
<path d="M1397.42 544.6V553.1" stroke="#000" stroke-width="2"/>
<path d="M1411.39 544.6V553.1" stroke="#000" stroke-width="2"/>
<path d="M1423.72 544.6V553.1" stroke="#000" stroke-width="2"/>
<path d="M1507.3 544.6V553.1" stroke="#000" stroke-width="2"/>
<path d="M1549.74 544.6V553.1" stroke="#000" stroke-width="2"/>
<path d="M1579.85 544.6V553.1" stroke="#000" stroke-width="2"/>
<text stroke="#000" x="1174.5" y="591" font-size="29.4">10<tspan dy="-12" font-size="21">2</tspan></text>
<text stroke="#000" x="1412.5" y="591" font-size="29.4">10<tspan dy="-12" font-size="21">3</tspan></text>
<text stroke="#000" x="1313.5" y="633" font-size="29.4">Time <tspan font-family="Liberation Serif, serif" font-style="italic" font-size="31">τ</tspan><tspan dx="3"> (s)</tspan></text>
<text stroke="#000" x="1089" y="284" font-size="29.4" text-anchor="middle" transform="rotate(-90 1089 284)">|<tspan font-style="italic">F</tspan>(<tspan font-family="Liberation Serif, serif" font-style="italic" font-size="26">τ</tspan>)|<tspan dy="-12.5" font-size="20.5">2</tspan></text>
<text x="1548.5" y="38.2" font-size="42" stroke="#000" font-weight="bold" >g</text>
<rect x="1276.6" y="307.4" width="168.6" height="166.6" fill="#fff"/>
<path d="M1286.77 464V474" stroke="#000" stroke-width="2.6"/>
<text x="1287.77" y="502.3" font-size="29.4" text-anchor="middle" stroke="#000" >20</text>
<path d="M1354.97 464V474" stroke="#000" stroke-width="2.6"/>
<text x="1355.97" y="502.3" font-size="29.4" text-anchor="middle" stroke="#000" >40</text>
<path d="M1423.18 464V474" stroke="#000" stroke-width="2.6"/>
<text x="1424.18" y="502.3" font-size="29.4" text-anchor="middle" stroke="#000" >60</text>
<path d="M1276.6 450.322H1286.6" stroke="#000" stroke-width="2.6"/>
<text x="1267" y="460.622" font-size="29.4" text-anchor="end" stroke="#000" >1.0</text>
<path d="M1276.6 414.376H1286.6" stroke="#000" stroke-width="2.6"/>
<text x="1267" y="424.676" font-size="29.4" text-anchor="end" stroke="#000" >1.5</text>
<path d="M1276.6 378.43H1286.6" stroke="#000" stroke-width="2.6"/>
<text x="1267" y="388.73" font-size="29.4" text-anchor="end" stroke="#000" >2.0</text>
<path d="M1276.6 342.484H1286.6" stroke="#000" stroke-width="2.6"/>
<text x="1267" y="352.784" font-size="29.4" text-anchor="end" stroke="#000" >2.5</text>
<rect x="1277.9" y="308.7" width="166" height="164" fill="none" stroke="#000" stroke-width="2.6"/>
<path d="M1297.0 385.6L1378.8 448.2L1409.5 464.7L1430.0 331.7" fill="none" stroke="#000" stroke-width="3.4"/>
<path d="M1430 315.5V347" stroke="#000" stroke-width="2.6"/>
<path d="M1423 315.5H1437" stroke="#000" stroke-width="2.6"/>
<path d="M1423 347H1437" stroke="#000" stroke-width="2.6"/>
<path d="M1297.0 378.3l7.3 7.3l-7.3 7.3l-7.3 -7.3z" fill="#fff" stroke="#000" stroke-width="2.8"/>
<path d="M1378.8 440.9l7.3 7.3l-7.3 7.3l-7.3 -7.3z" fill="#fff" stroke="#000" stroke-width="2.8"/>
<path d="M1409.5 457.4l7.3 7.3l-7.3 7.3l-7.3 -7.3z" fill="#fff" stroke="#000" stroke-width="2.8"/>
<path d="M1430.0 324.4l7.3 7.3l-7.3 7.3l-7.3 -7.3z" fill="#fff" stroke="#000" stroke-width="2.8"/>
<text x="1360" y="532.7" font-size="29.4" text-anchor="middle" stroke="#000" >Temperature (K)</text>
<text stroke="#000" x="1212" y="395" font-size="29.4" text-anchor="middle" transform="rotate(-90 1212 395)"><tspan font-family="Liberation Serif, serif" font-style="italic" font-size="31">τ</tspan><tspan dy="6" font-size="19">0</tspan><tspan dy="-6"> (×10</tspan><tspan dy="-12.5" font-size="20.5">4</tspan><tspan dy="12.5"> s)</tspan></text>
</svg>
</body></html>
